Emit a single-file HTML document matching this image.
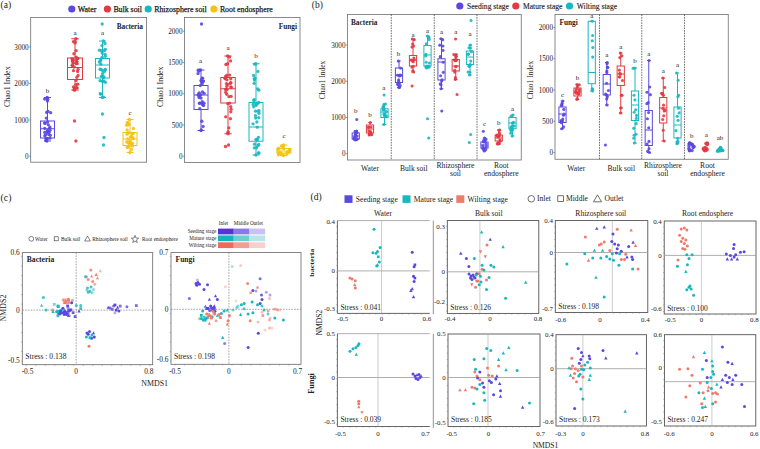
<!DOCTYPE html>
<html><head><meta charset="utf-8"><style>
html,body{margin:0;padding:0;background:#fff;width:760px;height:449px;overflow:hidden}
svg{display:block}
text{font-family:"Liberation Serif",serif}
</style></head><body>
<svg width="760" height="449" viewBox="0 0 760 449">
<rect width="760" height="449" fill="#fff"/>
<text x="0.60" y="8.30" font-size="9.5" text-anchor="start" fill="#222" >(a)</text>
<circle cx="71.80" cy="9.00" r="3.6" fill="#5a48e0"/>
<text x="77.80" y="11.80" font-size="7.85" text-anchor="start" fill="#222" stroke="#222" stroke-width="0.25">Water</text>
<circle cx="107.40" cy="9.00" r="3.6" fill="#e23a42"/>
<text x="113.40" y="11.80" font-size="7.85" text-anchor="start" fill="#222" stroke="#222" stroke-width="0.25">Bulk soil</text>
<circle cx="148.20" cy="9.00" r="3.6" fill="#18b8c0"/>
<text x="154.20" y="11.80" font-size="7.85" text-anchor="start" fill="#222" stroke="#222" stroke-width="0.25">Rhizosphere soil</text>
<circle cx="213.90" cy="9.00" r="3.6" fill="#f5c216"/>
<text x="219.90" y="11.80" font-size="7.85" text-anchor="start" fill="#222" stroke="#222" stroke-width="0.25">Root endosphere</text>
<rect x="30.70" y="17.50" width="115.90" height="144.70" stroke="#6e6e6e" stroke-width="0.8" fill="none"/>
<line x1="29.10" y1="156.25" x2="30.70" y2="156.25" stroke="#555" stroke-width="0.6"/>
<text x="28.70" y="158.75" font-size="7.2" text-anchor="end" fill="#222" >0</text>
<line x1="29.10" y1="120.00" x2="30.70" y2="120.00" stroke="#555" stroke-width="0.6"/>
<text x="28.70" y="122.50" font-size="7.2" text-anchor="end" fill="#222" >1000</text>
<line x1="29.10" y1="83.50" x2="30.70" y2="83.50" stroke="#555" stroke-width="0.6"/>
<text x="28.70" y="86.00" font-size="7.2" text-anchor="end" fill="#222" >2000</text>
<line x1="29.10" y1="47.00" x2="30.70" y2="47.00" stroke="#555" stroke-width="0.6"/>
<text x="28.70" y="49.50" font-size="7.2" text-anchor="end" fill="#222" >3000</text>
<text x="7.80" y="86.70" font-size="7.9" text-anchor="middle" fill="#222" transform="rotate(-90 7.8 86.7)" dominant-baseline="middle">Chao1 Index</text>
<text x="143.00" y="28.50" font-size="7.3" text-anchor="end" font-weight="bold" fill="#222" >Bacteria</text>
<line x1="47.50" y1="97.50" x2="47.50" y2="121.00" stroke="#5a48e0" stroke-width="1.0"/>
<line x1="47.50" y1="138.00" x2="47.50" y2="141.00" stroke="#5a48e0" stroke-width="1.0"/>
<line x1="44.00" y1="97.50" x2="51.00" y2="97.50" stroke="#5a48e0" stroke-width="1.0"/>
<line x1="44.00" y1="141.00" x2="51.00" y2="141.00" stroke="#5a48e0" stroke-width="1.0"/>
<rect x="40.50" y="121.00" width="14.00" height="17.00" stroke="#5a48e0" stroke-width="1.0" fill="none"/>
<line x1="40.50" y1="128.75" x2="54.50" y2="128.75" stroke="#5a48e0" stroke-width="1.0"/>
<circle cx="47.15" cy="97.50" r="1.65" fill="#5a48e0" fill-opacity="0.9"/>
<circle cx="46.80" cy="141.00" r="1.65" fill="#5a48e0" fill-opacity="0.9"/>
<circle cx="47.73" cy="99.20" r="1.65" fill="#5a48e0" fill-opacity="0.9"/>
<circle cx="47.55" cy="121.99" r="1.65" fill="#5a48e0" fill-opacity="0.9"/>
<circle cx="44.75" cy="128.37" r="1.65" fill="#5a48e0" fill-opacity="0.9"/>
<circle cx="49.59" cy="128.22" r="1.65" fill="#5a48e0" fill-opacity="0.9"/>
<circle cx="48.32" cy="124.80" r="1.65" fill="#5a48e0" fill-opacity="0.9"/>
<circle cx="46.84" cy="139.73" r="1.65" fill="#5a48e0" fill-opacity="0.9"/>
<circle cx="49.79" cy="138.14" r="1.65" fill="#5a48e0" fill-opacity="0.9"/>
<circle cx="45.05" cy="123.45" r="1.65" fill="#5a48e0" fill-opacity="0.9"/>
<circle cx="45.46" cy="134.87" r="1.65" fill="#5a48e0" fill-opacity="0.9"/>
<circle cx="46.68" cy="112.51" r="1.65" fill="#5a48e0" fill-opacity="0.9"/>
<circle cx="44.68" cy="98.98" r="1.65" fill="#5a48e0" fill-opacity="0.9"/>
<circle cx="47.04" cy="132.57" r="1.65" fill="#5a48e0" fill-opacity="0.9"/>
<circle cx="47.20" cy="130.95" r="1.65" fill="#5a48e0" fill-opacity="0.9"/>
<circle cx="48.77" cy="134.50" r="1.65" fill="#5a48e0" fill-opacity="0.9"/>
<circle cx="47.66" cy="130.77" r="1.65" fill="#5a48e0" fill-opacity="0.9"/>
<circle cx="46.14" cy="140.19" r="1.65" fill="#5a48e0" fill-opacity="0.9"/>
<circle cx="46.98" cy="138.35" r="1.65" fill="#5a48e0" fill-opacity="0.9"/>
<circle cx="47.43" cy="101.07" r="1.65" fill="#5a48e0" fill-opacity="0.9"/>
<circle cx="49.19" cy="132.36" r="1.65" fill="#5a48e0" fill-opacity="0.9"/>
<circle cx="46.31" cy="118.07" r="1.65" fill="#5a48e0" fill-opacity="0.9"/>
<circle cx="48.01" cy="111.47" r="1.65" fill="#5a48e0" fill-opacity="0.9"/>
<circle cx="50.35" cy="135.28" r="1.65" fill="#5a48e0" fill-opacity="0.9"/>
<circle cx="44.69" cy="132.29" r="1.65" fill="#5a48e0" fill-opacity="0.9"/>
<circle cx="50.66" cy="112.71" r="1.65" fill="#5a48e0" fill-opacity="0.9"/>
<circle cx="46.77" cy="138.85" r="1.65" fill="#5a48e0" fill-opacity="0.9"/>
<circle cx="47.25" cy="98.03" r="1.65" fill="#5a48e0" fill-opacity="0.9"/>
<circle cx="44.68" cy="122.99" r="1.65" fill="#5a48e0" fill-opacity="0.9"/>
<circle cx="45.88" cy="138.39" r="1.65" fill="#5a48e0" fill-opacity="0.9"/>
<circle cx="44.82" cy="135.81" r="1.65" fill="#5a48e0" fill-opacity="0.9"/>
<circle cx="49.95" cy="130.34" r="1.65" fill="#5a48e0" fill-opacity="0.9"/>
<circle cx="46.08" cy="140.59" r="1.65" fill="#5a48e0" fill-opacity="0.9"/>
<circle cx="49.96" cy="127.10" r="1.65" fill="#5a48e0" fill-opacity="0.9"/>
<line x1="75.00" y1="38.75" x2="75.00" y2="58.00" stroke="#e23a42" stroke-width="1.0"/>
<line x1="75.00" y1="79.50" x2="75.00" y2="90.00" stroke="#e23a42" stroke-width="1.0"/>
<line x1="71.25" y1="38.75" x2="78.75" y2="38.75" stroke="#e23a42" stroke-width="1.0"/>
<line x1="71.25" y1="90.00" x2="78.75" y2="90.00" stroke="#e23a42" stroke-width="1.0"/>
<rect x="67.50" y="58.00" width="15.00" height="21.50" stroke="#e23a42" stroke-width="1.0" fill="none"/>
<line x1="67.50" y1="67.50" x2="82.50" y2="67.50" stroke="#e23a42" stroke-width="1.0"/>
<circle cx="75.92" cy="38.75" r="1.65" fill="#e23a42" fill-opacity="0.9"/>
<circle cx="74.30" cy="90.00" r="1.65" fill="#e23a42" fill-opacity="0.9"/>
<circle cx="73.29" cy="62.99" r="1.65" fill="#e23a42" fill-opacity="0.9"/>
<circle cx="73.48" cy="70.67" r="1.65" fill="#e23a42" fill-opacity="0.9"/>
<circle cx="74.16" cy="67.01" r="1.65" fill="#e23a42" fill-opacity="0.9"/>
<circle cx="76.22" cy="57.10" r="1.65" fill="#e23a42" fill-opacity="0.9"/>
<circle cx="76.13" cy="50.64" r="1.65" fill="#e23a42" fill-opacity="0.9"/>
<circle cx="76.79" cy="77.34" r="1.65" fill="#e23a42" fill-opacity="0.9"/>
<circle cx="74.31" cy="87.88" r="1.65" fill="#e23a42" fill-opacity="0.9"/>
<circle cx="75.86" cy="60.23" r="1.65" fill="#e23a42" fill-opacity="0.9"/>
<circle cx="73.14" cy="59.45" r="1.65" fill="#e23a42" fill-opacity="0.9"/>
<circle cx="72.14" cy="65.31" r="1.65" fill="#e23a42" fill-opacity="0.9"/>
<circle cx="72.45" cy="61.25" r="1.65" fill="#e23a42" fill-opacity="0.9"/>
<circle cx="77.40" cy="58.55" r="1.65" fill="#e23a42" fill-opacity="0.9"/>
<circle cx="73.41" cy="41.61" r="1.65" fill="#e23a42" fill-opacity="0.9"/>
<circle cx="72.59" cy="65.83" r="1.65" fill="#e23a42" fill-opacity="0.9"/>
<circle cx="74.78" cy="89.93" r="1.65" fill="#e23a42" fill-opacity="0.9"/>
<circle cx="72.45" cy="59.85" r="1.65" fill="#e23a42" fill-opacity="0.9"/>
<circle cx="77.10" cy="63.69" r="1.65" fill="#e23a42" fill-opacity="0.9"/>
<circle cx="77.89" cy="58.50" r="1.65" fill="#e23a42" fill-opacity="0.9"/>
<circle cx="75.28" cy="41.57" r="1.65" fill="#e23a42" fill-opacity="0.9"/>
<circle cx="78.06" cy="69.35" r="1.65" fill="#e23a42" fill-opacity="0.9"/>
<circle cx="73.47" cy="86.81" r="1.65" fill="#e23a42" fill-opacity="0.9"/>
<circle cx="76.74" cy="61.59" r="1.65" fill="#e23a42" fill-opacity="0.9"/>
<circle cx="73.91" cy="53.75" r="1.65" fill="#e23a42" fill-opacity="0.9"/>
<circle cx="78.10" cy="75.45" r="1.65" fill="#e23a42" fill-opacity="0.9"/>
<circle cx="77.04" cy="87.96" r="1.65" fill="#e23a42" fill-opacity="0.9"/>
<circle cx="75.11" cy="43.11" r="1.65" fill="#e23a42" fill-opacity="0.9"/>
<circle cx="71.98" cy="58.62" r="1.65" fill="#e23a42" fill-opacity="0.9"/>
<circle cx="76.23" cy="63.57" r="1.65" fill="#e23a42" fill-opacity="0.9"/>
<circle cx="77.80" cy="84.20" r="1.65" fill="#e23a42" fill-opacity="0.9"/>
<circle cx="74.13" cy="89.53" r="1.65" fill="#e23a42" fill-opacity="0.9"/>
<circle cx="73.06" cy="62.88" r="1.65" fill="#e23a42" fill-opacity="0.9"/>
<circle cx="77.56" cy="71.42" r="1.65" fill="#e23a42" fill-opacity="0.9"/>
<circle cx="75.98" cy="84.53" r="1.65" fill="#e23a42" fill-opacity="0.9"/>
<circle cx="76.03" cy="80.39" r="1.65" fill="#e23a42" fill-opacity="0.9"/>
<circle cx="76.60" cy="87.71" r="1.65" fill="#e23a42" fill-opacity="0.9"/>
<circle cx="76.85" cy="61.84" r="1.65" fill="#e23a42" fill-opacity="0.9"/>
<circle cx="74.50" cy="121.00" r="1.65" fill="#e23a42" fill-opacity="0.9"/>
<circle cx="75.90" cy="141.00" r="1.65" fill="#e23a42" fill-opacity="0.9"/>
<line x1="102.50" y1="41.00" x2="102.50" y2="58.50" stroke="#18b8c0" stroke-width="1.0"/>
<line x1="102.50" y1="78.00" x2="102.50" y2="97.50" stroke="#18b8c0" stroke-width="1.0"/>
<line x1="99.00" y1="41.00" x2="106.00" y2="41.00" stroke="#18b8c0" stroke-width="1.0"/>
<line x1="99.00" y1="97.50" x2="106.00" y2="97.50" stroke="#18b8c0" stroke-width="1.0"/>
<rect x="95.50" y="58.50" width="14.00" height="19.50" stroke="#18b8c0" stroke-width="1.0" fill="none"/>
<line x1="95.50" y1="65.00" x2="109.50" y2="65.00" stroke="#18b8c0" stroke-width="1.0"/>
<circle cx="103.44" cy="41.00" r="1.65" fill="#18b8c0" fill-opacity="0.9"/>
<circle cx="102.29" cy="97.50" r="1.65" fill="#18b8c0" fill-opacity="0.9"/>
<circle cx="103.94" cy="76.96" r="1.65" fill="#18b8c0" fill-opacity="0.9"/>
<circle cx="100.27" cy="60.98" r="1.65" fill="#18b8c0" fill-opacity="0.9"/>
<circle cx="100.24" cy="93.73" r="1.65" fill="#18b8c0" fill-opacity="0.9"/>
<circle cx="103.51" cy="97.12" r="1.65" fill="#18b8c0" fill-opacity="0.9"/>
<circle cx="100.14" cy="69.20" r="1.65" fill="#18b8c0" fill-opacity="0.9"/>
<circle cx="103.46" cy="77.43" r="1.65" fill="#18b8c0" fill-opacity="0.9"/>
<circle cx="102.08" cy="57.34" r="1.65" fill="#18b8c0" fill-opacity="0.9"/>
<circle cx="100.65" cy="94.11" r="1.65" fill="#18b8c0" fill-opacity="0.9"/>
<circle cx="100.84" cy="64.21" r="1.65" fill="#18b8c0" fill-opacity="0.9"/>
<circle cx="101.98" cy="45.54" r="1.65" fill="#18b8c0" fill-opacity="0.9"/>
<circle cx="101.56" cy="76.25" r="1.65" fill="#18b8c0" fill-opacity="0.9"/>
<circle cx="105.09" cy="69.88" r="1.65" fill="#18b8c0" fill-opacity="0.9"/>
<circle cx="102.51" cy="76.40" r="1.65" fill="#18b8c0" fill-opacity="0.9"/>
<circle cx="99.42" cy="50.16" r="1.65" fill="#18b8c0" fill-opacity="0.9"/>
<circle cx="99.33" cy="62.07" r="1.65" fill="#18b8c0" fill-opacity="0.9"/>
<circle cx="102.33" cy="81.36" r="1.65" fill="#18b8c0" fill-opacity="0.9"/>
<circle cx="101.39" cy="50.74" r="1.65" fill="#18b8c0" fill-opacity="0.9"/>
<circle cx="104.32" cy="50.72" r="1.65" fill="#18b8c0" fill-opacity="0.9"/>
<circle cx="100.89" cy="69.43" r="1.65" fill="#18b8c0" fill-opacity="0.9"/>
<circle cx="102.55" cy="73.56" r="1.65" fill="#18b8c0" fill-opacity="0.9"/>
<circle cx="105.14" cy="54.30" r="1.65" fill="#18b8c0" fill-opacity="0.9"/>
<circle cx="102.54" cy="70.44" r="1.65" fill="#18b8c0" fill-opacity="0.9"/>
<circle cx="102.20" cy="53.12" r="1.65" fill="#18b8c0" fill-opacity="0.9"/>
<circle cx="105.33" cy="49.37" r="1.65" fill="#18b8c0" fill-opacity="0.9"/>
<circle cx="105.33" cy="56.34" r="1.65" fill="#18b8c0" fill-opacity="0.9"/>
<circle cx="105.34" cy="69.41" r="1.65" fill="#18b8c0" fill-opacity="0.9"/>
<circle cx="100.08" cy="80.67" r="1.65" fill="#18b8c0" fill-opacity="0.9"/>
<circle cx="100.84" cy="59.91" r="1.65" fill="#18b8c0" fill-opacity="0.9"/>
<circle cx="104.32" cy="71.55" r="1.65" fill="#18b8c0" fill-opacity="0.9"/>
<circle cx="103.88" cy="81.01" r="1.65" fill="#18b8c0" fill-opacity="0.9"/>
<circle cx="104.95" cy="43.50" r="1.65" fill="#18b8c0" fill-opacity="0.9"/>
<circle cx="105.40" cy="82.28" r="1.65" fill="#18b8c0" fill-opacity="0.9"/>
<circle cx="102.19" cy="24.00" r="1.65" fill="#18b8c0" fill-opacity="0.9"/>
<circle cx="102.46" cy="114.00" r="1.65" fill="#18b8c0" fill-opacity="0.9"/>
<circle cx="103.97" cy="137.50" r="1.65" fill="#18b8c0" fill-opacity="0.9"/>
<circle cx="103.50" cy="145.00" r="1.65" fill="#18b8c0" fill-opacity="0.9"/>
<line x1="130.00" y1="119.50" x2="130.00" y2="132.50" stroke="#f5c216" stroke-width="1.0"/>
<line x1="130.00" y1="145.50" x2="130.00" y2="152.50" stroke="#f5c216" stroke-width="1.0"/>
<line x1="126.50" y1="119.50" x2="133.50" y2="119.50" stroke="#f5c216" stroke-width="1.0"/>
<line x1="126.50" y1="152.50" x2="133.50" y2="152.50" stroke="#f5c216" stroke-width="1.0"/>
<rect x="123.00" y="132.50" width="14.00" height="13.00" stroke="#f5c216" stroke-width="1.0" fill="none"/>
<line x1="123.00" y1="139.00" x2="137.00" y2="139.00" stroke="#f5c216" stroke-width="1.0"/>
<circle cx="129.32" cy="119.50" r="1.65" fill="#f5c216" fill-opacity="0.9"/>
<circle cx="129.86" cy="152.50" r="1.65" fill="#f5c216" fill-opacity="0.9"/>
<circle cx="127.87" cy="123.91" r="1.65" fill="#f5c216" fill-opacity="0.9"/>
<circle cx="126.64" cy="141.89" r="1.65" fill="#f5c216" fill-opacity="0.9"/>
<circle cx="126.63" cy="125.23" r="1.65" fill="#f5c216" fill-opacity="0.9"/>
<circle cx="130.09" cy="140.61" r="1.65" fill="#f5c216" fill-opacity="0.9"/>
<circle cx="132.02" cy="145.31" r="1.65" fill="#f5c216" fill-opacity="0.9"/>
<circle cx="128.36" cy="146.23" r="1.65" fill="#f5c216" fill-opacity="0.9"/>
<circle cx="128.39" cy="142.63" r="1.65" fill="#f5c216" fill-opacity="0.9"/>
<circle cx="132.88" cy="137.99" r="1.65" fill="#f5c216" fill-opacity="0.9"/>
<circle cx="127.55" cy="147.31" r="1.65" fill="#f5c216" fill-opacity="0.9"/>
<circle cx="131.40" cy="149.49" r="1.65" fill="#f5c216" fill-opacity="0.9"/>
<circle cx="131.32" cy="133.25" r="1.65" fill="#f5c216" fill-opacity="0.9"/>
<circle cx="133.07" cy="133.44" r="1.65" fill="#f5c216" fill-opacity="0.9"/>
<circle cx="127.09" cy="129.92" r="1.65" fill="#f5c216" fill-opacity="0.9"/>
<circle cx="132.54" cy="145.97" r="1.65" fill="#f5c216" fill-opacity="0.9"/>
<circle cx="130.37" cy="136.91" r="1.65" fill="#f5c216" fill-opacity="0.9"/>
<circle cx="127.40" cy="147.38" r="1.65" fill="#f5c216" fill-opacity="0.9"/>
<circle cx="127.27" cy="122.60" r="1.65" fill="#f5c216" fill-opacity="0.9"/>
<circle cx="127.91" cy="133.15" r="1.65" fill="#f5c216" fill-opacity="0.9"/>
<circle cx="131.82" cy="136.47" r="1.65" fill="#f5c216" fill-opacity="0.9"/>
<circle cx="127.75" cy="139.00" r="1.65" fill="#f5c216" fill-opacity="0.9"/>
<circle cx="128.25" cy="132.74" r="1.65" fill="#f5c216" fill-opacity="0.9"/>
<circle cx="130.36" cy="142.03" r="1.65" fill="#f5c216" fill-opacity="0.9"/>
<circle cx="133.04" cy="138.67" r="1.65" fill="#f5c216" fill-opacity="0.9"/>
<circle cx="129.53" cy="143.15" r="1.65" fill="#f5c216" fill-opacity="0.9"/>
<circle cx="129.25" cy="143.35" r="1.65" fill="#f5c216" fill-opacity="0.9"/>
<circle cx="133.38" cy="128.44" r="1.65" fill="#f5c216" fill-opacity="0.9"/>
<circle cx="131.45" cy="143.32" r="1.65" fill="#f5c216" fill-opacity="0.9"/>
<circle cx="128.93" cy="124.76" r="1.65" fill="#f5c216" fill-opacity="0.9"/>
<circle cx="127.00" cy="134.19" r="1.65" fill="#f5c216" fill-opacity="0.9"/>
<circle cx="127.64" cy="122.82" r="1.65" fill="#f5c216" fill-opacity="0.9"/>
<circle cx="132.59" cy="143.44" r="1.65" fill="#f5c216" fill-opacity="0.9"/>
<circle cx="128.20" cy="123.17" r="1.65" fill="#f5c216" fill-opacity="0.9"/>
<text x="47.50" y="93.20" font-size="7" text-anchor="middle" fill="#222" >b</text>
<text x="75.00" y="34.70" font-size="7" text-anchor="middle" fill="#222" >a</text>
<text x="102.50" y="34.70" font-size="7" text-anchor="middle" fill="#222" >a</text>
<text x="130.00" y="115.20" font-size="7" text-anchor="middle" fill="#222" >c</text>
<rect x="184.50" y="17.50" width="115.50" height="145.00" stroke="#6e6e6e" stroke-width="0.8" fill="none"/>
<line x1="182.90" y1="156.25" x2="184.50" y2="156.25" stroke="#555" stroke-width="0.6"/>
<text x="182.50" y="158.75" font-size="7.2" text-anchor="end" fill="#222" >0</text>
<line x1="182.90" y1="125.00" x2="184.50" y2="125.00" stroke="#555" stroke-width="0.6"/>
<text x="182.50" y="127.50" font-size="7.2" text-anchor="end" fill="#222" >500</text>
<line x1="182.90" y1="93.75" x2="184.50" y2="93.75" stroke="#555" stroke-width="0.6"/>
<text x="182.50" y="96.25" font-size="7.2" text-anchor="end" fill="#222" >1000</text>
<line x1="182.90" y1="62.50" x2="184.50" y2="62.50" stroke="#555" stroke-width="0.6"/>
<text x="182.50" y="65.00" font-size="7.2" text-anchor="end" fill="#222" >1500</text>
<line x1="182.90" y1="31.25" x2="184.50" y2="31.25" stroke="#555" stroke-width="0.6"/>
<text x="182.50" y="33.75" font-size="7.2" text-anchor="end" fill="#222" >2000</text>
<text x="161.20" y="86.70" font-size="7.9" text-anchor="middle" fill="#222" transform="rotate(-90 161.2 86.7)" dominant-baseline="middle">Chao1 Index</text>
<text x="297.00" y="28.50" font-size="7.3" text-anchor="end" font-weight="bold" fill="#222" >Fungi</text>
<line x1="201.00" y1="70.00" x2="201.00" y2="85.50" stroke="#5a48e0" stroke-width="1.0"/>
<line x1="201.00" y1="109.50" x2="201.00" y2="130.50" stroke="#5a48e0" stroke-width="1.0"/>
<line x1="197.50" y1="70.00" x2="204.50" y2="70.00" stroke="#5a48e0" stroke-width="1.0"/>
<line x1="197.50" y1="130.50" x2="204.50" y2="130.50" stroke="#5a48e0" stroke-width="1.0"/>
<rect x="194.00" y="85.50" width="14.00" height="24.00" stroke="#5a48e0" stroke-width="1.0" fill="none"/>
<line x1="194.00" y1="95.00" x2="208.00" y2="95.00" stroke="#5a48e0" stroke-width="1.0"/>
<circle cx="200.59" cy="70.00" r="1.65" fill="#5a48e0" fill-opacity="0.9"/>
<circle cx="200.92" cy="130.50" r="1.65" fill="#5a48e0" fill-opacity="0.9"/>
<circle cx="199.48" cy="96.20" r="1.65" fill="#5a48e0" fill-opacity="0.9"/>
<circle cx="201.30" cy="129.93" r="1.65" fill="#5a48e0" fill-opacity="0.9"/>
<circle cx="199.78" cy="108.68" r="1.65" fill="#5a48e0" fill-opacity="0.9"/>
<circle cx="200.24" cy="85.53" r="1.65" fill="#5a48e0" fill-opacity="0.9"/>
<circle cx="199.09" cy="97.57" r="1.65" fill="#5a48e0" fill-opacity="0.9"/>
<circle cx="199.49" cy="70.08" r="1.65" fill="#5a48e0" fill-opacity="0.9"/>
<circle cx="198.07" cy="95.09" r="1.65" fill="#5a48e0" fill-opacity="0.9"/>
<circle cx="199.29" cy="92.80" r="1.65" fill="#5a48e0" fill-opacity="0.9"/>
<circle cx="202.60" cy="78.20" r="1.65" fill="#5a48e0" fill-opacity="0.9"/>
<circle cx="203.43" cy="81.10" r="1.65" fill="#5a48e0" fill-opacity="0.9"/>
<circle cx="204.10" cy="93.33" r="1.65" fill="#5a48e0" fill-opacity="0.9"/>
<circle cx="201.92" cy="102.88" r="1.65" fill="#5a48e0" fill-opacity="0.9"/>
<circle cx="203.51" cy="105.55" r="1.65" fill="#5a48e0" fill-opacity="0.9"/>
<circle cx="203.00" cy="81.37" r="1.65" fill="#5a48e0" fill-opacity="0.9"/>
<circle cx="201.03" cy="98.07" r="1.65" fill="#5a48e0" fill-opacity="0.9"/>
<circle cx="203.09" cy="126.40" r="1.65" fill="#5a48e0" fill-opacity="0.9"/>
<circle cx="202.17" cy="83.84" r="1.65" fill="#5a48e0" fill-opacity="0.9"/>
<circle cx="198.00" cy="73.56" r="1.65" fill="#5a48e0" fill-opacity="0.9"/>
<circle cx="198.47" cy="94.16" r="1.65" fill="#5a48e0" fill-opacity="0.9"/>
<circle cx="201.82" cy="121.23" r="1.65" fill="#5a48e0" fill-opacity="0.9"/>
<circle cx="200.93" cy="80.55" r="1.65" fill="#5a48e0" fill-opacity="0.9"/>
<circle cx="202.59" cy="104.64" r="1.65" fill="#5a48e0" fill-opacity="0.9"/>
<circle cx="202.02" cy="78.30" r="1.65" fill="#5a48e0" fill-opacity="0.9"/>
<circle cx="199.41" cy="103.18" r="1.65" fill="#5a48e0" fill-opacity="0.9"/>
<circle cx="202.47" cy="91.87" r="1.65" fill="#5a48e0" fill-opacity="0.9"/>
<circle cx="204.04" cy="103.26" r="1.65" fill="#5a48e0" fill-opacity="0.9"/>
<circle cx="200.87" cy="94.68" r="1.65" fill="#5a48e0" fill-opacity="0.9"/>
<circle cx="201.75" cy="81.89" r="1.65" fill="#5a48e0" fill-opacity="0.9"/>
<circle cx="198.74" cy="71.20" r="1.65" fill="#5a48e0" fill-opacity="0.9"/>
<circle cx="199.75" cy="103.34" r="1.65" fill="#5a48e0" fill-opacity="0.9"/>
<circle cx="198.19" cy="70.19" r="1.65" fill="#5a48e0" fill-opacity="0.9"/>
<circle cx="202.23" cy="101.63" r="1.65" fill="#5a48e0" fill-opacity="0.9"/>
<circle cx="201.53" cy="24.00" r="1.65" fill="#5a48e0" fill-opacity="0.9"/>
<line x1="228.00" y1="56.00" x2="228.00" y2="77.50" stroke="#e23a42" stroke-width="1.0"/>
<line x1="228.00" y1="103.00" x2="228.00" y2="133.75" stroke="#e23a42" stroke-width="1.0"/>
<line x1="224.38" y1="56.00" x2="231.62" y2="56.00" stroke="#e23a42" stroke-width="1.0"/>
<line x1="224.38" y1="133.75" x2="231.62" y2="133.75" stroke="#e23a42" stroke-width="1.0"/>
<rect x="220.75" y="77.50" width="14.50" height="25.50" stroke="#e23a42" stroke-width="1.0" fill="none"/>
<line x1="220.75" y1="88.75" x2="235.25" y2="88.75" stroke="#e23a42" stroke-width="1.0"/>
<circle cx="227.58" cy="56.00" r="1.65" fill="#e23a42" fill-opacity="0.9"/>
<circle cx="228.03" cy="133.75" r="1.65" fill="#e23a42" fill-opacity="0.9"/>
<circle cx="225.56" cy="89.39" r="1.65" fill="#e23a42" fill-opacity="0.9"/>
<circle cx="231.06" cy="109.13" r="1.65" fill="#e23a42" fill-opacity="0.9"/>
<circle cx="227.74" cy="103.54" r="1.65" fill="#e23a42" fill-opacity="0.9"/>
<circle cx="227.68" cy="132.77" r="1.65" fill="#e23a42" fill-opacity="0.9"/>
<circle cx="230.85" cy="82.85" r="1.65" fill="#e23a42" fill-opacity="0.9"/>
<circle cx="225.71" cy="92.33" r="1.65" fill="#e23a42" fill-opacity="0.9"/>
<circle cx="225.65" cy="76.48" r="1.65" fill="#e23a42" fill-opacity="0.9"/>
<circle cx="230.48" cy="118.64" r="1.65" fill="#e23a42" fill-opacity="0.9"/>
<circle cx="230.55" cy="60.97" r="1.65" fill="#e23a42" fill-opacity="0.9"/>
<circle cx="224.82" cy="78.13" r="1.65" fill="#e23a42" fill-opacity="0.9"/>
<circle cx="226.73" cy="88.99" r="1.65" fill="#e23a42" fill-opacity="0.9"/>
<circle cx="226.82" cy="86.27" r="1.65" fill="#e23a42" fill-opacity="0.9"/>
<circle cx="229.60" cy="103.05" r="1.65" fill="#e23a42" fill-opacity="0.9"/>
<circle cx="230.73" cy="106.69" r="1.65" fill="#e23a42" fill-opacity="0.9"/>
<circle cx="226.65" cy="75.38" r="1.65" fill="#e23a42" fill-opacity="0.9"/>
<circle cx="231.19" cy="87.52" r="1.65" fill="#e23a42" fill-opacity="0.9"/>
<circle cx="227.54" cy="63.76" r="1.65" fill="#e23a42" fill-opacity="0.9"/>
<circle cx="225.45" cy="78.73" r="1.65" fill="#e23a42" fill-opacity="0.9"/>
<circle cx="230.79" cy="111.78" r="1.65" fill="#e23a42" fill-opacity="0.9"/>
<circle cx="228.07" cy="84.28" r="1.65" fill="#e23a42" fill-opacity="0.9"/>
<circle cx="230.92" cy="87.02" r="1.65" fill="#e23a42" fill-opacity="0.9"/>
<circle cx="228.84" cy="127.97" r="1.65" fill="#e23a42" fill-opacity="0.9"/>
<circle cx="228.32" cy="131.93" r="1.65" fill="#e23a42" fill-opacity="0.9"/>
<circle cx="229.49" cy="57.06" r="1.65" fill="#e23a42" fill-opacity="0.9"/>
<circle cx="228.92" cy="96.69" r="1.65" fill="#e23a42" fill-opacity="0.9"/>
<circle cx="230.73" cy="78.75" r="1.65" fill="#e23a42" fill-opacity="0.9"/>
<circle cx="227.00" cy="89.54" r="1.65" fill="#e23a42" fill-opacity="0.9"/>
<circle cx="231.05" cy="96.35" r="1.65" fill="#e23a42" fill-opacity="0.9"/>
<circle cx="226.73" cy="94.23" r="1.65" fill="#e23a42" fill-opacity="0.9"/>
<circle cx="225.87" cy="64.48" r="1.65" fill="#e23a42" fill-opacity="0.9"/>
<circle cx="230.60" cy="82.80" r="1.65" fill="#e23a42" fill-opacity="0.9"/>
<circle cx="230.60" cy="83.11" r="1.65" fill="#e23a42" fill-opacity="0.9"/>
<circle cx="225.69" cy="116.84" r="1.65" fill="#e23a42" fill-opacity="0.9"/>
<circle cx="226.99" cy="79.81" r="1.65" fill="#e23a42" fill-opacity="0.9"/>
<circle cx="226.45" cy="83.60" r="1.65" fill="#e23a42" fill-opacity="0.9"/>
<circle cx="229.60" cy="75.08" r="1.65" fill="#e23a42" fill-opacity="0.9"/>
<circle cx="225.50" cy="146.50" r="1.65" fill="#e23a42" fill-opacity="0.9"/>
<circle cx="228.50" cy="145.00" r="1.65" fill="#e23a42" fill-opacity="0.9"/>
<line x1="256.00" y1="63.75" x2="256.00" y2="102.50" stroke="#18b8c0" stroke-width="1.0"/>
<line x1="256.00" y1="141.25" x2="256.00" y2="155.00" stroke="#18b8c0" stroke-width="1.0"/>
<line x1="252.50" y1="63.75" x2="259.50" y2="63.75" stroke="#18b8c0" stroke-width="1.0"/>
<line x1="252.50" y1="155.00" x2="259.50" y2="155.00" stroke="#18b8c0" stroke-width="1.0"/>
<rect x="249.00" y="102.50" width="14.00" height="38.75" stroke="#18b8c0" stroke-width="1.0" fill="none"/>
<line x1="249.00" y1="127.00" x2="263.00" y2="127.00" stroke="#18b8c0" stroke-width="1.0"/>
<circle cx="255.83" cy="63.75" r="1.65" fill="#18b8c0" fill-opacity="0.9"/>
<circle cx="255.83" cy="155.00" r="1.65" fill="#18b8c0" fill-opacity="0.9"/>
<circle cx="254.96" cy="78.35" r="1.65" fill="#18b8c0" fill-opacity="0.9"/>
<circle cx="258.99" cy="113.25" r="1.65" fill="#18b8c0" fill-opacity="0.9"/>
<circle cx="256.83" cy="122.01" r="1.65" fill="#18b8c0" fill-opacity="0.9"/>
<circle cx="254.53" cy="144.22" r="1.65" fill="#18b8c0" fill-opacity="0.9"/>
<circle cx="255.65" cy="117.99" r="1.65" fill="#18b8c0" fill-opacity="0.9"/>
<circle cx="258.39" cy="152.92" r="1.65" fill="#18b8c0" fill-opacity="0.9"/>
<circle cx="257.34" cy="103.75" r="1.65" fill="#18b8c0" fill-opacity="0.9"/>
<circle cx="256.56" cy="147.76" r="1.65" fill="#18b8c0" fill-opacity="0.9"/>
<circle cx="258.73" cy="117.67" r="1.65" fill="#18b8c0" fill-opacity="0.9"/>
<circle cx="259.02" cy="153.01" r="1.65" fill="#18b8c0" fill-opacity="0.9"/>
<circle cx="253.79" cy="106.73" r="1.65" fill="#18b8c0" fill-opacity="0.9"/>
<circle cx="258.83" cy="90.18" r="1.65" fill="#18b8c0" fill-opacity="0.9"/>
<circle cx="257.69" cy="88.83" r="1.65" fill="#18b8c0" fill-opacity="0.9"/>
<circle cx="253.05" cy="123.87" r="1.65" fill="#18b8c0" fill-opacity="0.9"/>
<circle cx="258.69" cy="144.45" r="1.65" fill="#18b8c0" fill-opacity="0.9"/>
<circle cx="253.62" cy="75.52" r="1.65" fill="#18b8c0" fill-opacity="0.9"/>
<circle cx="257.27" cy="127.16" r="1.65" fill="#18b8c0" fill-opacity="0.9"/>
<circle cx="256.16" cy="105.23" r="1.65" fill="#18b8c0" fill-opacity="0.9"/>
<circle cx="254.23" cy="78.79" r="1.65" fill="#18b8c0" fill-opacity="0.9"/>
<circle cx="254.73" cy="64.16" r="1.65" fill="#18b8c0" fill-opacity="0.9"/>
<circle cx="256.93" cy="139.66" r="1.65" fill="#18b8c0" fill-opacity="0.9"/>
<circle cx="254.30" cy="147.79" r="1.65" fill="#18b8c0" fill-opacity="0.9"/>
<circle cx="257.31" cy="139.72" r="1.65" fill="#18b8c0" fill-opacity="0.9"/>
<circle cx="255.99" cy="103.34" r="1.65" fill="#18b8c0" fill-opacity="0.9"/>
<circle cx="254.45" cy="80.03" r="1.65" fill="#18b8c0" fill-opacity="0.9"/>
<circle cx="254.25" cy="99.60" r="1.65" fill="#18b8c0" fill-opacity="0.9"/>
<circle cx="255.49" cy="115.60" r="1.65" fill="#18b8c0" fill-opacity="0.9"/>
<circle cx="257.90" cy="71.43" r="1.65" fill="#18b8c0" fill-opacity="0.9"/>
<circle cx="254.11" cy="83.31" r="1.65" fill="#18b8c0" fill-opacity="0.9"/>
<circle cx="258.05" cy="145.54" r="1.65" fill="#18b8c0" fill-opacity="0.9"/>
<circle cx="257.67" cy="111.08" r="1.65" fill="#18b8c0" fill-opacity="0.9"/>
<circle cx="255.97" cy="139.39" r="1.65" fill="#18b8c0" fill-opacity="0.9"/>
<circle cx="255.47" cy="111.15" r="1.65" fill="#18b8c0" fill-opacity="0.9"/>
<circle cx="253.74" cy="100.51" r="1.65" fill="#18b8c0" fill-opacity="0.9"/>
<circle cx="259.03" cy="110.75" r="1.65" fill="#18b8c0" fill-opacity="0.9"/>
<circle cx="253.18" cy="104.51" r="1.65" fill="#18b8c0" fill-opacity="0.9"/>
<circle cx="258.45" cy="137.30" r="1.65" fill="#18b8c0" fill-opacity="0.9"/>
<circle cx="258.76" cy="102.40" r="1.65" fill="#18b8c0" fill-opacity="0.9"/>
<line x1="284.00" y1="145.00" x2="284.00" y2="148.50" stroke="#f5c216" stroke-width="1.0"/>
<line x1="284.00" y1="153.00" x2="284.00" y2="155.50" stroke="#f5c216" stroke-width="1.0"/>
<line x1="280.50" y1="145.00" x2="287.50" y2="145.00" stroke="#f5c216" stroke-width="1.0"/>
<line x1="280.50" y1="155.50" x2="287.50" y2="155.50" stroke="#f5c216" stroke-width="1.0"/>
<rect x="277.00" y="148.50" width="14.00" height="4.50" stroke="#f5c216" stroke-width="1.0" fill="none"/>
<line x1="277.00" y1="151.00" x2="291.00" y2="151.00" stroke="#f5c216" stroke-width="1.0"/>
<circle cx="283.66" cy="145.00" r="1.65" fill="#f5c216" fill-opacity="0.9"/>
<circle cx="283.37" cy="155.50" r="1.65" fill="#f5c216" fill-opacity="0.9"/>
<circle cx="278.38" cy="154.87" r="1.65" fill="#f5c216" fill-opacity="0.9"/>
<circle cx="282.49" cy="146.33" r="1.65" fill="#f5c216" fill-opacity="0.9"/>
<circle cx="278.03" cy="149.26" r="1.65" fill="#f5c216" fill-opacity="0.9"/>
<circle cx="289.47" cy="150.08" r="1.65" fill="#f5c216" fill-opacity="0.9"/>
<circle cx="280.49" cy="152.84" r="1.65" fill="#f5c216" fill-opacity="0.9"/>
<circle cx="287.86" cy="152.20" r="1.65" fill="#f5c216" fill-opacity="0.9"/>
<circle cx="283.68" cy="148.72" r="1.65" fill="#f5c216" fill-opacity="0.9"/>
<circle cx="280.32" cy="152.64" r="1.65" fill="#f5c216" fill-opacity="0.9"/>
<circle cx="278.36" cy="152.54" r="1.65" fill="#f5c216" fill-opacity="0.9"/>
<circle cx="287.20" cy="152.15" r="1.65" fill="#f5c216" fill-opacity="0.9"/>
<circle cx="278.75" cy="148.66" r="1.65" fill="#f5c216" fill-opacity="0.9"/>
<circle cx="286.97" cy="153.64" r="1.65" fill="#f5c216" fill-opacity="0.9"/>
<circle cx="281.27" cy="153.85" r="1.65" fill="#f5c216" fill-opacity="0.9"/>
<circle cx="281.15" cy="154.54" r="1.65" fill="#f5c216" fill-opacity="0.9"/>
<circle cx="281.31" cy="146.11" r="1.65" fill="#f5c216" fill-opacity="0.9"/>
<circle cx="289.00" cy="151.90" r="1.65" fill="#f5c216" fill-opacity="0.9"/>
<circle cx="278.29" cy="148.30" r="1.65" fill="#f5c216" fill-opacity="0.9"/>
<circle cx="289.48" cy="150.64" r="1.65" fill="#f5c216" fill-opacity="0.9"/>
<text x="200.50" y="63.20" font-size="7" text-anchor="middle" fill="#222" >a</text>
<text x="228.00" y="49.70" font-size="7" text-anchor="middle" fill="#222" >a</text>
<text x="256.00" y="57.70" font-size="7" text-anchor="middle" fill="#222" >b</text>
<text x="284.00" y="138.20" font-size="7" text-anchor="middle" fill="#222" >c</text>
<text x="311.80" y="8.20" font-size="9.5" text-anchor="start" fill="#222" >(b)</text>
<circle cx="459.80" cy="6.00" r="3.6" fill="#5a48e0"/>
<text x="467.00" y="9.00" font-size="7.6" text-anchor="start" fill="#222" stroke="#222" stroke-width="0.12">Seeding stage</text>
<circle cx="515.80" cy="6.00" r="3.6" fill="#e23a42"/>
<text x="523.00" y="9.00" font-size="7.6" text-anchor="start" fill="#222" stroke="#222" stroke-width="0.12">Mature stage</text>
<circle cx="569.50" cy="6.00" r="3.6" fill="#18b8c0"/>
<text x="576.70" y="9.00" font-size="7.6" text-anchor="start" fill="#222" stroke="#222" stroke-width="0.12">Wilting stage</text>
<rect x="347.50" y="14.50" width="173.75" height="145.50" stroke="#6e6e6e" stroke-width="0.8" fill="none"/>
<line x1="391.25" y1="14.50" x2="391.25" y2="160.00" stroke="#333" stroke-width="0.7" stroke-dasharray="1.6,1"/>
<line x1="434.25" y1="14.50" x2="434.25" y2="160.00" stroke="#333" stroke-width="0.7" stroke-dasharray="1.6,1"/>
<line x1="477.00" y1="14.50" x2="477.00" y2="160.00" stroke="#333" stroke-width="0.7" stroke-dasharray="1.6,1"/>
<line x1="345.90" y1="153.75" x2="347.50" y2="153.75" stroke="#555" stroke-width="0.6"/>
<text x="345.50" y="156.25" font-size="7.2" text-anchor="end" fill="#222" >0</text>
<line x1="345.90" y1="117.50" x2="347.50" y2="117.50" stroke="#555" stroke-width="0.6"/>
<text x="345.50" y="120.00" font-size="7.2" text-anchor="end" fill="#222" >1000</text>
<line x1="345.90" y1="81.25" x2="347.50" y2="81.25" stroke="#555" stroke-width="0.6"/>
<text x="345.50" y="83.75" font-size="7.2" text-anchor="end" fill="#222" >2000</text>
<line x1="345.90" y1="45.00" x2="347.50" y2="45.00" stroke="#555" stroke-width="0.6"/>
<text x="345.50" y="47.50" font-size="7.2" text-anchor="end" fill="#222" >3000</text>
<text x="323.75" y="80.00" font-size="7.5" text-anchor="middle" fill="#222" transform="rotate(-90 323.75 80)" dominant-baseline="middle">Chao1 Index</text>
<text x="351.00" y="24.50" font-size="7.3" text-anchor="start" font-weight="bold" fill="#222" >Bacteria</text>
<text x="370.00" y="171.00" font-size="7.6" text-anchor="middle" fill="#222" >Water</text>
<text x="413.75" y="171.00" font-size="7.6" text-anchor="middle" fill="#222" >Bulk soil</text>
<text x="455.50" y="167.50" font-size="7.6" text-anchor="middle" fill="#222" >Rhizosphere</text>
<text x="455.50" y="175.50" font-size="7.6" text-anchor="middle" fill="#222" >soil</text>
<text x="501.30" y="167.50" font-size="7.6" text-anchor="middle" fill="#222" >Root</text>
<text x="501.30" y="175.50" font-size="7.6" text-anchor="middle" fill="#222" >endosphere</text>
<line x1="355.75" y1="131.00" x2="355.75" y2="133.00" stroke="#5a48e0" stroke-width="1.0"/>
<line x1="355.75" y1="139.00" x2="355.75" y2="140.00" stroke="#5a48e0" stroke-width="1.0"/>
<line x1="353.95" y1="131.00" x2="357.55" y2="131.00" stroke="#5a48e0" stroke-width="1.0"/>
<line x1="353.95" y1="140.00" x2="357.55" y2="140.00" stroke="#5a48e0" stroke-width="1.0"/>
<rect x="352.15" y="133.00" width="7.20" height="6.00" stroke="#5a48e0" stroke-width="1.0" fill="none"/>
<line x1="352.15" y1="136.00" x2="359.35" y2="136.00" stroke="#5a48e0" stroke-width="1.0"/>
<circle cx="356.66" cy="131.00" r="1.55" fill="#5a48e0" fill-opacity="0.9"/>
<circle cx="355.52" cy="140.00" r="1.55" fill="#5a48e0" fill-opacity="0.9"/>
<circle cx="355.73" cy="135.58" r="1.55" fill="#5a48e0" fill-opacity="0.9"/>
<circle cx="356.90" cy="139.18" r="1.55" fill="#5a48e0" fill-opacity="0.9"/>
<circle cx="356.79" cy="132.65" r="1.55" fill="#5a48e0" fill-opacity="0.9"/>
<circle cx="355.06" cy="131.66" r="1.55" fill="#5a48e0" fill-opacity="0.9"/>
<circle cx="354.15" cy="137.69" r="1.55" fill="#5a48e0" fill-opacity="0.9"/>
<circle cx="354.79" cy="137.52" r="1.55" fill="#5a48e0" fill-opacity="0.9"/>
<circle cx="355.95" cy="133.20" r="1.55" fill="#5a48e0" fill-opacity="0.9"/>
<circle cx="357.21" cy="138.88" r="1.55" fill="#5a48e0" fill-opacity="0.9"/>
<circle cx="354.17" cy="139.26" r="1.55" fill="#5a48e0" fill-opacity="0.9"/>
<circle cx="356.55" cy="135.99" r="1.55" fill="#5a48e0" fill-opacity="0.9"/>
<circle cx="355.43" cy="134.41" r="1.55" fill="#5a48e0" fill-opacity="0.9"/>
<circle cx="356.69" cy="132.35" r="1.55" fill="#5a48e0" fill-opacity="0.9"/>
<circle cx="356.79" cy="119.50" r="1.55" fill="#5a48e0" fill-opacity="0.9"/>
<line x1="370.00" y1="122.50" x2="370.00" y2="125.00" stroke="#e23a42" stroke-width="1.0"/>
<line x1="370.00" y1="133.00" x2="370.00" y2="135.00" stroke="#e23a42" stroke-width="1.0"/>
<line x1="368.20" y1="122.50" x2="371.80" y2="122.50" stroke="#e23a42" stroke-width="1.0"/>
<line x1="368.20" y1="135.00" x2="371.80" y2="135.00" stroke="#e23a42" stroke-width="1.0"/>
<rect x="366.40" y="125.00" width="7.20" height="8.00" stroke="#e23a42" stroke-width="1.0" fill="none"/>
<line x1="366.40" y1="129.00" x2="373.60" y2="129.00" stroke="#e23a42" stroke-width="1.0"/>
<circle cx="370.33" cy="122.50" r="1.55" fill="#e23a42" fill-opacity="0.9"/>
<circle cx="369.24" cy="135.00" r="1.55" fill="#e23a42" fill-opacity="0.9"/>
<circle cx="370.25" cy="133.59" r="1.55" fill="#e23a42" fill-opacity="0.9"/>
<circle cx="368.86" cy="130.90" r="1.55" fill="#e23a42" fill-opacity="0.9"/>
<circle cx="368.68" cy="126.96" r="1.55" fill="#e23a42" fill-opacity="0.9"/>
<circle cx="369.34" cy="134.16" r="1.55" fill="#e23a42" fill-opacity="0.9"/>
<circle cx="370.03" cy="132.94" r="1.55" fill="#e23a42" fill-opacity="0.9"/>
<circle cx="370.58" cy="131.47" r="1.55" fill="#e23a42" fill-opacity="0.9"/>
<circle cx="369.90" cy="133.20" r="1.55" fill="#e23a42" fill-opacity="0.9"/>
<circle cx="371.57" cy="134.68" r="1.55" fill="#e23a42" fill-opacity="0.9"/>
<circle cx="368.55" cy="127.35" r="1.55" fill="#e23a42" fill-opacity="0.9"/>
<circle cx="370.32" cy="132.78" r="1.55" fill="#e23a42" fill-opacity="0.9"/>
<circle cx="371.39" cy="133.74" r="1.55" fill="#e23a42" fill-opacity="0.9"/>
<circle cx="371.06" cy="127.08" r="1.55" fill="#e23a42" fill-opacity="0.9"/>
<line x1="384.50" y1="104.00" x2="384.50" y2="108.75" stroke="#18b8c0" stroke-width="1.0"/>
<line x1="384.50" y1="117.50" x2="384.50" y2="124.50" stroke="#18b8c0" stroke-width="1.0"/>
<line x1="382.70" y1="104.00" x2="386.30" y2="104.00" stroke="#18b8c0" stroke-width="1.0"/>
<line x1="382.70" y1="124.50" x2="386.30" y2="124.50" stroke="#18b8c0" stroke-width="1.0"/>
<rect x="380.90" y="108.75" width="7.20" height="8.75" stroke="#18b8c0" stroke-width="1.0" fill="none"/>
<line x1="380.90" y1="112.00" x2="388.10" y2="112.00" stroke="#18b8c0" stroke-width="1.0"/>
<circle cx="385.39" cy="104.00" r="1.55" fill="#18b8c0" fill-opacity="0.9"/>
<circle cx="383.71" cy="124.50" r="1.55" fill="#18b8c0" fill-opacity="0.9"/>
<circle cx="383.43" cy="106.94" r="1.55" fill="#18b8c0" fill-opacity="0.9"/>
<circle cx="383.38" cy="109.99" r="1.55" fill="#18b8c0" fill-opacity="0.9"/>
<circle cx="385.08" cy="113.99" r="1.55" fill="#18b8c0" fill-opacity="0.9"/>
<circle cx="383.84" cy="108.85" r="1.55" fill="#18b8c0" fill-opacity="0.9"/>
<circle cx="383.79" cy="104.88" r="1.55" fill="#18b8c0" fill-opacity="0.9"/>
<circle cx="384.68" cy="115.71" r="1.55" fill="#18b8c0" fill-opacity="0.9"/>
<circle cx="384.10" cy="109.64" r="1.55" fill="#18b8c0" fill-opacity="0.9"/>
<circle cx="382.95" cy="107.04" r="1.55" fill="#18b8c0" fill-opacity="0.9"/>
<circle cx="384.16" cy="114.83" r="1.55" fill="#18b8c0" fill-opacity="0.9"/>
<circle cx="386.22" cy="111.44" r="1.55" fill="#18b8c0" fill-opacity="0.9"/>
<circle cx="383.96" cy="113.71" r="1.55" fill="#18b8c0" fill-opacity="0.9"/>
<circle cx="386.39" cy="116.31" r="1.55" fill="#18b8c0" fill-opacity="0.9"/>
<circle cx="384.09" cy="95.00" r="1.55" fill="#18b8c0" fill-opacity="0.9"/>
<line x1="399.00" y1="61.00" x2="399.00" y2="68.00" stroke="#5a48e0" stroke-width="1.0"/>
<line x1="399.00" y1="82.50" x2="399.00" y2="87.50" stroke="#5a48e0" stroke-width="1.0"/>
<line x1="397.20" y1="61.00" x2="400.80" y2="61.00" stroke="#5a48e0" stroke-width="1.0"/>
<line x1="397.20" y1="87.50" x2="400.80" y2="87.50" stroke="#5a48e0" stroke-width="1.0"/>
<rect x="395.40" y="68.00" width="7.20" height="14.50" stroke="#5a48e0" stroke-width="1.0" fill="none"/>
<line x1="395.40" y1="75.00" x2="402.60" y2="75.00" stroke="#5a48e0" stroke-width="1.0"/>
<circle cx="398.39" cy="61.00" r="1.55" fill="#5a48e0" fill-opacity="0.9"/>
<circle cx="399.46" cy="87.50" r="1.55" fill="#5a48e0" fill-opacity="0.9"/>
<circle cx="400.53" cy="68.09" r="1.55" fill="#5a48e0" fill-opacity="0.9"/>
<circle cx="398.64" cy="79.90" r="1.55" fill="#5a48e0" fill-opacity="0.9"/>
<circle cx="397.72" cy="84.80" r="1.55" fill="#5a48e0" fill-opacity="0.9"/>
<circle cx="399.53" cy="76.00" r="1.55" fill="#5a48e0" fill-opacity="0.9"/>
<circle cx="399.46" cy="82.95" r="1.55" fill="#5a48e0" fill-opacity="0.9"/>
<circle cx="397.65" cy="75.31" r="1.55" fill="#5a48e0" fill-opacity="0.9"/>
<circle cx="400.62" cy="75.56" r="1.55" fill="#5a48e0" fill-opacity="0.9"/>
<circle cx="400.16" cy="75.11" r="1.55" fill="#5a48e0" fill-opacity="0.9"/>
<circle cx="397.58" cy="83.49" r="1.55" fill="#5a48e0" fill-opacity="0.9"/>
<circle cx="398.93" cy="87.38" r="1.55" fill="#5a48e0" fill-opacity="0.9"/>
<circle cx="398.57" cy="81.43" r="1.55" fill="#5a48e0" fill-opacity="0.9"/>
<circle cx="400.23" cy="85.60" r="1.55" fill="#5a48e0" fill-opacity="0.9"/>
<line x1="413.00" y1="39.00" x2="413.00" y2="55.50" stroke="#e23a42" stroke-width="1.0"/>
<line x1="413.00" y1="66.00" x2="413.00" y2="72.00" stroke="#e23a42" stroke-width="1.0"/>
<line x1="411.20" y1="39.00" x2="414.80" y2="39.00" stroke="#e23a42" stroke-width="1.0"/>
<line x1="411.20" y1="72.00" x2="414.80" y2="72.00" stroke="#e23a42" stroke-width="1.0"/>
<rect x="409.40" y="55.50" width="7.20" height="10.50" stroke="#e23a42" stroke-width="1.0" fill="none"/>
<line x1="409.40" y1="60.00" x2="416.60" y2="60.00" stroke="#e23a42" stroke-width="1.0"/>
<circle cx="412.32" cy="39.00" r="1.55" fill="#e23a42" fill-opacity="0.9"/>
<circle cx="413.57" cy="72.00" r="1.55" fill="#e23a42" fill-opacity="0.9"/>
<circle cx="414.32" cy="59.75" r="1.55" fill="#e23a42" fill-opacity="0.9"/>
<circle cx="411.93" cy="67.10" r="1.55" fill="#e23a42" fill-opacity="0.9"/>
<circle cx="412.56" cy="60.94" r="1.55" fill="#e23a42" fill-opacity="0.9"/>
<circle cx="413.85" cy="58.09" r="1.55" fill="#e23a42" fill-opacity="0.9"/>
<circle cx="413.24" cy="66.25" r="1.55" fill="#e23a42" fill-opacity="0.9"/>
<circle cx="414.29" cy="39.63" r="1.55" fill="#e23a42" fill-opacity="0.9"/>
<circle cx="413.19" cy="61.79" r="1.55" fill="#e23a42" fill-opacity="0.9"/>
<circle cx="412.70" cy="44.05" r="1.55" fill="#e23a42" fill-opacity="0.9"/>
<circle cx="413.60" cy="46.02" r="1.55" fill="#e23a42" fill-opacity="0.9"/>
<circle cx="411.19" cy="60.10" r="1.55" fill="#e23a42" fill-opacity="0.9"/>
<circle cx="411.99" cy="47.08" r="1.55" fill="#e23a42" fill-opacity="0.9"/>
<circle cx="412.84" cy="70.68" r="1.55" fill="#e23a42" fill-opacity="0.9"/>
<circle cx="412.04" cy="86.00" r="1.55" fill="#e23a42" fill-opacity="0.9"/>
<line x1="427.50" y1="36.00" x2="427.50" y2="45.50" stroke="#18b8c0" stroke-width="1.0"/>
<line x1="427.50" y1="66.00" x2="427.50" y2="68.00" stroke="#18b8c0" stroke-width="1.0"/>
<line x1="425.70" y1="36.00" x2="429.30" y2="36.00" stroke="#18b8c0" stroke-width="1.0"/>
<line x1="425.70" y1="68.00" x2="429.30" y2="68.00" stroke="#18b8c0" stroke-width="1.0"/>
<rect x="423.90" y="45.50" width="7.20" height="20.50" stroke="#18b8c0" stroke-width="1.0" fill="none"/>
<line x1="423.90" y1="55.00" x2="431.10" y2="55.00" stroke="#18b8c0" stroke-width="1.0"/>
<circle cx="427.45" cy="36.00" r="1.55" fill="#18b8c0" fill-opacity="0.9"/>
<circle cx="426.71" cy="68.00" r="1.55" fill="#18b8c0" fill-opacity="0.9"/>
<circle cx="425.95" cy="54.33" r="1.55" fill="#18b8c0" fill-opacity="0.9"/>
<circle cx="425.75" cy="55.96" r="1.55" fill="#18b8c0" fill-opacity="0.9"/>
<circle cx="428.39" cy="36.78" r="1.55" fill="#18b8c0" fill-opacity="0.9"/>
<circle cx="425.81" cy="67.02" r="1.55" fill="#18b8c0" fill-opacity="0.9"/>
<circle cx="429.21" cy="39.59" r="1.55" fill="#18b8c0" fill-opacity="0.9"/>
<circle cx="429.39" cy="63.07" r="1.55" fill="#18b8c0" fill-opacity="0.9"/>
<circle cx="426.34" cy="43.74" r="1.55" fill="#18b8c0" fill-opacity="0.9"/>
<circle cx="429.24" cy="66.98" r="1.55" fill="#18b8c0" fill-opacity="0.9"/>
<circle cx="428.60" cy="66.33" r="1.55" fill="#18b8c0" fill-opacity="0.9"/>
<circle cx="426.93" cy="66.13" r="1.55" fill="#18b8c0" fill-opacity="0.9"/>
<circle cx="429.01" cy="37.51" r="1.55" fill="#18b8c0" fill-opacity="0.9"/>
<circle cx="426.15" cy="62.22" r="1.55" fill="#18b8c0" fill-opacity="0.9"/>
<circle cx="427.51" cy="118.75" r="1.55" fill="#18b8c0" fill-opacity="0.9"/>
<circle cx="428.76" cy="138.00" r="1.55" fill="#18b8c0" fill-opacity="0.9"/>
<line x1="441.50" y1="38.75" x2="441.50" y2="58.75" stroke="#5a48e0" stroke-width="1.0"/>
<line x1="441.50" y1="80.00" x2="441.50" y2="88.75" stroke="#5a48e0" stroke-width="1.0"/>
<line x1="439.70" y1="38.75" x2="443.30" y2="38.75" stroke="#5a48e0" stroke-width="1.0"/>
<line x1="439.70" y1="88.75" x2="443.30" y2="88.75" stroke="#5a48e0" stroke-width="1.0"/>
<rect x="437.90" y="58.75" width="7.20" height="21.25" stroke="#5a48e0" stroke-width="1.0" fill="none"/>
<line x1="437.90" y1="62.00" x2="445.10" y2="62.00" stroke="#5a48e0" stroke-width="1.0"/>
<circle cx="440.92" cy="38.75" r="1.55" fill="#5a48e0" fill-opacity="0.9"/>
<circle cx="441.03" cy="88.75" r="1.55" fill="#5a48e0" fill-opacity="0.9"/>
<circle cx="439.74" cy="45.13" r="1.55" fill="#5a48e0" fill-opacity="0.9"/>
<circle cx="443.16" cy="62.18" r="1.55" fill="#5a48e0" fill-opacity="0.9"/>
<circle cx="440.24" cy="56.66" r="1.55" fill="#5a48e0" fill-opacity="0.9"/>
<circle cx="441.62" cy="81.01" r="1.55" fill="#5a48e0" fill-opacity="0.9"/>
<circle cx="442.92" cy="45.95" r="1.55" fill="#5a48e0" fill-opacity="0.9"/>
<circle cx="442.95" cy="50.35" r="1.55" fill="#5a48e0" fill-opacity="0.9"/>
<circle cx="441.99" cy="79.85" r="1.55" fill="#5a48e0" fill-opacity="0.9"/>
<circle cx="440.61" cy="75.70" r="1.55" fill="#5a48e0" fill-opacity="0.9"/>
<circle cx="440.97" cy="85.05" r="1.55" fill="#5a48e0" fill-opacity="0.9"/>
<circle cx="440.27" cy="83.87" r="1.55" fill="#5a48e0" fill-opacity="0.9"/>
<circle cx="442.72" cy="39.72" r="1.55" fill="#5a48e0" fill-opacity="0.9"/>
<circle cx="443.34" cy="72.33" r="1.55" fill="#5a48e0" fill-opacity="0.9"/>
<circle cx="441.76" cy="111.00" r="1.55" fill="#5a48e0" fill-opacity="0.9"/>
<line x1="455.75" y1="54.50" x2="455.75" y2="59.50" stroke="#e23a42" stroke-width="1.0"/>
<line x1="455.75" y1="71.00" x2="455.75" y2="79.50" stroke="#e23a42" stroke-width="1.0"/>
<line x1="453.95" y1="54.50" x2="457.55" y2="54.50" stroke="#e23a42" stroke-width="1.0"/>
<line x1="453.95" y1="79.50" x2="457.55" y2="79.50" stroke="#e23a42" stroke-width="1.0"/>
<rect x="452.15" y="59.50" width="7.20" height="11.50" stroke="#e23a42" stroke-width="1.0" fill="none"/>
<line x1="452.15" y1="66.00" x2="459.35" y2="66.00" stroke="#e23a42" stroke-width="1.0"/>
<circle cx="456.08" cy="54.50" r="1.55" fill="#e23a42" fill-opacity="0.9"/>
<circle cx="455.38" cy="79.50" r="1.55" fill="#e23a42" fill-opacity="0.9"/>
<circle cx="454.42" cy="59.89" r="1.55" fill="#e23a42" fill-opacity="0.9"/>
<circle cx="455.80" cy="56.66" r="1.55" fill="#e23a42" fill-opacity="0.9"/>
<circle cx="454.71" cy="72.12" r="1.55" fill="#e23a42" fill-opacity="0.9"/>
<circle cx="453.86" cy="54.61" r="1.55" fill="#e23a42" fill-opacity="0.9"/>
<circle cx="455.21" cy="60.72" r="1.55" fill="#e23a42" fill-opacity="0.9"/>
<circle cx="456.09" cy="66.21" r="1.55" fill="#e23a42" fill-opacity="0.9"/>
<circle cx="455.65" cy="66.68" r="1.55" fill="#e23a42" fill-opacity="0.9"/>
<circle cx="454.78" cy="70.27" r="1.55" fill="#e23a42" fill-opacity="0.9"/>
<circle cx="456.28" cy="60.60" r="1.55" fill="#e23a42" fill-opacity="0.9"/>
<circle cx="455.38" cy="77.65" r="1.55" fill="#e23a42" fill-opacity="0.9"/>
<circle cx="456.30" cy="59.63" r="1.55" fill="#e23a42" fill-opacity="0.9"/>
<circle cx="456.30" cy="56.25" r="1.55" fill="#e23a42" fill-opacity="0.9"/>
<circle cx="455.58" cy="39.00" r="1.55" fill="#e23a42" fill-opacity="0.9"/>
<circle cx="457.06" cy="94.50" r="1.55" fill="#e23a42" fill-opacity="0.9"/>
<line x1="470.00" y1="45.00" x2="470.00" y2="51.00" stroke="#18b8c0" stroke-width="1.0"/>
<line x1="470.00" y1="64.50" x2="470.00" y2="75.00" stroke="#18b8c0" stroke-width="1.0"/>
<line x1="468.20" y1="45.00" x2="471.80" y2="45.00" stroke="#18b8c0" stroke-width="1.0"/>
<line x1="468.20" y1="75.00" x2="471.80" y2="75.00" stroke="#18b8c0" stroke-width="1.0"/>
<rect x="466.40" y="51.00" width="7.20" height="13.50" stroke="#18b8c0" stroke-width="1.0" fill="none"/>
<line x1="466.40" y1="57.00" x2="473.60" y2="57.00" stroke="#18b8c0" stroke-width="1.0"/>
<circle cx="470.47" cy="45.00" r="1.55" fill="#18b8c0" fill-opacity="0.9"/>
<circle cx="469.50" cy="75.00" r="1.55" fill="#18b8c0" fill-opacity="0.9"/>
<circle cx="470.12" cy="64.96" r="1.55" fill="#18b8c0" fill-opacity="0.9"/>
<circle cx="468.32" cy="54.21" r="1.55" fill="#18b8c0" fill-opacity="0.9"/>
<circle cx="470.19" cy="64.63" r="1.55" fill="#18b8c0" fill-opacity="0.9"/>
<circle cx="468.86" cy="65.99" r="1.55" fill="#18b8c0" fill-opacity="0.9"/>
<circle cx="470.54" cy="48.04" r="1.55" fill="#18b8c0" fill-opacity="0.9"/>
<circle cx="469.28" cy="66.33" r="1.55" fill="#18b8c0" fill-opacity="0.9"/>
<circle cx="471.48" cy="51.65" r="1.55" fill="#18b8c0" fill-opacity="0.9"/>
<circle cx="468.12" cy="72.01" r="1.55" fill="#18b8c0" fill-opacity="0.9"/>
<circle cx="469.87" cy="72.32" r="1.55" fill="#18b8c0" fill-opacity="0.9"/>
<circle cx="468.96" cy="47.71" r="1.55" fill="#18b8c0" fill-opacity="0.9"/>
<circle cx="468.25" cy="54.14" r="1.55" fill="#18b8c0" fill-opacity="0.9"/>
<circle cx="470.74" cy="61.12" r="1.55" fill="#18b8c0" fill-opacity="0.9"/>
<circle cx="471.04" cy="20.50" r="1.55" fill="#18b8c0" fill-opacity="0.9"/>
<circle cx="470.64" cy="134.50" r="1.55" fill="#18b8c0" fill-opacity="0.9"/>
<circle cx="469.30" cy="142.50" r="1.55" fill="#18b8c0" fill-opacity="0.9"/>
<line x1="484.50" y1="138.00" x2="484.50" y2="142.00" stroke="#5a48e0" stroke-width="1.0"/>
<line x1="484.50" y1="148.00" x2="484.50" y2="151.00" stroke="#5a48e0" stroke-width="1.0"/>
<line x1="482.70" y1="138.00" x2="486.30" y2="138.00" stroke="#5a48e0" stroke-width="1.0"/>
<line x1="482.70" y1="151.00" x2="486.30" y2="151.00" stroke="#5a48e0" stroke-width="1.0"/>
<rect x="480.90" y="142.00" width="7.20" height="6.00" stroke="#5a48e0" stroke-width="1.0" fill="none"/>
<line x1="480.90" y1="145.00" x2="488.10" y2="145.00" stroke="#5a48e0" stroke-width="1.0"/>
<circle cx="484.61" cy="138.00" r="1.55" fill="#5a48e0" fill-opacity="0.9"/>
<circle cx="484.37" cy="151.00" r="1.55" fill="#5a48e0" fill-opacity="0.9"/>
<circle cx="483.61" cy="149.57" r="1.55" fill="#5a48e0" fill-opacity="0.9"/>
<circle cx="483.42" cy="141.86" r="1.55" fill="#5a48e0" fill-opacity="0.9"/>
<circle cx="483.59" cy="148.05" r="1.55" fill="#5a48e0" fill-opacity="0.9"/>
<circle cx="486.19" cy="146.46" r="1.55" fill="#5a48e0" fill-opacity="0.9"/>
<circle cx="485.94" cy="139.31" r="1.55" fill="#5a48e0" fill-opacity="0.9"/>
<circle cx="486.05" cy="143.44" r="1.55" fill="#5a48e0" fill-opacity="0.9"/>
<circle cx="485.13" cy="140.77" r="1.55" fill="#5a48e0" fill-opacity="0.9"/>
<circle cx="485.79" cy="149.41" r="1.55" fill="#5a48e0" fill-opacity="0.9"/>
<circle cx="484.26" cy="141.43" r="1.55" fill="#5a48e0" fill-opacity="0.9"/>
<circle cx="483.77" cy="140.28" r="1.55" fill="#5a48e0" fill-opacity="0.9"/>
<circle cx="482.90" cy="145.74" r="1.55" fill="#5a48e0" fill-opacity="0.9"/>
<circle cx="482.70" cy="148.43" r="1.55" fill="#5a48e0" fill-opacity="0.9"/>
<circle cx="483.32" cy="131.25" r="1.55" fill="#5a48e0" fill-opacity="0.9"/>
<line x1="498.75" y1="130.00" x2="498.75" y2="135.00" stroke="#e23a42" stroke-width="1.0"/>
<line x1="498.75" y1="141.00" x2="498.75" y2="144.00" stroke="#e23a42" stroke-width="1.0"/>
<line x1="496.95" y1="130.00" x2="500.55" y2="130.00" stroke="#e23a42" stroke-width="1.0"/>
<line x1="496.95" y1="144.00" x2="500.55" y2="144.00" stroke="#e23a42" stroke-width="1.0"/>
<rect x="495.15" y="135.00" width="7.20" height="6.00" stroke="#e23a42" stroke-width="1.0" fill="none"/>
<line x1="495.15" y1="138.00" x2="502.35" y2="138.00" stroke="#e23a42" stroke-width="1.0"/>
<circle cx="499.61" cy="130.00" r="1.55" fill="#e23a42" fill-opacity="0.9"/>
<circle cx="498.44" cy="144.00" r="1.55" fill="#e23a42" fill-opacity="0.9"/>
<circle cx="497.01" cy="135.17" r="1.55" fill="#e23a42" fill-opacity="0.9"/>
<circle cx="499.50" cy="133.17" r="1.55" fill="#e23a42" fill-opacity="0.9"/>
<circle cx="499.09" cy="130.33" r="1.55" fill="#e23a42" fill-opacity="0.9"/>
<circle cx="499.96" cy="139.91" r="1.55" fill="#e23a42" fill-opacity="0.9"/>
<circle cx="500.15" cy="141.20" r="1.55" fill="#e23a42" fill-opacity="0.9"/>
<circle cx="497.26" cy="143.83" r="1.55" fill="#e23a42" fill-opacity="0.9"/>
<circle cx="496.98" cy="135.67" r="1.55" fill="#e23a42" fill-opacity="0.9"/>
<circle cx="499.26" cy="143.44" r="1.55" fill="#e23a42" fill-opacity="0.9"/>
<circle cx="497.94" cy="142.89" r="1.55" fill="#e23a42" fill-opacity="0.9"/>
<circle cx="499.73" cy="135.59" r="1.55" fill="#e23a42" fill-opacity="0.9"/>
<circle cx="498.46" cy="136.91" r="1.55" fill="#e23a42" fill-opacity="0.9"/>
<circle cx="497.92" cy="136.54" r="1.55" fill="#e23a42" fill-opacity="0.9"/>
<line x1="512.50" y1="115.00" x2="512.50" y2="117.50" stroke="#18b8c0" stroke-width="1.0"/>
<line x1="512.50" y1="128.75" x2="512.50" y2="136.00" stroke="#18b8c0" stroke-width="1.0"/>
<line x1="510.70" y1="115.00" x2="514.30" y2="115.00" stroke="#18b8c0" stroke-width="1.0"/>
<line x1="510.70" y1="136.00" x2="514.30" y2="136.00" stroke="#18b8c0" stroke-width="1.0"/>
<rect x="508.90" y="117.50" width="7.20" height="11.25" stroke="#18b8c0" stroke-width="1.0" fill="none"/>
<line x1="508.90" y1="123.00" x2="516.10" y2="123.00" stroke="#18b8c0" stroke-width="1.0"/>
<circle cx="512.93" cy="115.00" r="1.55" fill="#18b8c0" fill-opacity="0.9"/>
<circle cx="512.24" cy="136.00" r="1.55" fill="#18b8c0" fill-opacity="0.9"/>
<circle cx="512.51" cy="128.34" r="1.55" fill="#18b8c0" fill-opacity="0.9"/>
<circle cx="510.72" cy="133.23" r="1.55" fill="#18b8c0" fill-opacity="0.9"/>
<circle cx="513.54" cy="122.41" r="1.55" fill="#18b8c0" fill-opacity="0.9"/>
<circle cx="512.64" cy="125.43" r="1.55" fill="#18b8c0" fill-opacity="0.9"/>
<circle cx="510.95" cy="127.20" r="1.55" fill="#18b8c0" fill-opacity="0.9"/>
<circle cx="510.60" cy="129.99" r="1.55" fill="#18b8c0" fill-opacity="0.9"/>
<circle cx="514.32" cy="126.07" r="1.55" fill="#18b8c0" fill-opacity="0.9"/>
<circle cx="512.47" cy="123.02" r="1.55" fill="#18b8c0" fill-opacity="0.9"/>
<circle cx="512.48" cy="130.09" r="1.55" fill="#18b8c0" fill-opacity="0.9"/>
<circle cx="511.59" cy="126.86" r="1.55" fill="#18b8c0" fill-opacity="0.9"/>
<circle cx="511.42" cy="130.81" r="1.55" fill="#18b8c0" fill-opacity="0.9"/>
<circle cx="511.02" cy="116.25" r="1.55" fill="#18b8c0" fill-opacity="0.9"/>
<text x="355.75" y="113.20" font-size="7" text-anchor="middle" fill="#222" >b</text>
<text x="370.00" y="117.20" font-size="7" text-anchor="middle" fill="#222" >b</text>
<text x="383.75" y="89.70" font-size="7" text-anchor="middle" fill="#222" >a</text>
<text x="398.50" y="56.20" font-size="7" text-anchor="middle" fill="#222" >b</text>
<text x="413.00" y="37.20" font-size="7" text-anchor="middle" fill="#222" >a</text>
<text x="427.50" y="33.20" font-size="7" text-anchor="middle" fill="#222" >a</text>
<text x="441.50" y="34.20" font-size="7" text-anchor="middle" fill="#222" >a</text>
<text x="455.75" y="34.20" font-size="7" text-anchor="middle" fill="#222" >a</text>
<text x="470.00" y="36.20" font-size="7" text-anchor="middle" fill="#222" >a</text>
<text x="484.50" y="126.20" font-size="7" text-anchor="middle" fill="#222" >c</text>
<text x="498.75" y="124.70" font-size="7" text-anchor="middle" fill="#222" >b</text>
<text x="512.50" y="110.95" font-size="7" text-anchor="middle" fill="#222" >a</text>
<rect x="555.00" y="14.50" width="173.25" height="144.75" stroke="#6e6e6e" stroke-width="0.8" fill="none"/>
<line x1="599.50" y1="14.50" x2="599.50" y2="159.25" stroke="#333" stroke-width="0.7" stroke-dasharray="1.6,1"/>
<line x1="641.75" y1="14.50" x2="641.75" y2="159.25" stroke="#333" stroke-width="0.7" stroke-dasharray="1.6,1"/>
<line x1="684.50" y1="14.50" x2="684.50" y2="159.25" stroke="#333" stroke-width="0.7" stroke-dasharray="1.6,1"/>
<line x1="553.40" y1="152.50" x2="555.00" y2="152.50" stroke="#555" stroke-width="0.6"/>
<text x="553.00" y="155.00" font-size="7.2" text-anchor="end" fill="#222" >0</text>
<line x1="553.40" y1="121.25" x2="555.00" y2="121.25" stroke="#555" stroke-width="0.6"/>
<text x="553.00" y="123.75" font-size="7.2" text-anchor="end" fill="#222" >500</text>
<line x1="553.40" y1="90.00" x2="555.00" y2="90.00" stroke="#555" stroke-width="0.6"/>
<text x="553.00" y="92.50" font-size="7.2" text-anchor="end" fill="#222" >1000</text>
<line x1="553.40" y1="58.75" x2="555.00" y2="58.75" stroke="#555" stroke-width="0.6"/>
<text x="553.00" y="61.25" font-size="7.2" text-anchor="end" fill="#222" >1500</text>
<line x1="553.40" y1="27.50" x2="555.00" y2="27.50" stroke="#555" stroke-width="0.6"/>
<text x="553.00" y="30.00" font-size="7.2" text-anchor="end" fill="#222" >2000</text>
<text x="531.00" y="80.00" font-size="7.5" text-anchor="middle" fill="#222" transform="rotate(-90 531 80)" dominant-baseline="middle">Chao1 Index</text>
<text x="559.50" y="24.50" font-size="7.3" text-anchor="start" font-weight="bold" fill="#222" >Fungi</text>
<text x="576.25" y="171.00" font-size="7.6" text-anchor="middle" fill="#222" >Water</text>
<text x="621.25" y="171.00" font-size="7.6" text-anchor="middle" fill="#222" >Bulk soil</text>
<text x="663.00" y="167.50" font-size="7.6" text-anchor="middle" fill="#222" >Rhizosphere</text>
<text x="663.00" y="175.50" font-size="7.6" text-anchor="middle" fill="#222" >soil</text>
<text x="707.50" y="167.50" font-size="7.6" text-anchor="middle" fill="#222" >Root</text>
<text x="707.50" y="175.50" font-size="7.6" text-anchor="middle" fill="#222" >endosphere</text>
<line x1="562.50" y1="101.00" x2="562.50" y2="107.00" stroke="#5a48e0" stroke-width="1.0"/>
<line x1="562.50" y1="122.50" x2="562.50" y2="128.75" stroke="#5a48e0" stroke-width="1.0"/>
<line x1="560.70" y1="101.00" x2="564.30" y2="101.00" stroke="#5a48e0" stroke-width="1.0"/>
<line x1="560.70" y1="128.75" x2="564.30" y2="128.75" stroke="#5a48e0" stroke-width="1.0"/>
<rect x="558.90" y="107.00" width="7.20" height="15.50" stroke="#5a48e0" stroke-width="1.0" fill="none"/>
<line x1="558.90" y1="114.00" x2="566.10" y2="114.00" stroke="#5a48e0" stroke-width="1.0"/>
<circle cx="562.77" cy="101.00" r="1.55" fill="#5a48e0" fill-opacity="0.9"/>
<circle cx="561.66" cy="128.75" r="1.55" fill="#5a48e0" fill-opacity="0.9"/>
<circle cx="563.59" cy="126.86" r="1.55" fill="#5a48e0" fill-opacity="0.9"/>
<circle cx="562.12" cy="103.13" r="1.55" fill="#5a48e0" fill-opacity="0.9"/>
<circle cx="560.93" cy="120.80" r="1.55" fill="#5a48e0" fill-opacity="0.9"/>
<circle cx="561.38" cy="122.66" r="1.55" fill="#5a48e0" fill-opacity="0.9"/>
<circle cx="562.50" cy="120.97" r="1.55" fill="#5a48e0" fill-opacity="0.9"/>
<circle cx="561.49" cy="120.70" r="1.55" fill="#5a48e0" fill-opacity="0.9"/>
<circle cx="563.47" cy="115.24" r="1.55" fill="#5a48e0" fill-opacity="0.9"/>
<circle cx="561.92" cy="104.88" r="1.55" fill="#5a48e0" fill-opacity="0.9"/>
<circle cx="563.80" cy="109.41" r="1.55" fill="#5a48e0" fill-opacity="0.9"/>
<circle cx="561.24" cy="105.45" r="1.55" fill="#5a48e0" fill-opacity="0.9"/>
<circle cx="562.80" cy="118.99" r="1.55" fill="#5a48e0" fill-opacity="0.9"/>
<circle cx="563.96" cy="114.16" r="1.55" fill="#5a48e0" fill-opacity="0.9"/>
<line x1="577.50" y1="84.50" x2="577.50" y2="88.00" stroke="#e23a42" stroke-width="1.0"/>
<line x1="577.50" y1="96.00" x2="577.50" y2="99.50" stroke="#e23a42" stroke-width="1.0"/>
<line x1="575.70" y1="84.50" x2="579.30" y2="84.50" stroke="#e23a42" stroke-width="1.0"/>
<line x1="575.70" y1="99.50" x2="579.30" y2="99.50" stroke="#e23a42" stroke-width="1.0"/>
<rect x="573.90" y="88.00" width="7.20" height="8.00" stroke="#e23a42" stroke-width="1.0" fill="none"/>
<line x1="573.90" y1="92.00" x2="581.10" y2="92.00" stroke="#e23a42" stroke-width="1.0"/>
<circle cx="576.98" cy="84.50" r="1.55" fill="#e23a42" fill-opacity="0.9"/>
<circle cx="576.88" cy="99.50" r="1.55" fill="#e23a42" fill-opacity="0.9"/>
<circle cx="578.81" cy="93.63" r="1.55" fill="#e23a42" fill-opacity="0.9"/>
<circle cx="576.54" cy="89.25" r="1.55" fill="#e23a42" fill-opacity="0.9"/>
<circle cx="576.21" cy="92.18" r="1.55" fill="#e23a42" fill-opacity="0.9"/>
<circle cx="579.31" cy="89.51" r="1.55" fill="#e23a42" fill-opacity="0.9"/>
<circle cx="579.26" cy="84.86" r="1.55" fill="#e23a42" fill-opacity="0.9"/>
<circle cx="579.34" cy="91.07" r="1.55" fill="#e23a42" fill-opacity="0.9"/>
<circle cx="577.25" cy="98.57" r="1.55" fill="#e23a42" fill-opacity="0.9"/>
<circle cx="576.01" cy="93.10" r="1.55" fill="#e23a42" fill-opacity="0.9"/>
<circle cx="575.73" cy="91.11" r="1.55" fill="#e23a42" fill-opacity="0.9"/>
<circle cx="578.24" cy="94.33" r="1.55" fill="#e23a42" fill-opacity="0.9"/>
<circle cx="577.36" cy="86.71" r="1.55" fill="#e23a42" fill-opacity="0.9"/>
<circle cx="577.14" cy="92.83" r="1.55" fill="#e23a42" fill-opacity="0.9"/>
<line x1="591.75" y1="21.25" x2="591.75" y2="21.25" stroke="#18b8c0" stroke-width="1.0"/>
<line x1="591.75" y1="83.75" x2="591.75" y2="91.00" stroke="#18b8c0" stroke-width="1.0"/>
<line x1="589.95" y1="21.25" x2="593.55" y2="21.25" stroke="#18b8c0" stroke-width="1.0"/>
<line x1="589.95" y1="91.00" x2="593.55" y2="91.00" stroke="#18b8c0" stroke-width="1.0"/>
<rect x="588.15" y="21.25" width="7.20" height="62.50" stroke="#18b8c0" stroke-width="1.0" fill="none"/>
<line x1="588.15" y1="72.50" x2="595.35" y2="72.50" stroke="#18b8c0" stroke-width="1.0"/>
<circle cx="592.23" cy="21.25" r="1.55" fill="#18b8c0" fill-opacity="0.9"/>
<circle cx="592.57" cy="91.00" r="1.55" fill="#18b8c0" fill-opacity="0.9"/>
<circle cx="592.70" cy="57.12" r="1.55" fill="#18b8c0" fill-opacity="0.9"/>
<circle cx="592.59" cy="35.54" r="1.55" fill="#18b8c0" fill-opacity="0.9"/>
<circle cx="592.51" cy="89.36" r="1.55" fill="#18b8c0" fill-opacity="0.9"/>
<circle cx="592.29" cy="88.68" r="1.55" fill="#18b8c0" fill-opacity="0.9"/>
<circle cx="592.24" cy="40.81" r="1.55" fill="#18b8c0" fill-opacity="0.9"/>
<circle cx="592.82" cy="47.47" r="1.55" fill="#18b8c0" fill-opacity="0.9"/>
<line x1="606.75" y1="62.50" x2="606.75" y2="74.50" stroke="#5a48e0" stroke-width="1.0"/>
<line x1="606.75" y1="95.00" x2="606.75" y2="105.00" stroke="#5a48e0" stroke-width="1.0"/>
<line x1="604.95" y1="62.50" x2="608.55" y2="62.50" stroke="#5a48e0" stroke-width="1.0"/>
<line x1="604.95" y1="105.00" x2="608.55" y2="105.00" stroke="#5a48e0" stroke-width="1.0"/>
<rect x="603.15" y="74.50" width="7.20" height="20.50" stroke="#5a48e0" stroke-width="1.0" fill="none"/>
<line x1="603.15" y1="84.00" x2="610.35" y2="84.00" stroke="#5a48e0" stroke-width="1.0"/>
<circle cx="607.18" cy="62.50" r="1.55" fill="#5a48e0" fill-opacity="0.9"/>
<circle cx="607.01" cy="105.00" r="1.55" fill="#5a48e0" fill-opacity="0.9"/>
<circle cx="606.58" cy="83.18" r="1.55" fill="#5a48e0" fill-opacity="0.9"/>
<circle cx="607.42" cy="67.41" r="1.55" fill="#5a48e0" fill-opacity="0.9"/>
<circle cx="607.34" cy="96.83" r="1.55" fill="#5a48e0" fill-opacity="0.9"/>
<circle cx="606.71" cy="98.89" r="1.55" fill="#5a48e0" fill-opacity="0.9"/>
<circle cx="606.91" cy="95.38" r="1.55" fill="#5a48e0" fill-opacity="0.9"/>
<circle cx="608.42" cy="90.53" r="1.55" fill="#5a48e0" fill-opacity="0.9"/>
<circle cx="607.03" cy="63.71" r="1.55" fill="#5a48e0" fill-opacity="0.9"/>
<circle cx="606.80" cy="71.11" r="1.55" fill="#5a48e0" fill-opacity="0.9"/>
<circle cx="606.83" cy="72.45" r="1.55" fill="#5a48e0" fill-opacity="0.9"/>
<circle cx="605.65" cy="93.93" r="1.55" fill="#5a48e0" fill-opacity="0.9"/>
<circle cx="607.75" cy="67.21" r="1.55" fill="#5a48e0" fill-opacity="0.9"/>
<circle cx="606.20" cy="94.68" r="1.55" fill="#5a48e0" fill-opacity="0.9"/>
<circle cx="605.42" cy="145.00" r="1.55" fill="#5a48e0" fill-opacity="0.9"/>
<line x1="620.75" y1="53.00" x2="620.75" y2="66.00" stroke="#e23a42" stroke-width="1.0"/>
<line x1="620.75" y1="85.50" x2="620.75" y2="113.00" stroke="#e23a42" stroke-width="1.0"/>
<line x1="618.95" y1="53.00" x2="622.55" y2="53.00" stroke="#e23a42" stroke-width="1.0"/>
<line x1="618.95" y1="113.00" x2="622.55" y2="113.00" stroke="#e23a42" stroke-width="1.0"/>
<rect x="617.15" y="66.00" width="7.20" height="19.50" stroke="#e23a42" stroke-width="1.0" fill="none"/>
<line x1="617.15" y1="74.00" x2="624.35" y2="74.00" stroke="#e23a42" stroke-width="1.0"/>
<circle cx="620.30" cy="53.00" r="1.55" fill="#e23a42" fill-opacity="0.9"/>
<circle cx="620.55" cy="113.00" r="1.55" fill="#e23a42" fill-opacity="0.9"/>
<circle cx="620.45" cy="74.16" r="1.55" fill="#e23a42" fill-opacity="0.9"/>
<circle cx="619.86" cy="57.58" r="1.55" fill="#e23a42" fill-opacity="0.9"/>
<circle cx="622.42" cy="80.46" r="1.55" fill="#e23a42" fill-opacity="0.9"/>
<circle cx="621.90" cy="55.85" r="1.55" fill="#e23a42" fill-opacity="0.9"/>
<circle cx="619.34" cy="70.13" r="1.55" fill="#e23a42" fill-opacity="0.9"/>
<circle cx="621.26" cy="107.76" r="1.55" fill="#e23a42" fill-opacity="0.9"/>
<circle cx="619.71" cy="76.96" r="1.55" fill="#e23a42" fill-opacity="0.9"/>
<circle cx="621.28" cy="95.21" r="1.55" fill="#e23a42" fill-opacity="0.9"/>
<circle cx="620.63" cy="107.94" r="1.55" fill="#e23a42" fill-opacity="0.9"/>
<circle cx="619.33" cy="76.69" r="1.55" fill="#e23a42" fill-opacity="0.9"/>
<circle cx="622.08" cy="95.26" r="1.55" fill="#e23a42" fill-opacity="0.9"/>
<circle cx="619.81" cy="73.33" r="1.55" fill="#e23a42" fill-opacity="0.9"/>
<line x1="635.00" y1="68.00" x2="635.00" y2="91.00" stroke="#18b8c0" stroke-width="1.0"/>
<line x1="635.00" y1="120.50" x2="635.00" y2="143.00" stroke="#18b8c0" stroke-width="1.0"/>
<line x1="633.20" y1="68.00" x2="636.80" y2="68.00" stroke="#18b8c0" stroke-width="1.0"/>
<line x1="633.20" y1="143.00" x2="636.80" y2="143.00" stroke="#18b8c0" stroke-width="1.0"/>
<rect x="631.40" y="91.00" width="7.20" height="29.50" stroke="#18b8c0" stroke-width="1.0" fill="none"/>
<line x1="631.40" y1="105.00" x2="638.60" y2="105.00" stroke="#18b8c0" stroke-width="1.0"/>
<circle cx="634.85" cy="68.00" r="1.55" fill="#18b8c0" fill-opacity="0.9"/>
<circle cx="634.37" cy="143.00" r="1.55" fill="#18b8c0" fill-opacity="0.9"/>
<circle cx="634.17" cy="112.29" r="1.55" fill="#18b8c0" fill-opacity="0.9"/>
<circle cx="634.92" cy="99.90" r="1.55" fill="#18b8c0" fill-opacity="0.9"/>
<circle cx="635.61" cy="109.80" r="1.55" fill="#18b8c0" fill-opacity="0.9"/>
<circle cx="636.35" cy="118.40" r="1.55" fill="#18b8c0" fill-opacity="0.9"/>
<circle cx="636.54" cy="115.42" r="1.55" fill="#18b8c0" fill-opacity="0.9"/>
<circle cx="636.26" cy="123.66" r="1.55" fill="#18b8c0" fill-opacity="0.9"/>
<circle cx="633.14" cy="68.34" r="1.55" fill="#18b8c0" fill-opacity="0.9"/>
<circle cx="634.05" cy="135.26" r="1.55" fill="#18b8c0" fill-opacity="0.9"/>
<circle cx="633.99" cy="95.21" r="1.55" fill="#18b8c0" fill-opacity="0.9"/>
<circle cx="633.68" cy="128.29" r="1.55" fill="#18b8c0" fill-opacity="0.9"/>
<circle cx="633.74" cy="138.31" r="1.55" fill="#18b8c0" fill-opacity="0.9"/>
<circle cx="636.07" cy="134.19" r="1.55" fill="#18b8c0" fill-opacity="0.9"/>
<line x1="648.75" y1="60.50" x2="648.75" y2="110.50" stroke="#5a48e0" stroke-width="1.0"/>
<line x1="648.75" y1="145.50" x2="648.75" y2="152.50" stroke="#5a48e0" stroke-width="1.0"/>
<line x1="646.95" y1="60.50" x2="650.55" y2="60.50" stroke="#5a48e0" stroke-width="1.0"/>
<line x1="646.95" y1="152.50" x2="650.55" y2="152.50" stroke="#5a48e0" stroke-width="1.0"/>
<rect x="645.15" y="110.50" width="7.20" height="35.00" stroke="#5a48e0" stroke-width="1.0" fill="none"/>
<line x1="645.15" y1="130.00" x2="652.35" y2="130.00" stroke="#5a48e0" stroke-width="1.0"/>
<circle cx="649.09" cy="60.50" r="1.55" fill="#5a48e0" fill-opacity="0.9"/>
<circle cx="649.54" cy="152.50" r="1.55" fill="#5a48e0" fill-opacity="0.9"/>
<circle cx="647.60" cy="151.37" r="1.55" fill="#5a48e0" fill-opacity="0.9"/>
<circle cx="649.67" cy="87.04" r="1.55" fill="#5a48e0" fill-opacity="0.9"/>
<circle cx="648.96" cy="141.39" r="1.55" fill="#5a48e0" fill-opacity="0.9"/>
<circle cx="647.38" cy="118.70" r="1.55" fill="#5a48e0" fill-opacity="0.9"/>
<circle cx="648.62" cy="112.55" r="1.55" fill="#5a48e0" fill-opacity="0.9"/>
<circle cx="648.74" cy="127.70" r="1.55" fill="#5a48e0" fill-opacity="0.9"/>
<circle cx="646.88" cy="103.64" r="1.55" fill="#5a48e0" fill-opacity="0.9"/>
<circle cx="648.99" cy="148.78" r="1.55" fill="#5a48e0" fill-opacity="0.9"/>
<circle cx="648.27" cy="102.53" r="1.55" fill="#5a48e0" fill-opacity="0.9"/>
<circle cx="647.14" cy="144.12" r="1.55" fill="#5a48e0" fill-opacity="0.9"/>
<circle cx="646.96" cy="92.31" r="1.55" fill="#5a48e0" fill-opacity="0.9"/>
<circle cx="650.39" cy="94.63" r="1.55" fill="#5a48e0" fill-opacity="0.9"/>
<line x1="663.25" y1="78.00" x2="663.25" y2="97.50" stroke="#e23a42" stroke-width="1.0"/>
<line x1="663.25" y1="123.00" x2="663.25" y2="141.00" stroke="#e23a42" stroke-width="1.0"/>
<line x1="661.45" y1="78.00" x2="665.05" y2="78.00" stroke="#e23a42" stroke-width="1.0"/>
<line x1="661.45" y1="141.00" x2="665.05" y2="141.00" stroke="#e23a42" stroke-width="1.0"/>
<rect x="659.65" y="97.50" width="7.20" height="25.50" stroke="#e23a42" stroke-width="1.0" fill="none"/>
<line x1="659.65" y1="108.00" x2="666.85" y2="108.00" stroke="#e23a42" stroke-width="1.0"/>
<circle cx="662.91" cy="78.00" r="1.55" fill="#e23a42" fill-opacity="0.9"/>
<circle cx="664.21" cy="141.00" r="1.55" fill="#e23a42" fill-opacity="0.9"/>
<circle cx="664.76" cy="87.45" r="1.55" fill="#e23a42" fill-opacity="0.9"/>
<circle cx="663.73" cy="115.81" r="1.55" fill="#e23a42" fill-opacity="0.9"/>
<circle cx="662.74" cy="119.47" r="1.55" fill="#e23a42" fill-opacity="0.9"/>
<circle cx="664.28" cy="110.90" r="1.55" fill="#e23a42" fill-opacity="0.9"/>
<circle cx="662.96" cy="108.60" r="1.55" fill="#e23a42" fill-opacity="0.9"/>
<circle cx="662.46" cy="94.12" r="1.55" fill="#e23a42" fill-opacity="0.9"/>
<circle cx="663.26" cy="130.27" r="1.55" fill="#e23a42" fill-opacity="0.9"/>
<circle cx="665.05" cy="110.41" r="1.55" fill="#e23a42" fill-opacity="0.9"/>
<circle cx="662.61" cy="93.44" r="1.55" fill="#e23a42" fill-opacity="0.9"/>
<circle cx="663.58" cy="105.13" r="1.55" fill="#e23a42" fill-opacity="0.9"/>
<circle cx="661.50" cy="93.29" r="1.55" fill="#e23a42" fill-opacity="0.9"/>
<circle cx="663.42" cy="95.27" r="1.55" fill="#e23a42" fill-opacity="0.9"/>
<line x1="677.50" y1="73.00" x2="677.50" y2="107.00" stroke="#18b8c0" stroke-width="1.0"/>
<line x1="677.50" y1="138.00" x2="677.50" y2="143.75" stroke="#18b8c0" stroke-width="1.0"/>
<line x1="675.70" y1="73.00" x2="679.30" y2="73.00" stroke="#18b8c0" stroke-width="1.0"/>
<line x1="675.70" y1="143.75" x2="679.30" y2="143.75" stroke="#18b8c0" stroke-width="1.0"/>
<rect x="673.90" y="107.00" width="7.20" height="31.00" stroke="#18b8c0" stroke-width="1.0" fill="none"/>
<line x1="673.90" y1="125.00" x2="681.10" y2="125.00" stroke="#18b8c0" stroke-width="1.0"/>
<circle cx="676.60" cy="73.00" r="1.55" fill="#18b8c0" fill-opacity="0.9"/>
<circle cx="677.10" cy="143.75" r="1.55" fill="#18b8c0" fill-opacity="0.9"/>
<circle cx="679.10" cy="112.89" r="1.55" fill="#18b8c0" fill-opacity="0.9"/>
<circle cx="678.60" cy="95.37" r="1.55" fill="#18b8c0" fill-opacity="0.9"/>
<circle cx="677.94" cy="141.52" r="1.55" fill="#18b8c0" fill-opacity="0.9"/>
<circle cx="677.87" cy="96.68" r="1.55" fill="#18b8c0" fill-opacity="0.9"/>
<circle cx="678.13" cy="80.23" r="1.55" fill="#18b8c0" fill-opacity="0.9"/>
<circle cx="675.99" cy="130.64" r="1.55" fill="#18b8c0" fill-opacity="0.9"/>
<circle cx="678.54" cy="108.15" r="1.55" fill="#18b8c0" fill-opacity="0.9"/>
<circle cx="677.00" cy="141.77" r="1.55" fill="#18b8c0" fill-opacity="0.9"/>
<circle cx="677.74" cy="142.52" r="1.55" fill="#18b8c0" fill-opacity="0.9"/>
<circle cx="677.20" cy="116.36" r="1.55" fill="#18b8c0" fill-opacity="0.9"/>
<circle cx="678.04" cy="120.35" r="1.55" fill="#18b8c0" fill-opacity="0.9"/>
<circle cx="677.76" cy="138.31" r="1.55" fill="#18b8c0" fill-opacity="0.9"/>
<circle cx="689.10" cy="143.95" r="1.75" fill="#5a48e0" fill-opacity="0.9"/>
<circle cx="693.11" cy="147.60" r="1.75" fill="#5a48e0" fill-opacity="0.9"/>
<circle cx="693.68" cy="146.57" r="1.75" fill="#5a48e0" fill-opacity="0.9"/>
<circle cx="688.97" cy="146.10" r="1.75" fill="#5a48e0" fill-opacity="0.9"/>
<circle cx="691.98" cy="150.50" r="1.75" fill="#5a48e0" fill-opacity="0.9"/>
<circle cx="694.00" cy="146.80" r="1.75" fill="#5a48e0" fill-opacity="0.9"/>
<circle cx="691.04" cy="143.82" r="1.75" fill="#5a48e0" fill-opacity="0.9"/>
<circle cx="692.25" cy="144.70" r="1.75" fill="#5a48e0" fill-opacity="0.9"/>
<circle cx="689.69" cy="143.12" r="1.75" fill="#5a48e0" fill-opacity="0.9"/>
<circle cx="688.92" cy="148.47" r="1.75" fill="#5a48e0" fill-opacity="0.9"/>
<circle cx="689.53" cy="150.73" r="1.75" fill="#5a48e0" fill-opacity="0.9"/>
<circle cx="689.36" cy="149.96" r="1.75" fill="#5a48e0" fill-opacity="0.9"/>
<circle cx="689.57" cy="143.14" r="1.75" fill="#5a48e0" fill-opacity="0.9"/>
<circle cx="692.64" cy="144.94" r="1.75" fill="#5a48e0" fill-opacity="0.9"/>
<circle cx="707.21" cy="144.50" r="1.75" fill="#e23a42" fill-opacity="0.9"/>
<circle cx="703.66" cy="149.19" r="1.75" fill="#e23a42" fill-opacity="0.9"/>
<circle cx="707.11" cy="149.84" r="1.75" fill="#e23a42" fill-opacity="0.9"/>
<circle cx="707.19" cy="143.67" r="1.75" fill="#e23a42" fill-opacity="0.9"/>
<circle cx="706.67" cy="148.67" r="1.75" fill="#e23a42" fill-opacity="0.9"/>
<circle cx="705.80" cy="150.46" r="1.75" fill="#e23a42" fill-opacity="0.9"/>
<circle cx="704.72" cy="150.71" r="1.75" fill="#e23a42" fill-opacity="0.9"/>
<circle cx="707.13" cy="143.09" r="1.75" fill="#e23a42" fill-opacity="0.9"/>
<circle cx="703.48" cy="148.21" r="1.75" fill="#e23a42" fill-opacity="0.9"/>
<circle cx="707.65" cy="143.64" r="1.75" fill="#e23a42" fill-opacity="0.9"/>
<circle cx="705.02" cy="148.84" r="1.75" fill="#e23a42" fill-opacity="0.9"/>
<circle cx="704.26" cy="149.89" r="1.75" fill="#e23a42" fill-opacity="0.9"/>
<circle cx="705.93" cy="143.48" r="1.75" fill="#e23a42" fill-opacity="0.9"/>
<circle cx="705.31" cy="147.60" r="1.75" fill="#e23a42" fill-opacity="0.9"/>
<circle cx="719.66" cy="149.72" r="1.75" fill="#18b8c0" fill-opacity="0.9"/>
<circle cx="718.01" cy="150.39" r="1.75" fill="#18b8c0" fill-opacity="0.9"/>
<circle cx="719.23" cy="149.55" r="1.75" fill="#18b8c0" fill-opacity="0.9"/>
<circle cx="720.73" cy="148.30" r="1.75" fill="#18b8c0" fill-opacity="0.9"/>
<circle cx="719.36" cy="150.32" r="1.75" fill="#18b8c0" fill-opacity="0.9"/>
<circle cx="722.49" cy="150.32" r="1.75" fill="#18b8c0" fill-opacity="0.9"/>
<circle cx="720.37" cy="147.61" r="1.75" fill="#18b8c0" fill-opacity="0.9"/>
<circle cx="717.54" cy="151.36" r="1.75" fill="#18b8c0" fill-opacity="0.9"/>
<circle cx="721.14" cy="150.55" r="1.75" fill="#18b8c0" fill-opacity="0.9"/>
<circle cx="719.06" cy="149.33" r="1.75" fill="#18b8c0" fill-opacity="0.9"/>
<circle cx="722.67" cy="150.57" r="1.75" fill="#18b8c0" fill-opacity="0.9"/>
<circle cx="720.57" cy="147.70" r="1.75" fill="#18b8c0" fill-opacity="0.9"/>
<circle cx="719.60" cy="150.88" r="1.75" fill="#18b8c0" fill-opacity="0.9"/>
<circle cx="719.31" cy="149.77" r="1.75" fill="#18b8c0" fill-opacity="0.9"/>
<text x="562.50" y="97.20" font-size="7" text-anchor="middle" fill="#222" >c</text>
<text x="577.50" y="80.20" font-size="7" text-anchor="middle" fill="#222" >b</text>
<text x="591.75" y="18.20" font-size="7" text-anchor="middle" fill="#222" >a</text>
<text x="606.75" y="57.20" font-size="7" text-anchor="middle" fill="#222" >a</text>
<text x="620.75" y="49.20" font-size="7" text-anchor="middle" fill="#222" >a</text>
<text x="635.00" y="62.70" font-size="7" text-anchor="middle" fill="#222" >b</text>
<text x="648.75" y="56.20" font-size="7" text-anchor="middle" fill="#222" >a</text>
<text x="663.25" y="73.20" font-size="7" text-anchor="middle" fill="#222" >a</text>
<text x="677.50" y="67.20" font-size="7" text-anchor="middle" fill="#222" >a</text>
<text x="691.75" y="137.95" font-size="7" text-anchor="middle" fill="#222" >b</text>
<text x="706.25" y="137.20" font-size="7" text-anchor="middle" fill="#222" >a</text>
<text x="720.00" y="140.20" font-size="7" text-anchor="middle" fill="#222" >ab</text>
<text x="0.60" y="201.00" font-size="9.8" text-anchor="start" fill="#222" >(c)</text>
<circle cx="31.3" cy="238.8" r="2.4" fill="none" stroke="#333" stroke-width="0.6"/>
<text x="35.00" y="240.60" font-size="5.3" text-anchor="start" fill="#222" >Water</text>
<rect x="54.2" y="236.8" width="4" height="4" fill="none" stroke="#333" stroke-width="0.6"/>
<text x="61.00" y="240.60" font-size="5.3" text-anchor="start" fill="#222" >Bulk soil</text>
<path d="M87.5 236 L90.3 241 L84.7 241 Z" fill="none" stroke="#333" stroke-width="0.6"/>
<text x="92.30" y="240.60" font-size="5.3" text-anchor="start" fill="#222" >Rhizosphere soil</text>
<path d="M135 235.3 L136 238 L138.7 238.2 L136.5 239.9 L137.3 242.6 L135 241 L132.7 242.6 L133.5 239.9 L131.3 238.2 L134 238 Z" fill="none" stroke="#333" stroke-width="0.6"/>
<text x="142.00" y="240.60" font-size="5.3" text-anchor="start" fill="#222" >Root endosphere</text>
<text x="218.80" y="224.50" font-size="5.2" text-anchor="start" fill="#222" >Inlet</text>
<text x="233.80" y="224.50" font-size="5.2" text-anchor="start" fill="#222" >Middle</text>
<text x="250.00" y="224.50" font-size="5.2" text-anchor="start" fill="#222" >Outlet</text>
<text x="216.30" y="233.30" font-size="5.2" text-anchor="end" fill="#222" >Seeding stage</text>
<rect x="218.00" y="228.60" width="15.8" height="5.8" fill="#5533d6"/>
<rect x="233.67" y="228.60" width="15.8" height="5.8" fill="#8a7ae6"/>
<rect x="249.34" y="228.60" width="15.8" height="5.8" fill="#c9c0f3"/>
<text x="216.30" y="240.10" font-size="5.2" text-anchor="end" fill="#222" >Mature stage</text>
<rect x="218.00" y="235.40" width="15.8" height="5.8" fill="#15b3b9"/>
<rect x="233.67" y="235.40" width="15.8" height="5.8" fill="#6dcdd1"/>
<rect x="249.34" y="235.40" width="15.8" height="5.8" fill="#b8e6e8"/>
<text x="216.30" y="247.00" font-size="5.2" text-anchor="end" fill="#222" >Wilting stage</text>
<rect x="218.00" y="242.30" width="15.8" height="5.8" fill="#ef6a58"/>
<rect x="233.67" y="242.30" width="15.8" height="5.8" fill="#f39e92"/>
<rect x="249.34" y="242.30" width="15.8" height="5.8" fill="#f8d0cb"/>
<rect x="22.30" y="252.60" width="130.40" height="112.10" stroke="#666" stroke-width="0.8" fill="none"/>
<line x1="76.20" y1="252.60" x2="76.20" y2="364.70" stroke="#666" stroke-width="0.6" stroke-dasharray="1.6,1.2"/>
<line x1="22.30" y1="310.10" x2="152.70" y2="310.10" stroke="#666" stroke-width="0.6" stroke-dasharray="1.6,1.2"/>
<line x1="21.10" y1="256.60" x2="22.30" y2="256.60" stroke="#777" stroke-width="0.5"/>
<line x1="21.10" y1="266.10" x2="22.30" y2="266.10" stroke="#777" stroke-width="0.5"/>
<line x1="21.10" y1="275.60" x2="22.30" y2="275.60" stroke="#777" stroke-width="0.5"/>
<line x1="21.10" y1="285.10" x2="22.30" y2="285.10" stroke="#777" stroke-width="0.5"/>
<line x1="21.10" y1="294.60" x2="22.30" y2="294.60" stroke="#777" stroke-width="0.5"/>
<line x1="21.10" y1="304.10" x2="22.30" y2="304.10" stroke="#777" stroke-width="0.5"/>
<line x1="21.10" y1="313.60" x2="22.30" y2="313.60" stroke="#777" stroke-width="0.5"/>
<line x1="21.10" y1="323.10" x2="22.30" y2="323.10" stroke="#777" stroke-width="0.5"/>
<line x1="21.10" y1="332.60" x2="22.30" y2="332.60" stroke="#777" stroke-width="0.5"/>
<line x1="21.10" y1="342.10" x2="22.30" y2="342.10" stroke="#777" stroke-width="0.5"/>
<line x1="21.10" y1="351.60" x2="22.30" y2="351.60" stroke="#777" stroke-width="0.5"/>
<line x1="21.10" y1="361.10" x2="22.30" y2="361.10" stroke="#777" stroke-width="0.5"/>
<line x1="26.30" y1="364.70" x2="26.30" y2="365.90" stroke="#777" stroke-width="0.5"/>
<line x1="35.80" y1="364.70" x2="35.80" y2="365.90" stroke="#777" stroke-width="0.5"/>
<line x1="45.30" y1="364.70" x2="45.30" y2="365.90" stroke="#777" stroke-width="0.5"/>
<line x1="54.80" y1="364.70" x2="54.80" y2="365.90" stroke="#777" stroke-width="0.5"/>
<line x1="64.30" y1="364.70" x2="64.30" y2="365.90" stroke="#777" stroke-width="0.5"/>
<line x1="73.80" y1="364.70" x2="73.80" y2="365.90" stroke="#777" stroke-width="0.5"/>
<line x1="83.30" y1="364.70" x2="83.30" y2="365.90" stroke="#777" stroke-width="0.5"/>
<line x1="92.80" y1="364.70" x2="92.80" y2="365.90" stroke="#777" stroke-width="0.5"/>
<line x1="102.30" y1="364.70" x2="102.30" y2="365.90" stroke="#777" stroke-width="0.5"/>
<line x1="111.80" y1="364.70" x2="111.80" y2="365.90" stroke="#777" stroke-width="0.5"/>
<line x1="121.30" y1="364.70" x2="121.30" y2="365.90" stroke="#777" stroke-width="0.5"/>
<line x1="130.80" y1="364.70" x2="130.80" y2="365.90" stroke="#777" stroke-width="0.5"/>
<line x1="140.30" y1="364.70" x2="140.30" y2="365.90" stroke="#777" stroke-width="0.5"/>
<line x1="149.80" y1="364.70" x2="149.80" y2="365.90" stroke="#777" stroke-width="0.5"/>
<text x="19.80" y="255.10" font-size="7.4" text-anchor="end" fill="#222" >0.6</text>
<text x="19.80" y="312.60" font-size="7.4" text-anchor="end" fill="#222" >0</text>
<text x="19.80" y="362.50" font-size="7.4" text-anchor="end" fill="#222" >-0.5</text>
<text x="27.50" y="373.50" font-size="7.4" text-anchor="middle" fill="#222" >-0.5</text>
<text x="76.20" y="373.50" font-size="7.4" text-anchor="middle" fill="#222" >0</text>
<text x="148.75" y="373.50" font-size="7.4" text-anchor="middle" fill="#222" >0.8</text>
<text x="26.80" y="262.00" font-size="7.6" text-anchor="start" font-weight="bold" fill="#222" >Bacteria</text>
<text x="25.30" y="358.50" font-size="7.6" text-anchor="start" fill="#222" >Stress : 0.138</text>
<circle cx="90.80" cy="270.00" r="1.5" fill="#f07b6a" fill-opacity="0.85"/>
<path d="M100.20 269.14L101.80 272.18L98.60 272.18Z" fill="#f07b6a" fill-opacity="0.6"/>
<circle cx="86.30" cy="276.70" r="1.5" fill="#f07b6a" fill-opacity="0.85"/>
<path d="M91.60 274.44L93.20 277.48L90.00 277.48Z" fill="#f07b6a" fill-opacity="0.85"/>
<path d="M96.20 272.84L97.80 275.88L94.60 275.88Z" fill="#f07b6a"/>
<circle cx="92.70" cy="281.50" r="1.5" fill="#f07b6a" fill-opacity="0.85"/>
<circle cx="94.80" cy="284.20" r="1.5" fill="#f07b6a" fill-opacity="0.6"/>
<circle cx="88.20" cy="279.40" r="1.5" fill="#f07b6a" fill-opacity="0.85"/>
<path d="M97.50 276.24L99.10 279.28L95.90 279.28Z" fill="#f07b6a" fill-opacity="0.85"/>
<circle cx="86.80" cy="290.10" r="1.5" fill="#18b8c0" fill-opacity="0.5"/>
<rect x="88.60" y="290.00" width="2.80" height="2.80" fill="#18b8c0" fill-opacity="0.8"/>
<circle cx="93.50" cy="289.60" r="1.5" fill="#18b8c0" fill-opacity="0.5"/>
<circle cx="85.50" cy="276.70" r="1.5" fill="#18b8c0" fill-opacity="0.8"/>
<circle cx="92.20" cy="292.80" r="1.5" fill="#18b8c0" fill-opacity="0.5"/>
<rect x="86.80" y="290.80" width="2.80" height="2.80" fill="#18b8c0" fill-opacity="0.8"/>
<circle cx="87.50" cy="288.00" r="1.5" fill="#18b8c0" fill-opacity="0.8"/>
<circle cx="91.00" cy="287.00" r="1.5" fill="#18b8c0" fill-opacity="0.8"/>
<circle cx="43.40" cy="297.50" r="1.5" fill="#18b8c0" fill-opacity="0.85"/>
<path d="M41.60 303.74L43.20 306.78L40.00 306.78Z" fill="#18b8c0" fill-opacity="0.85"/>
<circle cx="46.00" cy="310.00" r="1.5" fill="#18b8c0" fill-opacity="0.85"/>
<circle cx="76.30" cy="305.50" r="1.5" fill="#18b8c0" fill-opacity="0.85"/>
<circle cx="80.70" cy="305.50" r="1.5" fill="#18b8c0" fill-opacity="0.85"/>
<rect x="79.30" y="307.20" width="2.80" height="2.80" fill="#18b8c0" fill-opacity="0.85"/>
<circle cx="52.50" cy="310.00" r="1.5" fill="#f07b6a" fill-opacity="0.85"/>
<path d="M62.90 298.12L64.50 301.16L61.30 301.16Z" fill="#f07b6a" fill-opacity="0.7"/>
<circle cx="66.92" cy="303.12" r="1.5" fill="#f07b6a" fill-opacity="0.7"/>
<rect x="63.56" y="301.24" width="2.80" height="2.80" fill="#f07b6a"/>
<circle cx="66.81" cy="301.36" r="1.5" fill="#f07b6a" fill-opacity="0.45"/>
<path d="M63.98 300.70L65.58 303.74L62.38 303.74Z" fill="#f07b6a" fill-opacity="0.7"/>
<rect x="66.50" y="297.92" width="2.80" height="2.80" fill="#f07b6a" fill-opacity="0.7"/>
<path d="M68.43 297.30L70.03 300.34L66.83 300.34Z" fill="#f07b6a" fill-opacity="0.7"/>
<circle cx="68.75" cy="302.74" r="1.5" fill="#f07b6a" fill-opacity="0.7"/>
<path d="M65.89 298.69L67.49 301.73L64.29 301.73Z" fill="#f07b6a"/>
<circle cx="72.50" cy="300.26" r="1.5" fill="#f07b6a" fill-opacity="0.7"/>
<rect x="62.97" y="298.46" width="2.80" height="2.80" fill="#f07b6a" fill-opacity="0.7"/>
<path d="M69.18 299.99L70.78 303.03L67.58 303.03Z" fill="#f07b6a" fill-opacity="0.45"/>
<rect x="67.34" y="298.75" width="2.80" height="2.80" fill="#f07b6a"/>
<path d="M58.50 311.53L60.10 314.57L56.90 314.57Z" fill="#18b8c0"/>
<circle cx="61.15" cy="312.53" r="1.5" fill="#18b8c0" fill-opacity="0.6"/>
<path d="M52.99 309.85L54.59 312.89L51.39 312.89Z" fill="#18b8c0"/>
<rect x="52.85" y="302.99" width="2.80" height="2.80" fill="#18b8c0" fill-opacity="0.6"/>
<circle cx="57.85" cy="315.89" r="1.5" fill="#18b8c0" fill-opacity="0.6"/>
<circle cx="61.73" cy="309.47" r="1.5" fill="#18b8c0" fill-opacity="0.9"/>
<circle cx="56.55" cy="311.71" r="1.5" fill="#18b8c0"/>
<rect x="56.73" y="310.65" width="2.80" height="2.80" fill="#18b8c0" fill-opacity="0.9"/>
<path d="M61.07 310.99L62.67 314.03L59.47 314.03Z" fill="#18b8c0"/>
<circle cx="57.85" cy="315.55" r="1.5" fill="#18b8c0" fill-opacity="0.6"/>
<rect x="56.82" y="305.24" width="2.80" height="2.80" fill="#18b8c0"/>
<circle cx="57.88" cy="311.37" r="1.5" fill="#18b8c0"/>
<rect x="56.56" y="304.53" width="2.80" height="2.80" fill="#18b8c0" fill-opacity="0.9"/>
<rect x="58.41" y="311.67" width="2.80" height="2.80" fill="#18b8c0" fill-opacity="0.9"/>
<path d="M60.12 312.30L61.72 315.34L58.52 315.34Z" fill="#18b8c0"/>
<path d="M58.10 311.35L59.70 314.39L56.50 314.39Z" fill="#18b8c0" fill-opacity="0.6"/>
<circle cx="59.65" cy="313.68" r="1.5" fill="#5a48e0"/>
<circle cx="69.16" cy="310.82" r="1.5" fill="#5a48e0" fill-opacity="0.6"/>
<path d="M68.43 308.90L70.03 311.94L66.83 311.94Z" fill="#5a48e0" fill-opacity="0.9"/>
<circle cx="70.00" cy="310.32" r="1.5" fill="#5a48e0"/>
<rect x="73.71" y="315.23" width="2.80" height="2.80" fill="#5a48e0" fill-opacity="0.9"/>
<circle cx="62.26" cy="312.75" r="1.5" fill="#5a48e0"/>
<path d="M67.21 311.52L68.81 314.56L65.61 314.56Z" fill="#5a48e0" fill-opacity="0.6"/>
<path d="M65.20 309.54L66.80 312.58L63.60 312.58Z" fill="#5a48e0"/>
<path d="M64.77 311.65L66.37 314.69L63.17 314.69Z" fill="#5a48e0"/>
<path d="M64.43 308.86L66.03 311.90L62.83 311.90Z" fill="#5a48e0"/>
<path d="M64.03 310.43L65.63 313.47L62.43 313.47Z" fill="#5a48e0" fill-opacity="0.9"/>
<circle cx="69.33" cy="315.75" r="1.5" fill="#5a48e0" fill-opacity="0.6"/>
<rect x="69.48" y="308.40" width="2.80" height="2.80" fill="#5a48e0" fill-opacity="0.9"/>
<circle cx="66.89" cy="314.55" r="1.5" fill="#5a48e0" fill-opacity="0.9"/>
<path d="M79.01 309.48L80.61 312.52L77.41 312.52Z" fill="#5a48e0"/>
<circle cx="64.28" cy="314.51" r="1.5" fill="#5a48e0"/>
<circle cx="71.66" cy="302.85" r="1.5" fill="#5a48e0"/>
<rect x="71.74" y="311.29" width="2.80" height="2.80" fill="#5a48e0" fill-opacity="0.9"/>
<rect x="65.73" y="310.78" width="2.80" height="2.80" fill="#5a48e0" fill-opacity="0.6"/>
<path d="M68.43 313.98L70.03 317.02L66.83 317.02Z" fill="#5a48e0" fill-opacity="0.9"/>
<circle cx="66.64" cy="314.37" r="1.5" fill="#5a48e0"/>
<rect x="66.29" y="304.66" width="2.80" height="2.80" fill="#5a48e0"/>
<rect x="66.88" y="311.38" width="2.80" height="2.80" fill="#5a48e0" fill-opacity="0.6"/>
<rect x="62.88" y="310.69" width="2.80" height="2.80" fill="#5a48e0"/>
<circle cx="62.94" cy="308.13" r="1.5" fill="#5a48e0"/>
<rect x="65.43" y="311.10" width="2.80" height="2.80" fill="#5a48e0" fill-opacity="0.6"/>
<rect x="59.13" y="309.71" width="2.80" height="2.80" fill="#5a48e0"/>
<rect x="66.74" y="307.41" width="2.80" height="2.80" fill="#5a48e0" fill-opacity="0.6"/>
<path d="M108.20 305.74L109.80 308.78L106.60 308.78Z" fill="#5a48e0"/>
<circle cx="113.60" cy="306.10" r="1.5" fill="#5a48e0" fill-opacity="0.8"/>
<path d="M117.60 305.74L119.20 308.78L116.00 308.78Z" fill="#5a48e0"/>
<rect x="118.80" y="304.70" width="2.80" height="2.80" fill="#5a48e0" fill-opacity="0.8"/>
<circle cx="116.20" cy="310.10" r="1.5" fill="#5a48e0"/>
<rect x="110.80" y="307.90" width="2.80" height="2.80" fill="#5a48e0" fill-opacity="0.8"/>
<circle cx="118.90" cy="311.00" r="1.5" fill="#5a48e0"/>
<rect x="134.90" y="304.20" width="2.80" height="2.80" fill="#5a48e0" fill-opacity="0.8"/>
<rect x="113.50" y="311.40" width="2.80" height="2.80" fill="#5a48e0" fill-opacity="0.45"/>
<circle cx="126.90" cy="306.70" r="1.5" fill="#5a48e0" fill-opacity="0.8"/>
<rect x="108.60" y="306.60" width="2.80" height="2.80" fill="#5a48e0" fill-opacity="0.8"/>
<rect x="113.60" y="303.60" width="2.80" height="2.80" fill="#5a48e0"/>
<circle cx="89.50" cy="331.50" r="1.5" fill="#5a48e0"/>
<path d="M93.50 331.14L95.10 334.18L91.90 334.18Z" fill="#5a48e0"/>
<circle cx="94.30" cy="336.90" r="1.5" fill="#5a48e0"/>
<circle cx="91.60" cy="338.20" r="1.5" fill="#5a48e0"/>
<circle cx="86.30" cy="336.90" r="1.5" fill="#18b8c0"/>
<rect x="88.60" y="336.30" width="2.80" height="2.80" fill="#18b8c0"/>
<circle cx="88.20" cy="334.20" r="1.5" fill="#5a48e0"/>
<circle cx="89.00" cy="346.20" r="1.5" fill="#f07b6a"/>
<circle cx="92.00" cy="335.00" r="1.5" fill="#18b8c0"/>
<circle cx="87.00" cy="333.00" r="1.5" fill="#5a48e0"/>
<text x="4.50" y="308.00" font-size="7.9" text-anchor="middle" fill="#222" transform="rotate(-90 4.5 308)" dominant-baseline="middle">NMDS2</text>
<text x="154.60" y="385.50" font-size="7.9" text-anchor="middle" fill="#222" >NMDS1</text>
<rect x="171.00" y="252.60" width="130.00" height="111.70" stroke="#666" stroke-width="0.8" fill="none"/>
<line x1="228.90" y1="252.60" x2="228.90" y2="364.30" stroke="#666" stroke-width="0.6" stroke-dasharray="1.6,1.2"/>
<line x1="171.00" y1="309.30" x2="301.00" y2="309.30" stroke="#666" stroke-width="0.6" stroke-dasharray="1.6,1.2"/>
<line x1="169.80" y1="256.60" x2="171.00" y2="256.60" stroke="#777" stroke-width="0.5"/>
<line x1="169.80" y1="266.10" x2="171.00" y2="266.10" stroke="#777" stroke-width="0.5"/>
<line x1="169.80" y1="275.60" x2="171.00" y2="275.60" stroke="#777" stroke-width="0.5"/>
<line x1="169.80" y1="285.10" x2="171.00" y2="285.10" stroke="#777" stroke-width="0.5"/>
<line x1="169.80" y1="294.60" x2="171.00" y2="294.60" stroke="#777" stroke-width="0.5"/>
<line x1="169.80" y1="304.10" x2="171.00" y2="304.10" stroke="#777" stroke-width="0.5"/>
<line x1="169.80" y1="313.60" x2="171.00" y2="313.60" stroke="#777" stroke-width="0.5"/>
<line x1="169.80" y1="323.10" x2="171.00" y2="323.10" stroke="#777" stroke-width="0.5"/>
<line x1="169.80" y1="332.60" x2="171.00" y2="332.60" stroke="#777" stroke-width="0.5"/>
<line x1="169.80" y1="342.10" x2="171.00" y2="342.10" stroke="#777" stroke-width="0.5"/>
<line x1="169.80" y1="351.60" x2="171.00" y2="351.60" stroke="#777" stroke-width="0.5"/>
<line x1="169.80" y1="361.10" x2="171.00" y2="361.10" stroke="#777" stroke-width="0.5"/>
<line x1="175.00" y1="364.30" x2="175.00" y2="365.50" stroke="#777" stroke-width="0.5"/>
<line x1="184.50" y1="364.30" x2="184.50" y2="365.50" stroke="#777" stroke-width="0.5"/>
<line x1="194.00" y1="364.30" x2="194.00" y2="365.50" stroke="#777" stroke-width="0.5"/>
<line x1="203.50" y1="364.30" x2="203.50" y2="365.50" stroke="#777" stroke-width="0.5"/>
<line x1="213.00" y1="364.30" x2="213.00" y2="365.50" stroke="#777" stroke-width="0.5"/>
<line x1="222.50" y1="364.30" x2="222.50" y2="365.50" stroke="#777" stroke-width="0.5"/>
<line x1="232.00" y1="364.30" x2="232.00" y2="365.50" stroke="#777" stroke-width="0.5"/>
<line x1="241.50" y1="364.30" x2="241.50" y2="365.50" stroke="#777" stroke-width="0.5"/>
<line x1="251.00" y1="364.30" x2="251.00" y2="365.50" stroke="#777" stroke-width="0.5"/>
<line x1="260.50" y1="364.30" x2="260.50" y2="365.50" stroke="#777" stroke-width="0.5"/>
<line x1="270.00" y1="364.30" x2="270.00" y2="365.50" stroke="#777" stroke-width="0.5"/>
<line x1="279.50" y1="364.30" x2="279.50" y2="365.50" stroke="#777" stroke-width="0.5"/>
<line x1="289.00" y1="364.30" x2="289.00" y2="365.50" stroke="#777" stroke-width="0.5"/>
<line x1="298.50" y1="364.30" x2="298.50" y2="365.50" stroke="#777" stroke-width="0.5"/>
<text x="168.50" y="255.10" font-size="7.4" text-anchor="end" fill="#222" >0.7</text>
<text x="168.50" y="311.80" font-size="7.4" text-anchor="end" fill="#222" >0</text>
<text x="168.50" y="362.00" font-size="7.4" text-anchor="end" fill="#222" >-0.6</text>
<text x="175.00" y="373.50" font-size="7.4" text-anchor="middle" fill="#222" >-0.5</text>
<text x="228.75" y="373.50" font-size="7.4" text-anchor="middle" fill="#222" >0</text>
<text x="297.50" y="373.50" font-size="7.4" text-anchor="middle" fill="#222" >0.7</text>
<text x="175.50" y="262.00" font-size="7.6" text-anchor="start" font-weight="bold" fill="#222" >Fungi</text>
<text x="174.00" y="358.50" font-size="7.6" text-anchor="start" fill="#222" >Stress : 0.198</text>
<circle cx="232.10" cy="266.60" r="1.5" fill="#18b8c0" fill-opacity="0.4"/>
<circle cx="240.60" cy="265.50" r="1.5" fill="#f07b6a" fill-opacity="0.4"/>
<circle cx="196.00" cy="283.40" r="1.5" fill="#5a48e0"/>
<circle cx="197.90" cy="282.60" r="1.5" fill="#5a48e0"/>
<circle cx="199.50" cy="284.20" r="1.5" fill="#5a48e0"/>
<circle cx="196.80" cy="285.30" r="1.5" fill="#5a48e0"/>
<circle cx="197.40" cy="279.90" r="1.5" fill="#5a48e0" fill-opacity="0.4"/>
<circle cx="207.50" cy="284.70" r="1.5" fill="#5a48e0"/>
<circle cx="204.00" cy="289.50" r="1.5" fill="#5a48e0"/>
<circle cx="189.40" cy="298.60" r="1.5" fill="#5a48e0" fill-opacity="0.8"/>
<circle cx="225.40" cy="286.80" r="1.5" fill="#f07b6a" fill-opacity="0.35"/>
<circle cx="260.10" cy="278.80" r="1.5" fill="#5a48e0" fill-opacity="0.8"/>
<circle cx="247.60" cy="283.40" r="1.5" fill="#f07b6a" fill-opacity="0.9"/>
<circle cx="257.50" cy="287.40" r="1.5" fill="#f07b6a" fill-opacity="0.7"/>
<circle cx="252.90" cy="290.60" r="1.5" fill="#5a48e0"/>
<circle cx="250.80" cy="292.70" r="1.5" fill="#f07b6a" fill-opacity="0.7"/>
<circle cx="261.50" cy="294.90" r="1.5" fill="#5a48e0" fill-opacity="0.9"/>
<circle cx="266.30" cy="292.20" r="1.5" fill="#5a48e0" fill-opacity="0.5"/>
<circle cx="262.00" cy="299.40" r="1.5" fill="#5a48e0"/>
<circle cx="260.10" cy="303.40" r="1.5" fill="#5a48e0"/>
<circle cx="269.50" cy="298.60" r="1.5" fill="#f07b6a" fill-opacity="0.5"/>
<path d="M215.50 294.14L217.10 297.18L213.90 297.18Z" fill="#5a48e0"/>
<circle cx="217.40" cy="299.40" r="1.5" fill="#5a48e0"/>
<path d="M209.40 297.64L211.00 300.68L207.80 300.68Z" fill="#5a48e0"/>
<circle cx="210.70" cy="306.10" r="1.5" fill="#5a48e0"/>
<circle cx="212.90" cy="308.70" r="1.5" fill="#5a48e0"/>
<circle cx="208.00" cy="308.20" r="1.5" fill="#5a48e0"/>
<circle cx="213.90" cy="307.40" r="1.5" fill="#5a48e0"/>
<circle cx="202.70" cy="310.90" r="1.5" fill="#18b8c0"/>
<circle cx="205.40" cy="318.90" r="1.5" fill="#18b8c0"/>
<circle cx="203.20" cy="320.00" r="1.5" fill="#18b8c0"/>
<circle cx="224.10" cy="310.90" r="1.5" fill="#18b8c0"/>
<path d="M227.30 308.34L228.90 311.38L225.70 311.38Z" fill="#18b8c0"/>
<circle cx="221.40" cy="313.50" r="1.5" fill="#18b8c0"/>
<path d="M217.40 313.64L219.00 316.68L215.80 316.68Z" fill="#18b8c0"/>
<circle cx="212.10" cy="316.80" r="1.5" fill="#18b8c0"/>
<circle cx="241.40" cy="304.70" r="1.5" fill="#18b8c0"/>
<circle cx="244.10" cy="303.40" r="1.5" fill="#18b8c0"/>
<circle cx="252.10" cy="302.10" r="1.5" fill="#18b8c0"/>
<circle cx="257.50" cy="304.70" r="1.5" fill="#18b8c0"/>
<circle cx="252.90" cy="312.80" r="1.5" fill="#18b8c0"/>
<path d="M240.60 312.84L242.20 315.88L239.00 315.88Z" fill="#18b8c0"/>
<circle cx="248.10" cy="314.10" r="1.5" fill="#18b8c0"/>
<circle cx="264.10" cy="310.10" r="1.5" fill="#18b8c0" fill-opacity="0.9"/>
<circle cx="274.80" cy="318.10" r="1.5" fill="#18b8c0"/>
<circle cx="283.40" cy="320.00" r="1.5" fill="#18b8c0"/>
<circle cx="244.10" cy="308.70" r="1.5" fill="#18b8c0" fill-opacity="0.8"/>
<path d="M222.70 335.84L224.30 338.88L221.10 338.88Z" fill="#18b8c0"/>
<circle cx="236.90" cy="307.40" r="1.5" fill="#18b8c0" fill-opacity="0.6"/>
<circle cx="206.70" cy="314.10" r="1.5" fill="#f07b6a"/>
<circle cx="209.40" cy="315.40" r="1.5" fill="#f07b6a"/>
<circle cx="214.70" cy="314.10" r="1.5" fill="#f07b6a"/>
<path d="M209.40 321.64L211.00 324.68L207.80 324.68Z" fill="#f07b6a"/>
<circle cx="216.10" cy="320.80" r="1.5" fill="#f07b6a" fill-opacity="0.7"/>
<circle cx="228.10" cy="320.80" r="1.5" fill="#f07b6a"/>
<path d="M227.30 322.44L228.90 325.48L225.70 325.48Z" fill="#f07b6a"/>
<circle cx="229.40" cy="315.40" r="1.5" fill="#f07b6a"/>
<circle cx="250.20" cy="320.80" r="1.5" fill="#f07b6a" fill-opacity="0.9"/>
<circle cx="262.80" cy="315.40" r="1.5" fill="#f07b6a" fill-opacity="0.8"/>
<circle cx="269.50" cy="320.00" r="1.5" fill="#f07b6a" fill-opacity="0.6"/>
<circle cx="274.30" cy="309.30" r="1.5" fill="#f07b6a" fill-opacity="0.6"/>
<circle cx="277.50" cy="310.10" r="1.5" fill="#f07b6a" fill-opacity="0.6"/>
<circle cx="268.10" cy="310.90" r="1.5" fill="#f07b6a" fill-opacity="0.7"/>
<circle cx="269.50" cy="328.00" r="1.5" fill="#f07b6a" fill-opacity="0.5"/>
<circle cx="258.30" cy="333.30" r="1.5" fill="#5a48e0"/>
<circle cx="248.10" cy="347.50" r="1.5" fill="#5a48e0"/>
<circle cx="224.60" cy="343.50" r="1.5" fill="#5a48e0" fill-opacity="0.7"/>
<circle cx="209.60" cy="310.47" r="1.5" fill="#5a48e0" fill-opacity="0.9"/>
<path d="M205.31 304.78L206.91 307.82L203.71 307.82Z" fill="#5a48e0" fill-opacity="0.9"/>
<circle cx="214.36" cy="308.17" r="1.5" fill="#5a48e0" fill-opacity="0.6"/>
<circle cx="207.34" cy="308.41" r="1.5" fill="#5a48e0"/>
<circle cx="213.09" cy="308.64" r="1.5" fill="#5a48e0"/>
<circle cx="212.82" cy="310.14" r="1.5" fill="#5a48e0"/>
<circle cx="214.82" cy="311.21" r="1.5" fill="#5a48e0"/>
<path d="M215.03 307.62L216.63 310.66L213.43 310.66Z" fill="#5a48e0" fill-opacity="0.6"/>
<path d="M206.38 306.68L207.98 309.72L204.78 309.72Z" fill="#5a48e0"/>
<path d="M214.25 304.34L215.85 307.38L212.65 307.38Z" fill="#5a48e0"/>
<path d="M213.50 309.28L215.10 312.32L211.90 312.32Z" fill="#5a48e0" fill-opacity="0.6"/>
<path d="M212.18 308.05L213.78 311.09L210.58 311.09Z" fill="#5a48e0"/>
<circle cx="212.09" cy="307.92" r="1.5" fill="#5a48e0" fill-opacity="0.6"/>
<path d="M210.96 305.74L212.56 308.78L209.36 308.78Z" fill="#5a48e0"/>
<rect x="205.40" y="316.28" width="2.80" height="2.80" fill="#f07b6a" fill-opacity="0.45"/>
<rect x="218.94" y="316.10" width="2.80" height="2.80" fill="#f07b6a"/>
<path d="M208.43 315.81L210.03 318.85L206.83 318.85Z" fill="#f07b6a" fill-opacity="0.7"/>
<rect x="198.23" y="317.38" width="2.80" height="2.80" fill="#f07b6a" fill-opacity="0.7"/>
<path d="M210.76 313.56L212.36 316.60L209.16 316.60Z" fill="#f07b6a" fill-opacity="0.45"/>
<circle cx="219.01" cy="314.47" r="1.5" fill="#f07b6a"/>
<path d="M209.68 313.91L211.28 316.95L208.08 316.95Z" fill="#f07b6a"/>
<rect x="209.96" y="316.65" width="2.80" height="2.80" fill="#f07b6a"/>
<rect x="207.21" y="313.04" width="2.80" height="2.80" fill="#f07b6a" fill-opacity="0.7"/>
<path d="M211.56 308.44L213.16 311.48L209.96 311.48Z" fill="#f07b6a" fill-opacity="0.45"/>
<circle cx="213.02" cy="311.16" r="1.5" fill="#f07b6a"/>
<circle cx="213.70" cy="313.40" r="1.5" fill="#f07b6a" fill-opacity="0.45"/>
<rect x="199.84" y="313.99" width="2.80" height="2.80" fill="#18b8c0"/>
<circle cx="204.99" cy="320.42" r="1.5" fill="#18b8c0" fill-opacity="0.8"/>
<circle cx="207.35" cy="317.50" r="1.5" fill="#18b8c0" fill-opacity="0.8"/>
<rect x="202.69" y="315.79" width="2.80" height="2.80" fill="#18b8c0" fill-opacity="0.8"/>
<circle cx="201.38" cy="318.52" r="1.5" fill="#18b8c0"/>
<rect x="204.73" y="317.35" width="2.80" height="2.80" fill="#18b8c0" fill-opacity="0.8"/>
<circle cx="262.00" cy="312.00" r="1.5" fill="#f07b6a" fill-opacity="0.5"/>
<circle cx="270.00" cy="318.00" r="1.5" fill="#f07b6a" fill-opacity="0.45"/>
<circle cx="276.00" cy="309.00" r="1.5" fill="#f07b6a" fill-opacity="0.5"/>
<circle cx="280.00" cy="310.00" r="1.5" fill="#f07b6a" fill-opacity="0.4"/>
<circle cx="258.00" cy="322.00" r="1.5" fill="#f07b6a" fill-opacity="0.5"/>
<circle cx="265.00" cy="330.00" r="1.5" fill="#f07b6a" fill-opacity="0.35"/>
<circle cx="272.00" cy="328.00" r="1.5" fill="#f07b6a" fill-opacity="0.35"/>
<circle cx="270.00" cy="295.00" r="1.5" fill="#5a48e0" fill-opacity="0.5"/>
<circle cx="256.00" cy="291.00" r="1.5" fill="#5a48e0" fill-opacity="0.5"/>
<circle cx="262.00" cy="306.00" r="1.5" fill="#18b8c0" fill-opacity="0.8"/>
<circle cx="268.00" cy="314.00" r="1.5" fill="#18b8c0" fill-opacity="0.7"/>
<circle cx="238.00" cy="306.00" r="1.5" fill="#18b8c0" fill-opacity="0.5"/>
<circle cx="233.00" cy="310.00" r="1.5" fill="#18b8c0" fill-opacity="0.6"/>
<circle cx="236.00" cy="301.00" r="1.5" fill="#f07b6a" fill-opacity="0.3"/>
<text x="310.60" y="200.40" font-size="9.6" text-anchor="start" fill="#222" >(d)</text>
<rect x="344.50" y="195.3" width="8" height="7.6" fill="#5a48e0"/>
<text x="355.80" y="202.00" font-size="7.6" text-anchor="start" fill="#222" >Seeding stage</text>
<rect x="402.50" y="195.3" width="8" height="7.6" fill="#18b8c0"/>
<text x="413.80" y="202.00" font-size="7.6" text-anchor="start" fill="#222" >Mature stage</text>
<rect x="456.30" y="195.3" width="8" height="7.6" fill="#f07b6a"/>
<text x="467.60" y="202.00" font-size="7.6" text-anchor="start" fill="#222" >Wilting stage</text>
<circle cx="531.3" cy="198.8" r="3.3" fill="none" stroke="#333" stroke-width="0.7"/>
<text x="537.00" y="200.60" font-size="7.6" text-anchor="start" fill="#222" >Inlet</text>
<rect x="557.8" y="195.8" width="5.6" height="5.6" fill="none" stroke="#333" stroke-width="0.7"/>
<text x="566.00" y="200.60" font-size="7.6" text-anchor="start" fill="#222" >Middle</text>
<path d="M597.5 194.8 L601.5 201.8 L593.5 201.8 Z" fill="none" stroke="#333" stroke-width="0.7"/>
<text x="604.50" y="200.60" font-size="7.6" text-anchor="start" fill="#222" >Outlet</text>
<text x="383.00" y="215.50" font-size="7.6" text-anchor="middle" fill="#222" >Water</text>
<text x="488.75" y="215.50" font-size="7.6" text-anchor="middle" fill="#222" >Bulk soil</text>
<text x="600.75" y="215.50" font-size="7.6" text-anchor="middle" fill="#222" >Rhizosphere soil</text>
<text x="707.60" y="215.50" font-size="7.6" text-anchor="middle" fill="#222" >Root endosphere</text>
<line x1="337.40" y1="220.60" x2="429.80" y2="220.60" stroke="#999" stroke-width="0.8"/>
<line x1="337.40" y1="313.40" x2="429.80" y2="313.40" stroke="#4a4a4a" stroke-width="0.85"/>
<line x1="337.40" y1="220.60" x2="337.40" y2="313.40" stroke="#4a4a4a" stroke-width="0.85"/>
<line x1="337.40" y1="270.90" x2="429.80" y2="270.90" stroke="#999" stroke-width="0.8"/>
<line x1="381.50" y1="220.60" x2="381.50" y2="313.40" stroke="#aaa" stroke-width="0.6"/>
<line x1="336.20" y1="226.60" x2="337.40" y2="226.60" stroke="#777" stroke-width="0.5"/>
<line x1="336.20" y1="233.10" x2="337.40" y2="233.10" stroke="#777" stroke-width="0.5"/>
<line x1="336.20" y1="239.60" x2="337.40" y2="239.60" stroke="#777" stroke-width="0.5"/>
<line x1="336.20" y1="246.10" x2="337.40" y2="246.10" stroke="#777" stroke-width="0.5"/>
<line x1="336.20" y1="252.60" x2="337.40" y2="252.60" stroke="#777" stroke-width="0.5"/>
<line x1="336.20" y1="259.10" x2="337.40" y2="259.10" stroke="#777" stroke-width="0.5"/>
<line x1="336.20" y1="265.60" x2="337.40" y2="265.60" stroke="#777" stroke-width="0.5"/>
<line x1="336.20" y1="272.10" x2="337.40" y2="272.10" stroke="#777" stroke-width="0.5"/>
<line x1="336.20" y1="278.60" x2="337.40" y2="278.60" stroke="#777" stroke-width="0.5"/>
<line x1="336.20" y1="285.10" x2="337.40" y2="285.10" stroke="#777" stroke-width="0.5"/>
<line x1="336.20" y1="291.60" x2="337.40" y2="291.60" stroke="#777" stroke-width="0.5"/>
<line x1="336.20" y1="298.10" x2="337.40" y2="298.10" stroke="#777" stroke-width="0.5"/>
<line x1="336.20" y1="304.60" x2="337.40" y2="304.60" stroke="#777" stroke-width="0.5"/>
<line x1="336.20" y1="311.10" x2="337.40" y2="311.10" stroke="#777" stroke-width="0.5"/>
<line x1="343.40" y1="313.40" x2="343.40" y2="314.60" stroke="#777" stroke-width="0.5"/>
<line x1="349.90" y1="313.40" x2="349.90" y2="314.60" stroke="#777" stroke-width="0.5"/>
<line x1="356.40" y1="313.40" x2="356.40" y2="314.60" stroke="#777" stroke-width="0.5"/>
<line x1="362.90" y1="313.40" x2="362.90" y2="314.60" stroke="#777" stroke-width="0.5"/>
<line x1="369.40" y1="313.40" x2="369.40" y2="314.60" stroke="#777" stroke-width="0.5"/>
<line x1="375.90" y1="313.40" x2="375.90" y2="314.60" stroke="#777" stroke-width="0.5"/>
<line x1="382.40" y1="313.40" x2="382.40" y2="314.60" stroke="#777" stroke-width="0.5"/>
<line x1="388.90" y1="313.40" x2="388.90" y2="314.60" stroke="#777" stroke-width="0.5"/>
<line x1="395.40" y1="313.40" x2="395.40" y2="314.60" stroke="#777" stroke-width="0.5"/>
<line x1="401.90" y1="313.40" x2="401.90" y2="314.60" stroke="#777" stroke-width="0.5"/>
<line x1="408.40" y1="313.40" x2="408.40" y2="314.60" stroke="#777" stroke-width="0.5"/>
<line x1="414.90" y1="313.40" x2="414.90" y2="314.60" stroke="#777" stroke-width="0.5"/>
<line x1="421.40" y1="313.40" x2="421.40" y2="314.60" stroke="#777" stroke-width="0.5"/>
<text x="335.00" y="224.40" font-size="6.9" text-anchor="end" fill="#222" >0.4</text>
<text x="335.00" y="273.30" font-size="6.9" text-anchor="end" fill="#222" >0</text>
<text x="335.00" y="311.30" font-size="6.9" text-anchor="end" fill="#222" >-0.3</text>
<text x="342.70" y="320.50" font-size="6.9" text-anchor="middle" fill="#222" >-0.5</text>
<text x="381.50" y="320.50" font-size="6.9" text-anchor="middle" fill="#222" >0</text>
<text x="426.90" y="320.50" font-size="6.9" text-anchor="middle" fill="#222" >0.6</text>
<text x="340.40" y="310.20" font-size="7.5" text-anchor="start" fill="#222" >Stress : 0.041</text>
<circle cx="374.00" cy="229.20" r="1.5" fill="#18b8c0"/>
<circle cx="380.10" cy="247.40" r="1.5" fill="#18b8c0"/>
<circle cx="372.90" cy="252.80" r="1.5" fill="#18b8c0"/>
<circle cx="376.10" cy="253.30" r="1.5" fill="#18b8c0"/>
<circle cx="377.50" cy="251.40" r="1.5" fill="#18b8c0"/>
<rect x="377.00" y="255.50" width="2.60" height="2.60" fill="#18b8c0"/>
<circle cx="379.30" cy="262.10" r="1.5" fill="#18b8c0"/>
<path d="M377.50 262.93L379.20 266.16L375.80 266.16Z" fill="#18b8c0"/>
<circle cx="376.70" cy="266.10" r="1.5" fill="#18b8c0"/>
<circle cx="412.20" cy="252.20" r="1.5" fill="#5a48e0"/>
<circle cx="414.10" cy="266.70" r="1.5" fill="#5a48e0"/>
<rect x="413.60" y="263.50" width="2.60" height="2.60" fill="#5a48e0"/>
<circle cx="413.50" cy="276.30" r="1.5" fill="#5a48e0"/>
<rect x="413.60" y="276.80" width="2.60" height="2.60" fill="#5a48e0"/>
<circle cx="414.10" cy="281.60" r="1.5" fill="#5a48e0"/>
<path d="M412.20 286.93L413.90 290.16L410.50 290.16Z" fill="#5a48e0"/>
<path d="M410.90 288.83L412.60 292.06L409.20 292.06Z" fill="#5a48e0"/>
<path d="M413.50 295.03L415.20 298.26L411.80 298.26Z" fill="#5a48e0"/>
<circle cx="349.90" cy="278.10" r="1.5" fill="#f07b6a"/>
<circle cx="352.10" cy="278.90" r="1.5" fill="#f07b6a"/>
<rect x="354.00" y="279.50" width="2.60" height="2.60" fill="#f07b6a"/>
<path d="M354.70 282.93L356.40 286.16L353.00 286.16Z" fill="#f07b6a"/>
<circle cx="355.30" cy="288.00" r="1.5" fill="#f07b6a"/>
<line x1="433.40" y1="220.60" x2="433.40" y2="314.00" stroke="#aaa" stroke-width="1.3"/>
<rect x="447.30" y="220.60" width="91.50" height="92.80" stroke="#4a4a4a" stroke-width="0.85" fill="none"/>
<line x1="447.30" y1="271.80" x2="538.80" y2="271.80" stroke="#999" stroke-width="0.8"/>
<line x1="479.90" y1="220.60" x2="479.90" y2="313.40" stroke="#aaa" stroke-width="0.6"/>
<line x1="446.10" y1="226.60" x2="447.30" y2="226.60" stroke="#777" stroke-width="0.5"/>
<line x1="446.10" y1="233.10" x2="447.30" y2="233.10" stroke="#777" stroke-width="0.5"/>
<line x1="446.10" y1="239.60" x2="447.30" y2="239.60" stroke="#777" stroke-width="0.5"/>
<line x1="446.10" y1="246.10" x2="447.30" y2="246.10" stroke="#777" stroke-width="0.5"/>
<line x1="446.10" y1="252.60" x2="447.30" y2="252.60" stroke="#777" stroke-width="0.5"/>
<line x1="446.10" y1="259.10" x2="447.30" y2="259.10" stroke="#777" stroke-width="0.5"/>
<line x1="446.10" y1="265.60" x2="447.30" y2="265.60" stroke="#777" stroke-width="0.5"/>
<line x1="446.10" y1="272.10" x2="447.30" y2="272.10" stroke="#777" stroke-width="0.5"/>
<line x1="446.10" y1="278.60" x2="447.30" y2="278.60" stroke="#777" stroke-width="0.5"/>
<line x1="446.10" y1="285.10" x2="447.30" y2="285.10" stroke="#777" stroke-width="0.5"/>
<line x1="446.10" y1="291.60" x2="447.30" y2="291.60" stroke="#777" stroke-width="0.5"/>
<line x1="446.10" y1="298.10" x2="447.30" y2="298.10" stroke="#777" stroke-width="0.5"/>
<line x1="446.10" y1="304.60" x2="447.30" y2="304.60" stroke="#777" stroke-width="0.5"/>
<line x1="446.10" y1="311.10" x2="447.30" y2="311.10" stroke="#777" stroke-width="0.5"/>
<line x1="453.30" y1="313.40" x2="453.30" y2="314.60" stroke="#777" stroke-width="0.5"/>
<line x1="459.80" y1="313.40" x2="459.80" y2="314.60" stroke="#777" stroke-width="0.5"/>
<line x1="466.30" y1="313.40" x2="466.30" y2="314.60" stroke="#777" stroke-width="0.5"/>
<line x1="472.80" y1="313.40" x2="472.80" y2="314.60" stroke="#777" stroke-width="0.5"/>
<line x1="479.30" y1="313.40" x2="479.30" y2="314.60" stroke="#777" stroke-width="0.5"/>
<line x1="485.80" y1="313.40" x2="485.80" y2="314.60" stroke="#777" stroke-width="0.5"/>
<line x1="492.30" y1="313.40" x2="492.30" y2="314.60" stroke="#777" stroke-width="0.5"/>
<line x1="498.80" y1="313.40" x2="498.80" y2="314.60" stroke="#777" stroke-width="0.5"/>
<line x1="505.30" y1="313.40" x2="505.30" y2="314.60" stroke="#777" stroke-width="0.5"/>
<line x1="511.80" y1="313.40" x2="511.80" y2="314.60" stroke="#777" stroke-width="0.5"/>
<line x1="518.30" y1="313.40" x2="518.30" y2="314.60" stroke="#777" stroke-width="0.5"/>
<line x1="524.80" y1="313.40" x2="524.80" y2="314.60" stroke="#777" stroke-width="0.5"/>
<line x1="531.30" y1="313.40" x2="531.30" y2="314.60" stroke="#777" stroke-width="0.5"/>
<text x="444.90" y="229.40" font-size="6.9" text-anchor="end" fill="#222" >0.3</text>
<text x="444.90" y="274.40" font-size="6.9" text-anchor="end" fill="#222" >0</text>
<text x="444.90" y="304.10" font-size="6.9" text-anchor="end" fill="#222" >-0.2</text>
<text x="450.00" y="320.50" font-size="6.9" text-anchor="middle" fill="#222" >-0.4</text>
<text x="490.00" y="320.50" font-size="6.9" text-anchor="middle" fill="#222" >0</text>
<text x="538.00" y="320.50" font-size="6.9" text-anchor="middle" fill="#222" >0.8</text>
<text x="450.30" y="310.20" font-size="7.5" text-anchor="start" fill="#222" >Stress : 0.126</text>
<path d="M481.60 230.23L483.30 233.46L479.90 233.46Z" fill="#18b8c0"/>
<path d="M490.20 237.63L491.90 240.86L488.50 240.86Z" fill="#5a48e0"/>
<circle cx="487.00" cy="244.90" r="1.5" fill="#f07b6a"/>
<path d="M503.10 244.93L504.80 248.16L501.40 248.16Z" fill="#18b8c0"/>
<path d="M460.80 251.53L462.50 254.76L459.10 254.76Z" fill="#5a48e0"/>
<path d="M480.40 253.57L482.10 250.34L478.70 250.34Z" fill="#f07b6a"/>
<path d="M485.30 258.47L487.00 255.24L483.60 255.24Z" fill="#f07b6a"/>
<circle cx="466.40" cy="258.60" r="1.5" fill="#5a48e0"/>
<circle cx="474.30" cy="258.60" r="1.5" fill="#18b8c0"/>
<circle cx="468.90" cy="266.40" r="1.5" fill="#5a48e0"/>
<circle cx="482.10" cy="265.20" r="1.5" fill="#18b8c0"/>
<circle cx="490.90" cy="265.20" r="1.5" fill="#18b8c0"/>
<circle cx="493.80" cy="267.10" r="1.5" fill="#18b8c0"/>
<circle cx="482.10" cy="269.30" r="1.5" fill="#f07b6a"/>
<circle cx="484.00" cy="270.00" r="1.5" fill="#18b8c0"/>
<circle cx="469.00" cy="274.00" r="1.5" fill="#5a48e0"/>
<circle cx="471.00" cy="276.00" r="1.5" fill="#5a48e0"/>
<circle cx="473.00" cy="275.00" r="1.5" fill="#5a48e0"/>
<circle cx="475.00" cy="278.00" r="1.5" fill="#5a48e0"/>
<circle cx="472.00" cy="279.50" r="1.5" fill="#5a48e0"/>
<circle cx="476.70" cy="273.70" r="1.5" fill="#5a48e0"/>
<circle cx="470.50" cy="278.00" r="1.5" fill="#5a48e0"/>
<circle cx="474.00" cy="277.00" r="1.5" fill="#5a48e0"/>
<circle cx="479.20" cy="273.70" r="1.5" fill="#f07b6a"/>
<circle cx="480.40" cy="276.20" r="1.5" fill="#18b8c0"/>
<circle cx="486.50" cy="279.90" r="1.5" fill="#f07b6a"/>
<circle cx="489.00" cy="277.40" r="1.5" fill="#18b8c0"/>
<circle cx="476.70" cy="281.10" r="1.5" fill="#f07b6a"/>
<path d="M471.80 286.57L473.50 283.34L470.10 283.34Z" fill="#f07b6a"/>
<circle cx="475.50" cy="287.20" r="1.5" fill="#f07b6a"/>
<circle cx="479.20" cy="284.70" r="1.5" fill="#18b8c0"/>
<circle cx="486.50" cy="289.60" r="1.5" fill="#18b8c0"/>
<path d="M525.70 280.43L527.40 283.66L524.00 283.66Z" fill="#18b8c0"/>
<circle cx="505.60" cy="298.20" r="1.5" fill="#18b8c0"/>
<circle cx="476.20" cy="275.00" r="1.5" fill="#18b8c0"/>
<circle cx="478.00" cy="281.00" r="1.5" fill="#f07b6a"/>
<circle cx="481.00" cy="282.00" r="1.5" fill="#18b8c0"/>
<rect x="555.30" y="220.60" width="92.50" height="91.90" stroke="#4a4a4a" stroke-width="0.85" fill="none"/>
<line x1="555.30" y1="252.50" x2="647.80" y2="252.50" stroke="#999" stroke-width="0.8"/>
<line x1="612.30" y1="220.60" x2="612.30" y2="312.50" stroke="#aaa" stroke-width="0.6"/>
<line x1="554.10" y1="226.60" x2="555.30" y2="226.60" stroke="#777" stroke-width="0.5"/>
<line x1="554.10" y1="233.10" x2="555.30" y2="233.10" stroke="#777" stroke-width="0.5"/>
<line x1="554.10" y1="239.60" x2="555.30" y2="239.60" stroke="#777" stroke-width="0.5"/>
<line x1="554.10" y1="246.10" x2="555.30" y2="246.10" stroke="#777" stroke-width="0.5"/>
<line x1="554.10" y1="252.60" x2="555.30" y2="252.60" stroke="#777" stroke-width="0.5"/>
<line x1="554.10" y1="259.10" x2="555.30" y2="259.10" stroke="#777" stroke-width="0.5"/>
<line x1="554.10" y1="265.60" x2="555.30" y2="265.60" stroke="#777" stroke-width="0.5"/>
<line x1="554.10" y1="272.10" x2="555.30" y2="272.10" stroke="#777" stroke-width="0.5"/>
<line x1="554.10" y1="278.60" x2="555.30" y2="278.60" stroke="#777" stroke-width="0.5"/>
<line x1="554.10" y1="285.10" x2="555.30" y2="285.10" stroke="#777" stroke-width="0.5"/>
<line x1="554.10" y1="291.60" x2="555.30" y2="291.60" stroke="#777" stroke-width="0.5"/>
<line x1="554.10" y1="298.10" x2="555.30" y2="298.10" stroke="#777" stroke-width="0.5"/>
<line x1="554.10" y1="304.60" x2="555.30" y2="304.60" stroke="#777" stroke-width="0.5"/>
<line x1="561.30" y1="312.50" x2="561.30" y2="313.70" stroke="#777" stroke-width="0.5"/>
<line x1="567.80" y1="312.50" x2="567.80" y2="313.70" stroke="#777" stroke-width="0.5"/>
<line x1="574.30" y1="312.50" x2="574.30" y2="313.70" stroke="#777" stroke-width="0.5"/>
<line x1="580.80" y1="312.50" x2="580.80" y2="313.70" stroke="#777" stroke-width="0.5"/>
<line x1="587.30" y1="312.50" x2="587.30" y2="313.70" stroke="#777" stroke-width="0.5"/>
<line x1="593.80" y1="312.50" x2="593.80" y2="313.70" stroke="#777" stroke-width="0.5"/>
<line x1="600.30" y1="312.50" x2="600.30" y2="313.70" stroke="#777" stroke-width="0.5"/>
<line x1="606.80" y1="312.50" x2="606.80" y2="313.70" stroke="#777" stroke-width="0.5"/>
<line x1="613.30" y1="312.50" x2="613.30" y2="313.70" stroke="#777" stroke-width="0.5"/>
<line x1="619.80" y1="312.50" x2="619.80" y2="313.70" stroke="#777" stroke-width="0.5"/>
<line x1="626.30" y1="312.50" x2="626.30" y2="313.70" stroke="#777" stroke-width="0.5"/>
<line x1="632.80" y1="312.50" x2="632.80" y2="313.70" stroke="#777" stroke-width="0.5"/>
<line x1="639.30" y1="312.50" x2="639.30" y2="313.70" stroke="#777" stroke-width="0.5"/>
<text x="552.90" y="223.40" font-size="6.9" text-anchor="end" fill="#222" >0.4</text>
<text x="552.90" y="254.90" font-size="6.9" text-anchor="end" fill="#222" >0</text>
<text x="552.90" y="310.50" font-size="6.9" text-anchor="end" fill="#222" >-0.7</text>
<text x="560.80" y="321.80" font-size="6.9" text-anchor="middle" fill="#222" >-0.6</text>
<text x="600.00" y="321.80" font-size="6.9" text-anchor="middle" fill="#222" >0</text>
<text x="645.30" y="321.80" font-size="6.9" text-anchor="middle" fill="#222" >0.4</text>
<text x="558.30" y="309.30" font-size="7.5" text-anchor="start" fill="#222" >Stress : 0.198</text>
<path d="M596.80 226.63L598.50 229.86L595.10 229.86Z" fill="#5a48e0"/>
<path d="M604.20 225.33L605.90 228.56L602.50 228.56Z" fill="#5a48e0"/>
<circle cx="617.20" cy="229.20" r="1.5" fill="#f07b6a"/>
<path d="M631.10 228.33L632.80 231.56L629.40 231.56Z" fill="#f07b6a"/>
<circle cx="585.30" cy="237.00" r="1.5" fill="#f07b6a"/>
<circle cx="613.00" cy="234.10" r="1.5" fill="#5a48e0"/>
<circle cx="599.30" cy="244.90" r="1.5" fill="#f07b6a"/>
<circle cx="601.20" cy="243.90" r="1.5" fill="#f07b6a"/>
<circle cx="604.20" cy="242.00" r="1.5" fill="#f07b6a"/>
<circle cx="611.80" cy="241.50" r="1.5" fill="#5a48e0"/>
<circle cx="614.70" cy="243.90" r="1.5" fill="#5a48e0"/>
<circle cx="618.40" cy="244.90" r="1.5" fill="#5a48e0"/>
<circle cx="628.70" cy="246.40" r="1.5" fill="#5a48e0"/>
<path d="M633.10 240.53L634.80 243.76L631.40 243.76Z" fill="#5a48e0"/>
<path d="M635.50 243.73L637.20 246.96L633.80 246.96Z" fill="#f07b6a"/>
<path d="M594.40 248.63L596.10 251.86L592.70 251.86Z" fill="#18b8c0"/>
<path d="M602.50 248.63L604.20 251.86L600.80 251.86Z" fill="#18b8c0"/>
<circle cx="609.80" cy="250.50" r="1.5" fill="#f07b6a"/>
<circle cx="617.20" cy="248.80" r="1.5" fill="#5a48e0"/>
<circle cx="621.30" cy="251.30" r="1.5" fill="#5a48e0"/>
<circle cx="584.80" cy="253.70" r="1.5" fill="#18b8c0"/>
<circle cx="612.30" cy="253.70" r="1.5" fill="#18b8c0"/>
<circle cx="616.40" cy="253.00" r="1.5" fill="#5a48e0"/>
<circle cx="625.70" cy="254.20" r="1.5" fill="#f07b6a"/>
<circle cx="619.60" cy="253.70" r="1.5" fill="#18b8c0"/>
<circle cx="592.70" cy="257.90" r="1.5" fill="#18b8c0"/>
<circle cx="600.80" cy="257.90" r="1.5" fill="#18b8c0"/>
<circle cx="606.60" cy="256.60" r="1.5" fill="#18b8c0"/>
<circle cx="609.80" cy="259.10" r="1.5" fill="#18b8c0"/>
<circle cx="613.50" cy="260.30" r="1.5" fill="#18b8c0"/>
<path d="M588.50 258.43L590.20 261.66L586.80 261.66Z" fill="#f07b6a"/>
<circle cx="621.30" cy="259.60" r="1.5" fill="#f07b6a"/>
<circle cx="624.50" cy="259.60" r="1.5" fill="#f07b6a"/>
<path d="M627.00 255.23L628.70 258.46L625.30 258.46Z" fill="#5a48e0"/>
<circle cx="631.90" cy="257.10" r="1.5" fill="#5a48e0"/>
<circle cx="632.60" cy="259.60" r="1.5" fill="#5a48e0"/>
<circle cx="566.90" cy="264.00" r="1.5" fill="#18b8c0"/>
<circle cx="618.90" cy="265.20" r="1.5" fill="#18b8c0"/>
<circle cx="632.60" cy="268.90" r="1.5" fill="#18b8c0"/>
<circle cx="638.00" cy="268.90" r="1.5" fill="#f07b6a"/>
<path d="M595.90 275.63L597.60 278.86L594.20 278.86Z" fill="#18b8c0"/>
<circle cx="604.20" cy="297.10" r="1.5" fill="#18b8c0"/>
<rect x="664.20" y="221.00" width="91.80" height="93.00" stroke="#4a4a4a" stroke-width="0.85" fill="none"/>
<line x1="664.20" y1="255.40" x2="756.00" y2="255.40" stroke="#999" stroke-width="0.8"/>
<line x1="701.40" y1="221.00" x2="701.40" y2="314.00" stroke="#aaa" stroke-width="0.6"/>
<line x1="663.00" y1="227.00" x2="664.20" y2="227.00" stroke="#777" stroke-width="0.5"/>
<line x1="663.00" y1="233.50" x2="664.20" y2="233.50" stroke="#777" stroke-width="0.5"/>
<line x1="663.00" y1="240.00" x2="664.20" y2="240.00" stroke="#777" stroke-width="0.5"/>
<line x1="663.00" y1="246.50" x2="664.20" y2="246.50" stroke="#777" stroke-width="0.5"/>
<line x1="663.00" y1="253.00" x2="664.20" y2="253.00" stroke="#777" stroke-width="0.5"/>
<line x1="663.00" y1="259.50" x2="664.20" y2="259.50" stroke="#777" stroke-width="0.5"/>
<line x1="663.00" y1="266.00" x2="664.20" y2="266.00" stroke="#777" stroke-width="0.5"/>
<line x1="663.00" y1="272.50" x2="664.20" y2="272.50" stroke="#777" stroke-width="0.5"/>
<line x1="663.00" y1="279.00" x2="664.20" y2="279.00" stroke="#777" stroke-width="0.5"/>
<line x1="663.00" y1="285.50" x2="664.20" y2="285.50" stroke="#777" stroke-width="0.5"/>
<line x1="663.00" y1="292.00" x2="664.20" y2="292.00" stroke="#777" stroke-width="0.5"/>
<line x1="663.00" y1="298.50" x2="664.20" y2="298.50" stroke="#777" stroke-width="0.5"/>
<line x1="663.00" y1="305.00" x2="664.20" y2="305.00" stroke="#777" stroke-width="0.5"/>
<line x1="663.00" y1="311.50" x2="664.20" y2="311.50" stroke="#777" stroke-width="0.5"/>
<line x1="670.20" y1="314.00" x2="670.20" y2="315.20" stroke="#777" stroke-width="0.5"/>
<line x1="676.70" y1="314.00" x2="676.70" y2="315.20" stroke="#777" stroke-width="0.5"/>
<line x1="683.20" y1="314.00" x2="683.20" y2="315.20" stroke="#777" stroke-width="0.5"/>
<line x1="689.70" y1="314.00" x2="689.70" y2="315.20" stroke="#777" stroke-width="0.5"/>
<line x1="696.20" y1="314.00" x2="696.20" y2="315.20" stroke="#777" stroke-width="0.5"/>
<line x1="702.70" y1="314.00" x2="702.70" y2="315.20" stroke="#777" stroke-width="0.5"/>
<line x1="709.20" y1="314.00" x2="709.20" y2="315.20" stroke="#777" stroke-width="0.5"/>
<line x1="715.70" y1="314.00" x2="715.70" y2="315.20" stroke="#777" stroke-width="0.5"/>
<line x1="722.20" y1="314.00" x2="722.20" y2="315.20" stroke="#777" stroke-width="0.5"/>
<line x1="728.70" y1="314.00" x2="728.70" y2="315.20" stroke="#777" stroke-width="0.5"/>
<line x1="735.20" y1="314.00" x2="735.20" y2="315.20" stroke="#777" stroke-width="0.5"/>
<line x1="741.70" y1="314.00" x2="741.70" y2="315.20" stroke="#777" stroke-width="0.5"/>
<line x1="748.20" y1="314.00" x2="748.20" y2="315.20" stroke="#777" stroke-width="0.5"/>
<text x="661.80" y="223.60" font-size="6.9" text-anchor="end" fill="#222" >0.4</text>
<text x="661.80" y="257.80" font-size="6.9" text-anchor="end" fill="#222" >0</text>
<text x="661.80" y="310.80" font-size="6.9" text-anchor="end" fill="#222" >-0.6</text>
<text x="670.30" y="321.80" font-size="6.9" text-anchor="middle" fill="#222" >-0.5</text>
<text x="701.40" y="321.80" font-size="6.9" text-anchor="middle" fill="#222" >0</text>
<text x="754.40" y="321.80" font-size="6.9" text-anchor="middle" fill="#222" >0.8</text>
<text x="667.20" y="310.80" font-size="7.5" text-anchor="start" fill="#222" >Stress : 0.100</text>
<circle cx="681.20" cy="229.00" r="1.5" fill="#f07b6a"/>
<circle cx="684.30" cy="228.00" r="1.5" fill="#f07b6a"/>
<circle cx="686.80" cy="229.90" r="1.5" fill="#f07b6a"/>
<circle cx="679.60" cy="235.20" r="1.5" fill="#f07b6a"/>
<circle cx="682.70" cy="238.30" r="1.5" fill="#f07b6a"/>
<circle cx="685.80" cy="239.90" r="1.5" fill="#f07b6a"/>
<circle cx="681.20" cy="241.40" r="1.5" fill="#f07b6a"/>
<circle cx="684.30" cy="243.60" r="1.5" fill="#f07b6a"/>
<circle cx="687.40" cy="246.10" r="1.5" fill="#f07b6a"/>
<circle cx="682.70" cy="248.60" r="1.5" fill="#f07b6a"/>
<circle cx="684.90" cy="249.20" r="1.5" fill="#f07b6a"/>
<circle cx="678.00" cy="260.10" r="1.5" fill="#f07b6a"/>
<circle cx="686.80" cy="254.80" r="1.5" fill="#18b8c0"/>
<circle cx="692.10" cy="254.80" r="1.5" fill="#18b8c0"/>
<circle cx="689.00" cy="258.60" r="1.5" fill="#18b8c0"/>
<circle cx="677.40" cy="266.30" r="1.5" fill="#18b8c0"/>
<circle cx="687.40" cy="264.80" r="1.5" fill="#18b8c0"/>
<path d="M685.80 269.73L687.50 272.96L684.10 272.96Z" fill="#18b8c0"/>
<circle cx="689.00" cy="287.20" r="1.5" fill="#18b8c0"/>
<circle cx="691.10" cy="289.10" r="1.5" fill="#18b8c0"/>
<circle cx="686.80" cy="289.70" r="1.5" fill="#18b8c0"/>
<circle cx="693.60" cy="295.30" r="1.5" fill="#18b8c0"/>
<circle cx="690.00" cy="286.00" r="1.5" fill="#18b8c0"/>
<circle cx="734.10" cy="244.50" r="1.5" fill="#5a48e0"/>
<circle cx="733.50" cy="248.60" r="1.5" fill="#5a48e0"/>
<circle cx="726.30" cy="253.90" r="1.5" fill="#5a48e0"/>
<circle cx="730.40" cy="255.40" r="1.5" fill="#5a48e0"/>
<circle cx="735.70" cy="254.80" r="1.5" fill="#5a48e0"/>
<circle cx="740.40" cy="252.30" r="1.5" fill="#5a48e0"/>
<circle cx="744.10" cy="251.70" r="1.5" fill="#5a48e0"/>
<path d="M727.30 257.33L729.00 260.56L725.60 260.56Z" fill="#5a48e0"/>
<path d="M731.60 257.33L733.30 260.56L729.90 260.56Z" fill="#5a48e0"/>
<path d="M737.30 257.33L739.00 260.56L735.60 260.56Z" fill="#5a48e0"/>
<circle cx="734.10" cy="257.00" r="1.5" fill="#5a48e0"/>
<line x1="337.40" y1="333.70" x2="429.80" y2="333.70" stroke="#999" stroke-width="0.8"/>
<line x1="337.40" y1="426.50" x2="429.80" y2="426.50" stroke="#4a4a4a" stroke-width="0.85"/>
<line x1="337.40" y1="333.70" x2="337.40" y2="426.50" stroke="#4a4a4a" stroke-width="0.85"/>
<line x1="337.40" y1="377.50" x2="429.80" y2="377.50" stroke="#999" stroke-width="0.8"/>
<line x1="378.00" y1="333.70" x2="378.00" y2="426.50" stroke="#aaa" stroke-width="0.6"/>
<line x1="336.20" y1="339.70" x2="337.40" y2="339.70" stroke="#777" stroke-width="0.5"/>
<line x1="336.20" y1="346.20" x2="337.40" y2="346.20" stroke="#777" stroke-width="0.5"/>
<line x1="336.20" y1="352.70" x2="337.40" y2="352.70" stroke="#777" stroke-width="0.5"/>
<line x1="336.20" y1="359.20" x2="337.40" y2="359.20" stroke="#777" stroke-width="0.5"/>
<line x1="336.20" y1="365.70" x2="337.40" y2="365.70" stroke="#777" stroke-width="0.5"/>
<line x1="336.20" y1="372.20" x2="337.40" y2="372.20" stroke="#777" stroke-width="0.5"/>
<line x1="336.20" y1="378.70" x2="337.40" y2="378.70" stroke="#777" stroke-width="0.5"/>
<line x1="336.20" y1="385.20" x2="337.40" y2="385.20" stroke="#777" stroke-width="0.5"/>
<line x1="336.20" y1="391.70" x2="337.40" y2="391.70" stroke="#777" stroke-width="0.5"/>
<line x1="336.20" y1="398.20" x2="337.40" y2="398.20" stroke="#777" stroke-width="0.5"/>
<line x1="336.20" y1="404.70" x2="337.40" y2="404.70" stroke="#777" stroke-width="0.5"/>
<line x1="336.20" y1="411.20" x2="337.40" y2="411.20" stroke="#777" stroke-width="0.5"/>
<line x1="336.20" y1="417.70" x2="337.40" y2="417.70" stroke="#777" stroke-width="0.5"/>
<line x1="336.20" y1="424.20" x2="337.40" y2="424.20" stroke="#777" stroke-width="0.5"/>
<line x1="343.40" y1="426.50" x2="343.40" y2="427.70" stroke="#777" stroke-width="0.5"/>
<line x1="349.90" y1="426.50" x2="349.90" y2="427.70" stroke="#777" stroke-width="0.5"/>
<line x1="356.40" y1="426.50" x2="356.40" y2="427.70" stroke="#777" stroke-width="0.5"/>
<line x1="362.90" y1="426.50" x2="362.90" y2="427.70" stroke="#777" stroke-width="0.5"/>
<line x1="369.40" y1="426.50" x2="369.40" y2="427.70" stroke="#777" stroke-width="0.5"/>
<line x1="375.90" y1="426.50" x2="375.90" y2="427.70" stroke="#777" stroke-width="0.5"/>
<line x1="382.40" y1="426.50" x2="382.40" y2="427.70" stroke="#777" stroke-width="0.5"/>
<line x1="388.90" y1="426.50" x2="388.90" y2="427.70" stroke="#777" stroke-width="0.5"/>
<line x1="395.40" y1="426.50" x2="395.40" y2="427.70" stroke="#777" stroke-width="0.5"/>
<line x1="401.90" y1="426.50" x2="401.90" y2="427.70" stroke="#777" stroke-width="0.5"/>
<line x1="408.40" y1="426.50" x2="408.40" y2="427.70" stroke="#777" stroke-width="0.5"/>
<line x1="414.90" y1="426.50" x2="414.90" y2="427.70" stroke="#777" stroke-width="0.5"/>
<line x1="421.40" y1="426.50" x2="421.40" y2="427.70" stroke="#777" stroke-width="0.5"/>
<text x="335.00" y="336.40" font-size="6.9" text-anchor="end" fill="#222" >0.5</text>
<text x="335.00" y="379.90" font-size="6.9" text-anchor="end" fill="#222" >0</text>
<text x="335.00" y="424.40" font-size="6.9" text-anchor="end" fill="#222" >-0.5</text>
<text x="340.50" y="435.50" font-size="6.9" text-anchor="middle" fill="#222" >-0.5</text>
<text x="378.00" y="435.50" font-size="6.9" text-anchor="middle" fill="#222" >0</text>
<text x="425.50" y="435.50" font-size="6.9" text-anchor="middle" fill="#222" >0.7</text>
<text x="340.40" y="422.30" font-size="7.5" text-anchor="start" fill="#222" >Stress : 0.039</text>
<circle cx="350.00" cy="351.25" r="1.5" fill="#18b8c0"/>
<circle cx="353.00" cy="348.75" r="1.5" fill="#18b8c0"/>
<circle cx="356.00" cy="347.50" r="1.5" fill="#18b8c0"/>
<circle cx="358.00" cy="345.50" r="1.5" fill="#18b8c0"/>
<circle cx="359.00" cy="343.75" r="1.5" fill="#18b8c0"/>
<path d="M356.25 352.63L357.95 355.86L354.55 355.86Z" fill="#18b8c0"/>
<circle cx="413.00" cy="374.00" r="1.5" fill="#5a48e0"/>
<circle cx="415.00" cy="376.00" r="1.5" fill="#5a48e0"/>
<path d="M417.00 373.13L418.70 376.36L415.30 376.36Z" fill="#5a48e0"/>
<circle cx="419.00" cy="374.50" r="1.5" fill="#5a48e0"/>
<path d="M421.00 374.13L422.70 377.36L419.30 377.36Z" fill="#5a48e0"/>
<circle cx="416.00" cy="378.50" r="1.5" fill="#5a48e0"/>
<circle cx="418.00" cy="379.50" r="1.5" fill="#5a48e0"/>
<circle cx="420.00" cy="377.50" r="1.5" fill="#5a48e0"/>
<circle cx="358.75" cy="401.25" r="1.5" fill="#f07b6a"/>
<circle cx="358.75" cy="403.75" r="1.5" fill="#f07b6a"/>
<path d="M358.75 405.13L360.45 408.36L357.05 408.36Z" fill="#f07b6a"/>
<path d="M362.00 414.37L363.70 411.14L360.30 411.14Z" fill="#f07b6a"/>
<line x1="433.40" y1="333.70" x2="433.40" y2="428.00" stroke="#aaa" stroke-width="1.3"/>
<rect x="448.00" y="334.00" width="92.00" height="92.50" stroke="#4a4a4a" stroke-width="0.85" fill="none"/>
<line x1="448.00" y1="377.50" x2="540.00" y2="377.50" stroke="#999" stroke-width="0.8"/>
<line x1="488.00" y1="334.00" x2="488.00" y2="426.50" stroke="#aaa" stroke-width="0.6"/>
<line x1="446.80" y1="340.00" x2="448.00" y2="340.00" stroke="#777" stroke-width="0.5"/>
<line x1="446.80" y1="346.50" x2="448.00" y2="346.50" stroke="#777" stroke-width="0.5"/>
<line x1="446.80" y1="353.00" x2="448.00" y2="353.00" stroke="#777" stroke-width="0.5"/>
<line x1="446.80" y1="359.50" x2="448.00" y2="359.50" stroke="#777" stroke-width="0.5"/>
<line x1="446.80" y1="366.00" x2="448.00" y2="366.00" stroke="#777" stroke-width="0.5"/>
<line x1="446.80" y1="372.50" x2="448.00" y2="372.50" stroke="#777" stroke-width="0.5"/>
<line x1="446.80" y1="379.00" x2="448.00" y2="379.00" stroke="#777" stroke-width="0.5"/>
<line x1="446.80" y1="385.50" x2="448.00" y2="385.50" stroke="#777" stroke-width="0.5"/>
<line x1="446.80" y1="392.00" x2="448.00" y2="392.00" stroke="#777" stroke-width="0.5"/>
<line x1="446.80" y1="398.50" x2="448.00" y2="398.50" stroke="#777" stroke-width="0.5"/>
<line x1="446.80" y1="405.00" x2="448.00" y2="405.00" stroke="#777" stroke-width="0.5"/>
<line x1="446.80" y1="411.50" x2="448.00" y2="411.50" stroke="#777" stroke-width="0.5"/>
<line x1="446.80" y1="418.00" x2="448.00" y2="418.00" stroke="#777" stroke-width="0.5"/>
<line x1="454.00" y1="426.50" x2="454.00" y2="427.70" stroke="#777" stroke-width="0.5"/>
<line x1="460.50" y1="426.50" x2="460.50" y2="427.70" stroke="#777" stroke-width="0.5"/>
<line x1="467.00" y1="426.50" x2="467.00" y2="427.70" stroke="#777" stroke-width="0.5"/>
<line x1="473.50" y1="426.50" x2="473.50" y2="427.70" stroke="#777" stroke-width="0.5"/>
<line x1="480.00" y1="426.50" x2="480.00" y2="427.70" stroke="#777" stroke-width="0.5"/>
<line x1="486.50" y1="426.50" x2="486.50" y2="427.70" stroke="#777" stroke-width="0.5"/>
<line x1="493.00" y1="426.50" x2="493.00" y2="427.70" stroke="#777" stroke-width="0.5"/>
<line x1="499.50" y1="426.50" x2="499.50" y2="427.70" stroke="#777" stroke-width="0.5"/>
<line x1="506.00" y1="426.50" x2="506.00" y2="427.70" stroke="#777" stroke-width="0.5"/>
<line x1="512.50" y1="426.50" x2="512.50" y2="427.70" stroke="#777" stroke-width="0.5"/>
<line x1="519.00" y1="426.50" x2="519.00" y2="427.70" stroke="#777" stroke-width="0.5"/>
<line x1="525.50" y1="426.50" x2="525.50" y2="427.70" stroke="#777" stroke-width="0.5"/>
<line x1="532.00" y1="426.50" x2="532.00" y2="427.70" stroke="#777" stroke-width="0.5"/>
<text x="445.60" y="336.40" font-size="6.9" text-anchor="end" fill="#222" >0.5</text>
<text x="445.60" y="379.90" font-size="6.9" text-anchor="end" fill="#222" >0</text>
<text x="445.60" y="424.70" font-size="6.9" text-anchor="end" fill="#222" >-0.5</text>
<text x="451.60" y="435.50" font-size="6.9" text-anchor="middle" fill="#222" >-0.5</text>
<text x="488.60" y="435.50" font-size="6.9" text-anchor="middle" fill="#222" >0</text>
<text x="540.60" y="435.50" font-size="6.9" text-anchor="middle" fill="#222" >0.7</text>
<text x="451.00" y="422.30" font-size="7.5" text-anchor="start" fill="#222" >Stress : 0.185</text>
<circle cx="486.70" cy="348.50" r="1.5" fill="#18b8c0"/>
<circle cx="490.80" cy="350.40" r="1.5" fill="#18b8c0"/>
<path d="M508.80 345.83L510.50 349.06L507.10 349.06Z" fill="#18b8c0"/>
<path d="M503.30 351.33L505.00 354.56L501.60 354.56Z" fill="#18b8c0"/>
<circle cx="474.20" cy="359.60" r="1.5" fill="#18b8c0"/>
<circle cx="483.90" cy="358.70" r="1.5" fill="#18b8c0"/>
<path d="M498.60 357.73L500.30 360.96L496.90 360.96Z" fill="#18b8c0"/>
<circle cx="498.60" cy="365.90" r="1.5" fill="#f07b6a"/>
<circle cx="487.50" cy="367.90" r="1.5" fill="#f07b6a"/>
<circle cx="475.60" cy="369.20" r="1.5" fill="#18b8c0"/>
<path d="M506.00 367.93L507.70 371.16L504.30 371.16Z" fill="#18b8c0"/>
<circle cx="517.10" cy="370.60" r="1.5" fill="#18b8c0"/>
<circle cx="474.80" cy="372.00" r="1.5" fill="#f07b6a"/>
<circle cx="479.80" cy="372.00" r="1.5" fill="#5a48e0"/>
<circle cx="488.60" cy="375.30" r="1.5" fill="#f07b6a"/>
<circle cx="492.20" cy="376.10" r="1.5" fill="#f07b6a"/>
<circle cx="477.00" cy="376.10" r="1.5" fill="#f07b6a"/>
<path d="M496.90 374.23L498.60 377.46L495.20 377.46Z" fill="#5a48e0"/>
<circle cx="477.60" cy="378.10" r="1.5" fill="#5a48e0"/>
<circle cx="495.80" cy="378.90" r="1.5" fill="#5a48e0"/>
<circle cx="479.80" cy="379.70" r="1.5" fill="#f07b6a"/>
<circle cx="489.40" cy="380.80" r="1.5" fill="#5a48e0"/>
<circle cx="491.40" cy="382.50" r="1.5" fill="#5a48e0"/>
<circle cx="482.50" cy="383.00" r="1.5" fill="#5a48e0"/>
<circle cx="479.80" cy="384.40" r="1.5" fill="#18b8c0"/>
<path d="M499.70 381.73L501.40 384.96L498.00 384.96Z" fill="#5a48e0"/>
<path d="M459.90 388.13L461.60 391.36L458.20 391.36Z" fill="#f07b6a"/>
<path d="M465.40 388.13L467.10 391.36L463.70 391.36Z" fill="#f07b6a"/>
<circle cx="472.00" cy="387.20" r="1.5" fill="#f07b6a"/>
<circle cx="474.80" cy="388.00" r="1.5" fill="#f07b6a"/>
<circle cx="477.00" cy="389.10" r="1.5" fill="#18b8c0"/>
<circle cx="483.90" cy="387.20" r="1.5" fill="#5a48e0"/>
<circle cx="483.90" cy="392.70" r="1.5" fill="#18b8c0"/>
<circle cx="500.50" cy="390.80" r="1.5" fill="#5a48e0"/>
<circle cx="493.60" cy="394.70" r="1.5" fill="#5a48e0"/>
<path d="M500.50 394.43L502.20 397.66L498.80 397.66Z" fill="#5a48e0"/>
<circle cx="484.70" cy="400.20" r="1.5" fill="#18b8c0"/>
<circle cx="473.70" cy="403.80" r="1.5" fill="#18b8c0"/>
<circle cx="529.50" cy="403.00" r="1.5" fill="#18b8c0"/>
<path d="M522.60 405.53L524.30 408.76L520.90 408.76Z" fill="#5a48e0"/>
<rect x="556.00" y="334.70" width="90.40" height="91.30" stroke="#4a4a4a" stroke-width="0.85" fill="none"/>
<line x1="556.00" y1="368.70" x2="646.40" y2="368.70" stroke="#999" stroke-width="0.8"/>
<line x1="582.90" y1="334.70" x2="582.90" y2="426.00" stroke="#aaa" stroke-width="0.6"/>
<line x1="554.80" y1="340.70" x2="556.00" y2="340.70" stroke="#777" stroke-width="0.5"/>
<line x1="554.80" y1="347.20" x2="556.00" y2="347.20" stroke="#777" stroke-width="0.5"/>
<line x1="554.80" y1="353.70" x2="556.00" y2="353.70" stroke="#777" stroke-width="0.5"/>
<line x1="554.80" y1="360.20" x2="556.00" y2="360.20" stroke="#777" stroke-width="0.5"/>
<line x1="554.80" y1="366.70" x2="556.00" y2="366.70" stroke="#777" stroke-width="0.5"/>
<line x1="554.80" y1="373.20" x2="556.00" y2="373.20" stroke="#777" stroke-width="0.5"/>
<line x1="554.80" y1="379.70" x2="556.00" y2="379.70" stroke="#777" stroke-width="0.5"/>
<line x1="554.80" y1="386.20" x2="556.00" y2="386.20" stroke="#777" stroke-width="0.5"/>
<line x1="554.80" y1="392.70" x2="556.00" y2="392.70" stroke="#777" stroke-width="0.5"/>
<line x1="554.80" y1="399.20" x2="556.00" y2="399.20" stroke="#777" stroke-width="0.5"/>
<line x1="554.80" y1="405.70" x2="556.00" y2="405.70" stroke="#777" stroke-width="0.5"/>
<line x1="554.80" y1="412.20" x2="556.00" y2="412.20" stroke="#777" stroke-width="0.5"/>
<line x1="554.80" y1="418.70" x2="556.00" y2="418.70" stroke="#777" stroke-width="0.5"/>
<line x1="562.00" y1="426.00" x2="562.00" y2="427.20" stroke="#777" stroke-width="0.5"/>
<line x1="568.50" y1="426.00" x2="568.50" y2="427.20" stroke="#777" stroke-width="0.5"/>
<line x1="575.00" y1="426.00" x2="575.00" y2="427.20" stroke="#777" stroke-width="0.5"/>
<line x1="581.50" y1="426.00" x2="581.50" y2="427.20" stroke="#777" stroke-width="0.5"/>
<line x1="588.00" y1="426.00" x2="588.00" y2="427.20" stroke="#777" stroke-width="0.5"/>
<line x1="594.50" y1="426.00" x2="594.50" y2="427.20" stroke="#777" stroke-width="0.5"/>
<line x1="601.00" y1="426.00" x2="601.00" y2="427.20" stroke="#777" stroke-width="0.5"/>
<line x1="607.50" y1="426.00" x2="607.50" y2="427.20" stroke="#777" stroke-width="0.5"/>
<line x1="614.00" y1="426.00" x2="614.00" y2="427.20" stroke="#777" stroke-width="0.5"/>
<line x1="620.50" y1="426.00" x2="620.50" y2="427.20" stroke="#777" stroke-width="0.5"/>
<line x1="627.00" y1="426.00" x2="627.00" y2="427.20" stroke="#777" stroke-width="0.5"/>
<line x1="633.50" y1="426.00" x2="633.50" y2="427.20" stroke="#777" stroke-width="0.5"/>
<line x1="640.00" y1="426.00" x2="640.00" y2="427.20" stroke="#777" stroke-width="0.5"/>
<text x="553.60" y="337.10" font-size="6.9" text-anchor="end" fill="#222" >0.4</text>
<text x="553.60" y="371.10" font-size="6.9" text-anchor="end" fill="#222" >0</text>
<text x="553.60" y="424.20" font-size="6.9" text-anchor="end" fill="#222" >-0.6</text>
<text x="560.70" y="435.50" font-size="6.9" text-anchor="middle" fill="#222" >-0.3</text>
<text x="582.90" y="435.50" font-size="6.9" text-anchor="middle" fill="#222" >0</text>
<text x="645.00" y="435.50" font-size="6.9" text-anchor="middle" fill="#222" >0.8</text>
<text x="559.00" y="421.80" font-size="7.5" text-anchor="start" fill="#222" >Stress : 0.173</text>
<circle cx="578.20" cy="348.50" r="1.5" fill="#5a48e0"/>
<circle cx="581.50" cy="352.60" r="1.5" fill="#5a48e0"/>
<path d="M582.90 354.13L584.60 357.36L581.20 357.36Z" fill="#5a48e0"/>
<circle cx="589.20" cy="356.00" r="1.5" fill="#5a48e0"/>
<circle cx="589.80" cy="358.70" r="1.5" fill="#5a48e0"/>
<circle cx="603.00" cy="350.40" r="1.5" fill="#5a48e0"/>
<path d="M605.80 356.33L607.50 359.56L604.10 359.56Z" fill="#5a48e0"/>
<path d="M636.80 351.33L638.50 354.56L635.10 354.56Z" fill="#5a48e0"/>
<circle cx="571.80" cy="358.20" r="1.5" fill="#f07b6a"/>
<circle cx="580.90" cy="359.60" r="1.5" fill="#5a48e0"/>
<circle cx="587.60" cy="362.30" r="1.5" fill="#18b8c0"/>
<circle cx="579.30" cy="363.20" r="1.5" fill="#5a48e0"/>
<circle cx="572.60" cy="365.90" r="1.5" fill="#f07b6a"/>
<circle cx="581.50" cy="365.90" r="1.5" fill="#f07b6a"/>
<circle cx="584.80" cy="365.10" r="1.5" fill="#18b8c0"/>
<circle cx="571.00" cy="368.70" r="1.5" fill="#f07b6a"/>
<circle cx="575.40" cy="368.70" r="1.5" fill="#f07b6a"/>
<path d="M569.00 366.03L570.70 369.26L567.30 369.26Z" fill="#18b8c0"/>
<circle cx="590.30" cy="367.90" r="1.5" fill="#18b8c0"/>
<circle cx="578.20" cy="370.60" r="1.5" fill="#f07b6a"/>
<circle cx="581.50" cy="369.20" r="1.5" fill="#18b8c0"/>
<circle cx="583.70" cy="369.80" r="1.5" fill="#18b8c0"/>
<circle cx="574.60" cy="373.40" r="1.5" fill="#f07b6a"/>
<circle cx="580.10" cy="374.20" r="1.5" fill="#18b8c0"/>
<path d="M570.40 373.43L572.10 376.66L568.70 376.66Z" fill="#18b8c0"/>
<circle cx="578.70" cy="376.10" r="1.5" fill="#18b8c0"/>
<circle cx="582.90" cy="377.00" r="1.5" fill="#f07b6a"/>
<path d="M590.30 373.43L592.00 376.66L588.60 376.66Z" fill="#18b8c0"/>
<circle cx="573.20" cy="378.10" r="1.5" fill="#f07b6a"/>
<circle cx="576.50" cy="381.70" r="1.5" fill="#f07b6a"/>
<path d="M589.20 377.83L590.90 381.06L587.50 381.06Z" fill="#18b8c0"/>
<circle cx="580.90" cy="389.10" r="1.5" fill="#18b8c0"/>
<circle cx="582.90" cy="399.10" r="1.5" fill="#18b8c0"/>
<circle cx="574.60" cy="408.50" r="1.5" fill="#5a48e0"/>
<path d="M625.20 409.43L626.90 412.66L623.50 412.66Z" fill="#18b8c0"/>
<rect x="664.40" y="334.70" width="91.40" height="91.30" stroke="#4a4a4a" stroke-width="0.85" fill="none"/>
<line x1="664.40" y1="381.70" x2="755.80" y2="381.70" stroke="#999" stroke-width="0.8"/>
<line x1="711.90" y1="334.70" x2="711.90" y2="426.00" stroke="#aaa" stroke-width="0.6"/>
<line x1="663.20" y1="340.70" x2="664.40" y2="340.70" stroke="#777" stroke-width="0.5"/>
<line x1="663.20" y1="347.20" x2="664.40" y2="347.20" stroke="#777" stroke-width="0.5"/>
<line x1="663.20" y1="353.70" x2="664.40" y2="353.70" stroke="#777" stroke-width="0.5"/>
<line x1="663.20" y1="360.20" x2="664.40" y2="360.20" stroke="#777" stroke-width="0.5"/>
<line x1="663.20" y1="366.70" x2="664.40" y2="366.70" stroke="#777" stroke-width="0.5"/>
<line x1="663.20" y1="373.20" x2="664.40" y2="373.20" stroke="#777" stroke-width="0.5"/>
<line x1="663.20" y1="379.70" x2="664.40" y2="379.70" stroke="#777" stroke-width="0.5"/>
<line x1="663.20" y1="386.20" x2="664.40" y2="386.20" stroke="#777" stroke-width="0.5"/>
<line x1="663.20" y1="392.70" x2="664.40" y2="392.70" stroke="#777" stroke-width="0.5"/>
<line x1="663.20" y1="399.20" x2="664.40" y2="399.20" stroke="#777" stroke-width="0.5"/>
<line x1="663.20" y1="405.70" x2="664.40" y2="405.70" stroke="#777" stroke-width="0.5"/>
<line x1="663.20" y1="412.20" x2="664.40" y2="412.20" stroke="#777" stroke-width="0.5"/>
<line x1="663.20" y1="418.70" x2="664.40" y2="418.70" stroke="#777" stroke-width="0.5"/>
<line x1="670.40" y1="426.00" x2="670.40" y2="427.20" stroke="#777" stroke-width="0.5"/>
<line x1="676.90" y1="426.00" x2="676.90" y2="427.20" stroke="#777" stroke-width="0.5"/>
<line x1="683.40" y1="426.00" x2="683.40" y2="427.20" stroke="#777" stroke-width="0.5"/>
<line x1="689.90" y1="426.00" x2="689.90" y2="427.20" stroke="#777" stroke-width="0.5"/>
<line x1="696.40" y1="426.00" x2="696.40" y2="427.20" stroke="#777" stroke-width="0.5"/>
<line x1="702.90" y1="426.00" x2="702.90" y2="427.20" stroke="#777" stroke-width="0.5"/>
<line x1="709.40" y1="426.00" x2="709.40" y2="427.20" stroke="#777" stroke-width="0.5"/>
<line x1="715.90" y1="426.00" x2="715.90" y2="427.20" stroke="#777" stroke-width="0.5"/>
<line x1="722.40" y1="426.00" x2="722.40" y2="427.20" stroke="#777" stroke-width="0.5"/>
<line x1="728.90" y1="426.00" x2="728.90" y2="427.20" stroke="#777" stroke-width="0.5"/>
<line x1="735.40" y1="426.00" x2="735.40" y2="427.20" stroke="#777" stroke-width="0.5"/>
<line x1="741.90" y1="426.00" x2="741.90" y2="427.20" stroke="#777" stroke-width="0.5"/>
<line x1="748.40" y1="426.00" x2="748.40" y2="427.20" stroke="#777" stroke-width="0.5"/>
<text x="662.00" y="337.10" font-size="6.9" text-anchor="end" fill="#222" >0.6</text>
<text x="662.00" y="370.30" font-size="6.9" text-anchor="end" fill="#222" >0</text>
<text x="662.00" y="424.20" font-size="6.9" text-anchor="end" fill="#222" >-0.5</text>
<text x="669.30" y="435.50" font-size="6.9" text-anchor="middle" fill="#222" >-0.6</text>
<text x="711.90" y="435.50" font-size="6.9" text-anchor="middle" fill="#222" >0</text>
<text x="754.20" y="435.50" font-size="6.9" text-anchor="middle" fill="#222" >0.6</text>
<text x="667.40" y="421.80" font-size="7.5" text-anchor="start" fill="#222" >Stress : 0.247</text>
<circle cx="722.40" cy="347.10" r="1.5" fill="#5a48e0"/>
<path d="M704.40 350.73L706.10 353.96L702.70 353.96Z" fill="#18b8c0"/>
<path d="M693.40 354.93L695.10 358.16L691.70 358.16Z" fill="#f07b6a"/>
<circle cx="706.40" cy="360.40" r="1.5" fill="#5a48e0"/>
<path d="M711.90 359.13L713.60 362.36L710.20 362.36Z" fill="#18b8c0"/>
<circle cx="727.90" cy="362.30" r="1.5" fill="#5a48e0"/>
<path d="M732.10 361.83L733.80 365.06L730.40 365.06Z" fill="#5a48e0"/>
<circle cx="712.70" cy="365.90" r="1.5" fill="#18b8c0"/>
<circle cx="679.60" cy="369.20" r="1.5" fill="#f07b6a"/>
<circle cx="687.90" cy="368.70" r="1.5" fill="#f07b6a"/>
<circle cx="702.50" cy="369.20" r="1.5" fill="#18b8c0"/>
<circle cx="712.70" cy="371.40" r="1.5" fill="#18b8c0"/>
<circle cx="713.60" cy="374.20" r="1.5" fill="#18b8c0"/>
<circle cx="692.00" cy="375.30" r="1.5" fill="#f07b6a"/>
<circle cx="725.70" cy="375.30" r="1.5" fill="#5a48e0"/>
<circle cx="735.70" cy="375.30" r="1.5" fill="#5a48e0"/>
<circle cx="707.20" cy="377.50" r="1.5" fill="#5a48e0"/>
<circle cx="710.80" cy="377.50" r="1.5" fill="#18b8c0"/>
<circle cx="729.30" cy="377.50" r="1.5" fill="#5a48e0"/>
<path d="M722.40 377.83L724.10 381.06L720.70 381.06Z" fill="#5a48e0"/>
<path d="M732.90 377.83L734.60 381.06L731.20 381.06Z" fill="#5a48e0"/>
<circle cx="707.20" cy="382.50" r="1.5" fill="#18b8c0"/>
<circle cx="727.40" cy="382.50" r="1.5" fill="#5a48e0"/>
<circle cx="700.30" cy="383.10" r="1.5" fill="#f07b6a"/>
<circle cx="732.10" cy="384.40" r="1.5" fill="#5a48e0"/>
<path d="M716.90 382.53L718.60 385.76L715.20 385.76Z" fill="#18b8c0"/>
<circle cx="741.80" cy="384.40" r="1.5" fill="#5a48e0"/>
<circle cx="689.80" cy="385.80" r="1.5" fill="#f07b6a"/>
<path d="M708.60 385.33L710.30 388.56L706.90 388.56Z" fill="#f07b6a"/>
<path d="M721.00 385.33L722.70 388.56L719.30 388.56Z" fill="#5a48e0"/>
<circle cx="711.40" cy="388.60" r="1.5" fill="#18b8c0"/>
<circle cx="708.00" cy="390.80" r="1.5" fill="#f07b6a"/>
<circle cx="703.10" cy="392.70" r="1.5" fill="#f07b6a"/>
<circle cx="698.90" cy="392.70" r="1.5" fill="#18b8c0"/>
<circle cx="712.70" cy="393.60" r="1.5" fill="#f07b6a"/>
<circle cx="715.50" cy="392.70" r="1.5" fill="#f07b6a"/>
<circle cx="717.40" cy="394.10" r="1.5" fill="#f07b6a"/>
<circle cx="685.90" cy="396.90" r="1.5" fill="#f07b6a"/>
<path d="M704.40 396.43L706.10 399.66L702.70 399.66Z" fill="#18b8c0"/>
<circle cx="715.50" cy="401.90" r="1.5" fill="#f07b6a"/>
<circle cx="712.70" cy="403.80" r="1.5" fill="#18b8c0"/>
<circle cx="701.70" cy="403.80" r="1.5" fill="#f07b6a"/>
<circle cx="702.50" cy="407.40" r="1.5" fill="#18b8c0"/>
<path d="M705.30 404.73L707.00 407.96L703.60 407.96Z" fill="#18b8c0"/>
<circle cx="744.50" cy="406.60" r="1.5" fill="#5a48e0"/>
<text x="320.00" y="322.50" font-size="7.6" text-anchor="middle" fill="#222" transform="rotate(-90 320 322.5)" dominant-baseline="middle">NMDS2</text>
<text x="0.00" y="0.00" font-size="8" text-anchor="middle" font-weight="bold" fill="#222" transform="translate(312.6 262.7) rotate(-90) scale(1 0.72)" dominant-baseline="middle">bacteria</text>
<text x="311.80" y="383.40" font-size="8.2" text-anchor="middle" font-weight="bold" fill="#222" transform="rotate(-90 311.8 383.4)" dominant-baseline="middle">Fungi</text>
<text x="545.50" y="448.00" font-size="7.6" text-anchor="middle" fill="#222" >NMDS1</text>
</svg></body></html>
